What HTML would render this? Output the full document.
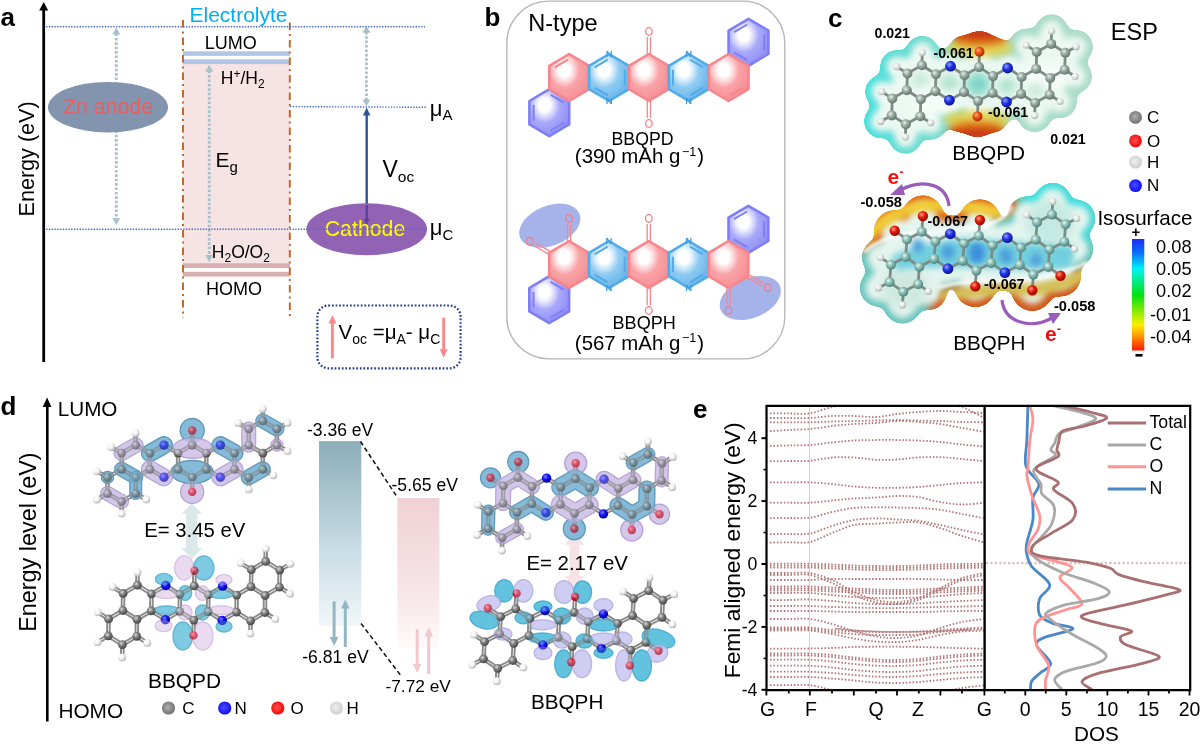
<!DOCTYPE html>
<html><head><meta charset="utf-8"><style>
html,body{margin:0;padding:0;background:#fff;overflow:hidden}
svg{display:block;will-change:transform}
text{font-family:"Liberation Sans",sans-serif}
</style></head><body>
<svg width="1200" height="752" viewBox="0 0 1200 752">
<rect width="1200" height="752" fill="#fff"/>
<text x="0.5" y="26.0" font-size="26" fill="#000" text-anchor="start" font-weight="bold" >a</text>
<rect x="183" y="63.5" width="107" height="200" fill="#f6e3e3"/>
<rect x="183" y="51.3" width="107" height="4.6" fill="#b3c5e6"/>
<rect x="183" y="59.3" width="107" height="4.8" fill="#b3c5e6"/>
<rect x="183" y="263.2" width="107" height="4.8" fill="#d8b0b2"/>
<rect x="183" y="271.8" width="107" height="4.8" fill="#d8b0b2"/>
<line x1="183" y1="20" x2="183" y2="318" stroke="#cc6018" stroke-width="1.9" stroke-dasharray="7.5 4 2 4"/>
<line x1="289.8" y1="22.5" x2="289.8" y2="318.5" stroke="#cc6018" stroke-width="1.9" stroke-dasharray="7.5 4 2 4"/>
<line x1="43.7" y1="9" x2="43.7" y2="362" stroke="#000" stroke-width="2.8"/>
<polygon points="43.7,2 39.2,10.5 48.2,10.5" fill="#000"/>
<line x1="116.3" y1="33.5" x2="116.3" y2="219" stroke="#a7c1c8" stroke-width="2.8" stroke-dasharray="2.6 1.8"/>
<polygon points="116.3,27.5 112.4,34.5 120.2,34.5" fill="#a7c1c8"/>
<polygon points="116.3,225.0 112.4,218.0 120.2,218.0" fill="#a7c1c8"/>
<ellipse cx="108" cy="107.2" rx="60" ry="25.3" fill="#8294ae"/>
<text x="108.0" y="114.0" font-size="21.3" fill="#f25b5b" text-anchor="middle" >Zn anode</text>
<line x1="209.2" y1="70.7" x2="209.2" y2="256" stroke="#a7c1c8" stroke-width="2.8" stroke-dasharray="2.6 1.8"/>
<polygon points="209.2,64.7 205.3,71.7 213.1,71.7" fill="#a7c1c8"/>
<polygon points="209.2,262.0 205.3,255.0 213.1,255.0" fill="#a7c1c8"/>
<line x1="366.4" y1="31.8" x2="366.4" y2="100.5" stroke="#a7c1c8" stroke-width="2.8" stroke-dasharray="2.6 1.8"/>
<polygon points="366.4,25.8 362.5,32.8 370.3,32.8" fill="#a7c1c8"/>
<polygon points="366.4,106.5 362.5,99.5 370.3,99.5" fill="#a7c1c8"/>
<line x1="366.7" y1="114" x2="366.7" y2="220" stroke="#2d54a0" stroke-width="2.4"/>
<polygon points="366.7,107.5 362.9,115.5 370.4,115.5" fill="#2d54a0"/>
<ellipse cx="366.7" cy="229.3" rx="60.3" ry="26" fill="#9263b5"/>
<polygon points="366.7,226.0 363.4,219.0 369.9,219.0" fill="#6a3fa4"/>
<line x1="366.7" y1="205" x2="366.7" y2="220" stroke="#5a3ca8" stroke-width="2.4"/>
<text x="365.0" y="235.8" font-size="21.3" fill="#ffff00" text-anchor="middle" >Cathode</text>
<line x1="46" y1="26.7" x2="425" y2="26.7" stroke="#4a70c8" stroke-width="1.4" stroke-dasharray="1.4 1.4"/>
<line x1="46" y1="229.2" x2="425" y2="229.2" stroke="#4a70c8" stroke-width="1.4" stroke-dasharray="1.4 1.4"/>
<line x1="290" y1="106.6" x2="425.8" y2="107.3" stroke="#4a70c8" stroke-width="1.4" stroke-dasharray="1.4 1.4"/>
<text x="189.5" y="22.0" font-size="21" fill="#00aeef" text-anchor="start" >Electrolyte</text>
<text x="204.8" y="48.8" font-size="18" fill="#000" text-anchor="start" >LUMO</text>
<text x="220.8" y="84" font-size="17.5">H<tspan font-size="12" dy="-6">+</tspan><tspan dy="6">/H</tspan><tspan font-size="12" dy="4">2</tspan></text>
<text x="215.5" y="166.7" font-size="21">E<tspan font-size="15" dy="5">g</tspan></text>
<text x="211.8" y="257.5" font-size="17.5">H<tspan font-size="12" dy="4">2</tspan><tspan dy="-4">O/O</tspan><tspan font-size="12" dy="4">2</tspan></text>
<text x="205.9" y="295.0" font-size="18" fill="#000" text-anchor="start" >HOMO</text>
<text x="429.8" y="115.5" font-size="22">μ<tspan font-size="15" dy="4.5">A</tspan></text>
<text x="429.8" y="235" font-size="22">μ<tspan font-size="15" dy="4.5">C</tspan></text>
<text x="382.5" y="176.7" font-size="23">V<tspan font-size="15.5" dy="5.5">oc</tspan></text>
<text transform="translate(34.2,216.5) rotate(-90)" font-size="21.6">Energy (eV)</text>
<rect x="317.4" y="305.5" width="143.2" height="62.8" rx="11" fill="none" stroke="#1d3d8c" stroke-width="2.2" stroke-dasharray="1.7 1.9"/>
<line x1="332.4" y1="358.3" x2="332.4" y2="322" stroke="#f78a8c" stroke-width="3"/>
<polygon points="332.4,315.0 328.4,323.5 336.4,323.5" fill="#f78a8c"/>
<line x1="443.7" y1="317.7" x2="443.7" y2="351" stroke="#f78a8c" stroke-width="3"/>
<polygon points="443.7,357.7 439.7,349.2 447.7,349.2" fill="#f78a8c"/>
<text x="338.5" y="339" font-size="20.5">V<tspan font-size="14" dy="4.5">oc</tspan><tspan dy="-4.5"> =μ</tspan><tspan font-size="14" dy="4.5">A</tspan><tspan dy="-4.5">- μ</tspan><tspan font-size="14" dy="4.5">C</tspan></text>
<defs>
<radialGradient id="g_pink" cx="0.38" cy="0.34" r="0.75"><stop offset="0" stop-color="#fff"/><stop offset="0.18" stop-color="#fff" stop-opacity="0.9"/><stop offset="0.5" stop-color="#f9a3a7"/><stop offset="1" stop-color="#f58a90"/></radialGradient>
<radialGradient id="g_blue" cx="0.38" cy="0.34" r="0.75"><stop offset="0" stop-color="#fff"/><stop offset="0.18" stop-color="#fff" stop-opacity="0.9"/><stop offset="0.5" stop-color="#8fcbf2"/><stop offset="1" stop-color="#5cb1ea"/></radialGradient>
<radialGradient id="g_purp" cx="0.38" cy="0.34" r="0.75"><stop offset="0" stop-color="#fff"/><stop offset="0.18" stop-color="#fff" stop-opacity="0.9"/><stop offset="0.5" stop-color="#a9a9fa"/><stop offset="1" stop-color="#8a8af4"/></radialGradient>
</defs>
<text x="484.5" y="26.0" font-size="26" fill="#000" text-anchor="start" font-weight="bold" >b</text>
<rect x="506.8" y="1.2" width="278" height="357.6" rx="42" fill="none" stroke="#b4b4b4" stroke-width="1.3"/>
<text x="528.2" y="31.3" font-size="23.6" fill="#000" text-anchor="start" >N-type</text>
<polygon points="549.3,89.2 569.2,101.0 569.2,124.4 549.3,136.2 529.4,124.4 529.4,101.0" fill="url(#g_purp)" stroke="#7f7ff4" stroke-width="2.6" stroke-linejoin="round"/>
<line x1="550.6" y1="94.9" x2="563.8" y2="102.6" stroke="#7f7ff4" stroke-width="2"/>
<line x1="533.6" y1="104.9" x2="533.6" y2="120.4" stroke="#7f7ff4" stroke-width="2"/>
<line x1="550.6" y1="130.5" x2="563.8" y2="122.8" stroke="#7f7ff4" stroke-width="2"/>
<polygon points="748.5,18.9 768.4,30.6 768.4,54.0 748.5,65.8 728.6,54.0 728.6,30.6" fill="url(#g_purp)" stroke="#7f7ff4" stroke-width="2.6" stroke-linejoin="round"/>
<line x1="734.0" y1="32.2" x2="747.2" y2="24.5" stroke="#7f7ff4" stroke-width="2"/>
<line x1="764.2" y1="34.6" x2="764.2" y2="50.1" stroke="#7f7ff4" stroke-width="2"/>
<line x1="747.2" y1="60.1" x2="734.0" y2="52.4" stroke="#7f7ff4" stroke-width="2"/>
<polygon points="569.2,54.0 589.1,65.8 589.1,89.2 569.2,101.0 549.3,89.2 549.3,65.8" fill="url(#g_pink)" stroke="#f7868c" stroke-width="2.6" stroke-linejoin="round"/>
<line x1="554.8" y1="67.4" x2="567.9" y2="59.7" stroke="#f7868c" stroke-width="2"/>
<polygon points="609.1,54.0 629.0,65.8 629.0,89.2 609.1,101.0 589.1,89.2 589.1,65.8" fill="url(#g_blue)" stroke="#52abe8" stroke-width="2.6" stroke-linejoin="round"/>
<line x1="594.6" y1="67.4" x2="607.7" y2="59.7" stroke="#52abe8" stroke-width="2"/>
<line x1="594.6" y1="87.6" x2="607.7" y2="95.3" stroke="#52abe8" stroke-width="2"/>
<line x1="624.8" y1="69.8" x2="624.8" y2="85.2" stroke="#52abe8" stroke-width="2"/>
<polygon points="648.9,54.0 668.8,65.8 668.8,89.2 648.9,101.0 629.0,89.2 629.0,65.8" fill="url(#g_pink)" stroke="#f7868c" stroke-width="2.6" stroke-linejoin="round"/>
<polygon points="688.7,54.0 708.7,65.8 708.7,89.2 688.7,101.0 668.8,89.2 668.8,65.8" fill="url(#g_blue)" stroke="#52abe8" stroke-width="2.6" stroke-linejoin="round"/>
<line x1="673.0" y1="69.8" x2="673.0" y2="85.2" stroke="#52abe8" stroke-width="2"/>
<line x1="690.1" y1="59.7" x2="703.2" y2="67.4" stroke="#52abe8" stroke-width="2"/>
<line x1="690.1" y1="95.3" x2="703.2" y2="87.6" stroke="#52abe8" stroke-width="2"/>
<polygon points="728.6,54.0 748.5,65.8 748.5,89.2 728.6,101.0 708.7,89.2 708.7,65.8" fill="url(#g_pink)" stroke="#f7868c" stroke-width="2.6" stroke-linejoin="round"/>
<line x1="743.0" y1="87.6" x2="729.9" y2="95.3" stroke="#f7868c" stroke-width="2"/>
<line x1="647.3" y1="54.0" x2="647.3" y2="37.0" stroke="#f7868c" stroke-width="1.3"/>
<line x1="650.5" y1="54.0" x2="650.5" y2="37.0" stroke="#f7868c" stroke-width="1.3"/>
<ellipse cx="648.9" cy="31.5" rx="3.3" ry="3.8" fill="none" stroke="#f47c82" stroke-width="1.3"/>
<line x1="650.5" y1="101.0" x2="650.5" y2="118.0" stroke="#f7868c" stroke-width="1.3"/>
<line x1="647.3" y1="101.0" x2="647.3" y2="118.0" stroke="#f7868c" stroke-width="1.3"/>
<ellipse cx="648.9" cy="123.5" rx="3.3" ry="3.8" fill="none" stroke="#f47c82" stroke-width="1.3"/>
<text x="609.1" y="57.4" font-size="9.5" fill="#3d9be0" text-anchor="middle" font-weight="bold">N</text>
<text x="609.1" y="104.4" font-size="9.5" fill="#3d9be0" text-anchor="middle" font-weight="bold">N</text>
<text x="688.7" y="57.4" font-size="9.5" fill="#3d9be0" text-anchor="middle" font-weight="bold">N</text>
<text x="688.7" y="104.4" font-size="9.5" fill="#3d9be0" text-anchor="middle" font-weight="bold">N</text>
<ellipse cx="549.8" cy="225.7" rx="32" ry="20" transform="rotate(-22 549.8 225.7)" fill="#97a4e6" fill-opacity="0.85"/>
<ellipse cx="750.3" cy="298.0" rx="32" ry="20" transform="rotate(-22 750.3 298.0)" fill="#97a4e6" fill-opacity="0.85"/>
<polygon points="549.2,276.2 569.1,288.0 569.1,311.4 549.2,323.1 529.3,311.4 529.3,288.0" fill="url(#g_purp)" stroke="#7f7ff4" stroke-width="2.6" stroke-linejoin="round"/>
<line x1="550.5" y1="281.9" x2="563.7" y2="289.6" stroke="#7f7ff4" stroke-width="2"/>
<line x1="533.5" y1="291.9" x2="533.5" y2="307.4" stroke="#7f7ff4" stroke-width="2"/>
<line x1="550.5" y1="317.5" x2="563.7" y2="309.8" stroke="#7f7ff4" stroke-width="2"/>
<polygon points="748.4,205.8 768.3,217.6 768.3,241.0 748.4,252.8 728.5,241.0 728.5,217.6" fill="url(#g_purp)" stroke="#7f7ff4" stroke-width="2.6" stroke-linejoin="round"/>
<line x1="733.9" y1="219.2" x2="747.1" y2="211.5" stroke="#7f7ff4" stroke-width="2"/>
<line x1="764.1" y1="221.6" x2="764.1" y2="237.1" stroke="#7f7ff4" stroke-width="2"/>
<line x1="747.1" y1="247.1" x2="733.9" y2="239.4" stroke="#7f7ff4" stroke-width="2"/>
<polygon points="569.1,241.0 589.0,252.8 589.0,276.2 569.1,288.0 549.2,276.2 549.2,252.8" fill="url(#g_pink)" stroke="#f7868c" stroke-width="2.6" stroke-linejoin="round"/>
<polygon points="609.0,241.0 628.9,252.8 628.9,276.2 609.0,288.0 589.0,276.2 589.0,252.8" fill="url(#g_blue)" stroke="#52abe8" stroke-width="2.6" stroke-linejoin="round"/>
<line x1="594.5" y1="254.4" x2="607.6" y2="246.7" stroke="#52abe8" stroke-width="2"/>
<line x1="594.5" y1="274.6" x2="607.6" y2="282.3" stroke="#52abe8" stroke-width="2"/>
<line x1="624.7" y1="256.8" x2="624.7" y2="272.2" stroke="#52abe8" stroke-width="2"/>
<polygon points="648.8,241.0 668.7,252.8 668.7,276.2 648.8,288.0 628.9,276.2 628.9,252.8" fill="url(#g_pink)" stroke="#f7868c" stroke-width="2.6" stroke-linejoin="round"/>
<polygon points="688.6,241.0 708.6,252.8 708.6,276.2 688.6,288.0 668.7,276.2 668.7,252.8" fill="url(#g_blue)" stroke="#52abe8" stroke-width="2.6" stroke-linejoin="round"/>
<line x1="672.9" y1="256.8" x2="672.9" y2="272.2" stroke="#52abe8" stroke-width="2"/>
<line x1="690.0" y1="246.7" x2="703.1" y2="254.4" stroke="#52abe8" stroke-width="2"/>
<line x1="690.0" y1="282.3" x2="703.1" y2="274.6" stroke="#52abe8" stroke-width="2"/>
<polygon points="728.5,241.0 748.4,252.8 748.4,276.2 728.5,288.0 708.6,276.2 708.6,252.8" fill="url(#g_pink)" stroke="#f7868c" stroke-width="2.6" stroke-linejoin="round"/>
<line x1="647.2" y1="241.0" x2="647.2" y2="224.0" stroke="#f7868c" stroke-width="1.3"/>
<line x1="650.4" y1="241.0" x2="650.4" y2="224.0" stroke="#f7868c" stroke-width="1.3"/>
<ellipse cx="648.8" cy="218.5" rx="3.3" ry="3.8" fill="none" stroke="#f47c82" stroke-width="1.3"/>
<line x1="650.4" y1="288.0" x2="650.4" y2="305.0" stroke="#f7868c" stroke-width="1.3"/>
<line x1="647.2" y1="288.0" x2="647.2" y2="305.0" stroke="#f7868c" stroke-width="1.3"/>
<ellipse cx="648.8" cy="310.5" rx="3.3" ry="3.8" fill="none" stroke="#f47c82" stroke-width="1.3"/>
<line x1="567.5" y1="241.0" x2="567.5" y2="224.0" stroke="#f7868c" stroke-width="1.3"/>
<line x1="570.7" y1="241.0" x2="570.7" y2="224.0" stroke="#f7868c" stroke-width="1.3"/>
<ellipse cx="569.1" cy="218.5" rx="3.3" ry="3.8" fill="none" stroke="#f47c82" stroke-width="1.3"/>
<line x1="548.4" y1="254.1" x2="533.7" y2="245.5" stroke="#f7868c" stroke-width="1.3"/>
<line x1="550.0" y1="251.4" x2="535.3" y2="242.7" stroke="#f7868c" stroke-width="1.3"/>
<ellipse cx="529.8" cy="241.3" rx="3.3" ry="3.8" fill="none" stroke="#f47c82" stroke-width="1.3"/>
<line x1="730.1" y1="288.0" x2="730.1" y2="305.0" stroke="#f7868c" stroke-width="1.3"/>
<line x1="726.9" y1="288.0" x2="726.9" y2="305.0" stroke="#f7868c" stroke-width="1.3"/>
<ellipse cx="728.5" cy="310.5" rx="3.3" ry="3.8" fill="none" stroke="#f47c82" stroke-width="1.3"/>
<line x1="749.2" y1="274.9" x2="763.9" y2="283.5" stroke="#f7868c" stroke-width="1.3"/>
<line x1="747.6" y1="277.6" x2="762.3" y2="286.3" stroke="#f7868c" stroke-width="1.3"/>
<ellipse cx="767.8" cy="287.7" rx="3.3" ry="3.8" fill="none" stroke="#f47c82" stroke-width="1.3"/>
<text x="609.0" y="244.4" font-size="9.5" fill="#3d9be0" text-anchor="middle" font-weight="bold">N</text>
<text x="609.0" y="291.4" font-size="9.5" fill="#3d9be0" text-anchor="middle" font-weight="bold">N</text>
<text x="688.6" y="244.4" font-size="9.5" fill="#3d9be0" text-anchor="middle" font-weight="bold">N</text>
<text x="688.6" y="291.4" font-size="9.5" fill="#3d9be0" text-anchor="middle" font-weight="bold">N</text>
<text x="642.5" y="144.7" font-size="17.7" fill="#000" text-anchor="middle" >BBQPD</text>
<text x="639.4" y="163.3" font-size="20.4" text-anchor="middle">(390 mAh g<tspan font-size="12.5" dy="-7.5" dx="1.6">−1</tspan><tspan dy="7.5" dx="1">)</tspan></text>
<text x="644.2" y="329.2" font-size="18.1" fill="#000" text-anchor="middle" >BBQPH</text>
<text x="639.4" y="349.5" font-size="20.4" text-anchor="middle">(567 mAh g<tspan font-size="12.5" dy="-7.5" dx="1.6">−1</tspan><tspan dy="7.5" dx="1">)</tspan></text>
<defs>
<radialGradient id="bC" cx="0.38" cy="0.35" r="0.7"><stop offset="0" stop-color="#e8efec"/><stop offset="0.45" stop-color="#94a89e"/><stop offset="1" stop-color="#5e6e66"/></radialGradient>
<radialGradient id="bN" cx="0.38" cy="0.35" r="0.7"><stop offset="0" stop-color="#8fa0ff"/><stop offset="0.45" stop-color="#1f34e0"/><stop offset="1" stop-color="#0a0f8a"/></radialGradient>
<radialGradient id="bO" cx="0.38" cy="0.35" r="0.7"><stop offset="0" stop-color="#ffb070"/><stop offset="0.45" stop-color="#e85010"/><stop offset="1" stop-color="#9a2a00"/></radialGradient>
<radialGradient id="bH" cx="0.38" cy="0.35" r="0.7"><stop offset="0" stop-color="#ffffff"/><stop offset="0.45" stop-color="#e4e8e6"/><stop offset="1" stop-color="#a8b0ac"/></radialGradient>
<radialGradient id="bO2" cx="0.38" cy="0.35" r="0.7"><stop offset="0" stop-color="#ff9a80"/><stop offset="0.45" stop-color="#e01a0a"/><stop offset="1" stop-color="#8a0800"/></radialGradient>
<radialGradient id="bCc" cx="0.38" cy="0.35" r="0.7"><stop offset="0" stop-color="#e4f6f2"/><stop offset="0.45" stop-color="#86bab2"/><stop offset="1" stop-color="#4a7c76"/></radialGradient>
<radialGradient id="dC" cx="0.38" cy="0.35" r="0.7"><stop offset="0" stop-color="#d8d8d8"/><stop offset="0.45" stop-color="#7a7a7a"/><stop offset="1" stop-color="#3e3e3e"/></radialGradient>
<radialGradient id="dN" cx="0.38" cy="0.35" r="0.7"><stop offset="0" stop-color="#8080ff"/><stop offset="0.45" stop-color="#1010f0"/><stop offset="1" stop-color="#00008a"/></radialGradient>
<radialGradient id="dO" cx="0.38" cy="0.35" r="0.7"><stop offset="0" stop-color="#ff9090"/><stop offset="0.45" stop-color="#e8102a"/><stop offset="1" stop-color="#8a0010"/></radialGradient>
<radialGradient id="dH" cx="0.38" cy="0.35" r="0.7"><stop offset="0" stop-color="#ffffff"/><stop offset="0.45" stop-color="#f4f4f4"/><stop offset="1" stop-color="#b0b0b0"/></radialGradient>
<radialGradient id="dCb" cx="0.38" cy="0.35" r="0.7"><stop offset="0" stop-color="#bfe0ee"/><stop offset="0.45" stop-color="#3f8fae"/><stop offset="1" stop-color="#1d5a74"/></radialGradient>
<radialGradient id="dCp" cx="0.38" cy="0.35" r="0.7"><stop offset="0" stop-color="#efe0f4"/><stop offset="0.45" stop-color="#b89cc8"/><stop offset="1" stop-color="#7d5e92"/></radialGradient>
<filter id="goo" x="-20%" y="-20%" width="140%" height="140%"><feGaussianBlur stdDeviation="4.5"/><feComponentTransfer><feFuncA type="linear" slope="24" intercept="-10"/></feComponentTransfer></filter>
<filter id="bl3" x="-50%" y="-50%" width="200%" height="200%"><feGaussianBlur stdDeviation="3"/></filter>
<filter id="bl5" x="-50%" y="-50%" width="200%" height="200%"><feGaussianBlur stdDeviation="5"/></filter>
<filter id="bl8" x="-50%" y="-50%" width="200%" height="200%"><feGaussianBlur stdDeviation="8"/></filter>
<filter id="bl2" x="-50%" y="-50%" width="200%" height="200%"><feGaussianBlur stdDeviation="1.6"/></filter>
</defs>
<text x="828.0" y="27.3" font-size="26" fill="#000" text-anchor="start" font-weight="bold" >c</text>
<mask id="mpd" maskUnits="userSpaceOnUse" x="0" y="0" width="1200" height="752"><g filter="url(#goo)">
<circle cx="921.9" cy="65.3" r="17.5" fill="#fff"/>
<circle cx="935.9" cy="74.3" r="17.5" fill="#fff"/>
<circle cx="935.4" cy="91.2" r="17.5" fill="#fff"/>
<circle cx="920.8" cy="99.3" r="17.5" fill="#fff"/>
<circle cx="906.8" cy="90.3" r="17.5" fill="#fff"/>
<circle cx="907.4" cy="73.4" r="17.5" fill="#fff"/>
<circle cx="950.5" cy="66.2" r="17.5" fill="#fff"/>
<circle cx="964.5" cy="75.2" r="17.5" fill="#fff"/>
<circle cx="964.0" cy="92.1" r="17.5" fill="#fff"/>
<circle cx="949.4" cy="100.2" r="17.5" fill="#fff"/>
<circle cx="979.0" cy="67.1" r="17.5" fill="#fff"/>
<circle cx="993.0" cy="76.1" r="17.5" fill="#fff"/>
<circle cx="992.5" cy="93.0" r="17.5" fill="#fff"/>
<circle cx="978.0" cy="101.1" r="17.5" fill="#fff"/>
<circle cx="1007.6" cy="68.0" r="17.5" fill="#fff"/>
<circle cx="1021.6" cy="77.0" r="17.5" fill="#fff"/>
<circle cx="1021.1" cy="93.9" r="17.5" fill="#fff"/>
<circle cx="1006.5" cy="102.0" r="17.5" fill="#fff"/>
<circle cx="1036.2" cy="68.9" r="17.5" fill="#fff"/>
<circle cx="1050.2" cy="77.9" r="17.5" fill="#fff"/>
<circle cx="1049.6" cy="94.8" r="17.5" fill="#fff"/>
<circle cx="1035.1" cy="102.9" r="17.5" fill="#fff"/>
<circle cx="920.3" cy="116.3" r="17.5" fill="#fff"/>
<circle cx="905.8" cy="124.3" r="17.5" fill="#fff"/>
<circle cx="891.7" cy="115.4" r="17.5" fill="#fff"/>
<circle cx="892.3" cy="98.4" r="17.5" fill="#fff"/>
<circle cx="1051.2" cy="43.9" r="17.5" fill="#fff"/>
<circle cx="1065.3" cy="52.8" r="17.5" fill="#fff"/>
<circle cx="1064.7" cy="69.8" r="17.5" fill="#fff"/>
<circle cx="1036.7" cy="51.9" r="17.5" fill="#fff"/>
<circle cx="979.5" cy="51.8" r="20.5" fill="#fff"/>
<circle cx="977.5" cy="116.4" r="20.5" fill="#fff"/>
<circle cx="881.8" cy="91.7" r="16.5" fill="#fff"/>
<circle cx="880.8" cy="121.4" r="16.5" fill="#fff"/>
<circle cx="905.4" cy="137.1" r="16.5" fill="#fff"/>
<circle cx="930.8" cy="123.0" r="16.5" fill="#fff"/>
<circle cx="1051.6" cy="31.1" r="16.5" fill="#fff"/>
<circle cx="1076.2" cy="46.8" r="16.5" fill="#fff"/>
<circle cx="1075.2" cy="76.5" r="16.5" fill="#fff"/>
<circle cx="1026.2" cy="45.2" r="16.5" fill="#fff"/>
<circle cx="922.3" cy="52.6" r="16.5" fill="#fff"/>
<circle cx="896.8" cy="66.7" r="16.5" fill="#fff"/>
<circle cx="1034.7" cy="115.6" r="16.5" fill="#fff"/>
<circle cx="1060.2" cy="101.5" r="16.5" fill="#fff"/>
<circle cx="963.0" cy="50.0" r="14" fill="#fff"/>
<circle cx="996.0" cy="52.0" r="14" fill="#fff"/>
<circle cx="960.0" cy="118.0" r="14" fill="#fff"/>
<circle cx="994.0" cy="118.0" r="14" fill="#fff"/>
</g></mask>
<g mask="url(#mpd)">
<defs><linearGradient id="rimPD" x1="850" y1="0" x2="1100" y2="0" gradientUnits="userSpaceOnUse"><stop offset="0" stop-color="#3ee0e0"/><stop offset="0.25" stop-color="#6adcd2"/><stop offset="0.55" stop-color="#a6dcc8"/><stop offset="1" stop-color="#acdcc8"/></linearGradient></defs>
<rect x="850" y="0" width="260" height="170" fill="url(#rimPD)"/>
<g filter="url(#bl3)"><g filter="url(#goo)"><circle cx="921.9" cy="65.3" r="12.5" fill="#ecf8f2"/><circle cx="935.9" cy="74.3" r="12.5" fill="#ecf8f2"/><circle cx="935.4" cy="91.2" r="12.5" fill="#ecf8f2"/><circle cx="920.8" cy="99.3" r="12.5" fill="#ecf8f2"/><circle cx="906.8" cy="90.3" r="12.5" fill="#ecf8f2"/><circle cx="907.4" cy="73.4" r="12.5" fill="#ecf8f2"/><circle cx="950.5" cy="66.2" r="12.5" fill="#ecf8f2"/><circle cx="964.5" cy="75.2" r="12.5" fill="#ecf8f2"/><circle cx="964.0" cy="92.1" r="12.5" fill="#ecf8f2"/><circle cx="949.4" cy="100.2" r="12.5" fill="#ecf8f2"/><circle cx="979.0" cy="67.1" r="12.5" fill="#ecf8f2"/><circle cx="993.0" cy="76.1" r="12.5" fill="#ecf8f2"/><circle cx="992.5" cy="93.0" r="12.5" fill="#ecf8f2"/><circle cx="978.0" cy="101.1" r="12.5" fill="#ecf8f2"/><circle cx="1007.6" cy="68.0" r="12.5" fill="#ecf8f2"/><circle cx="1021.6" cy="77.0" r="12.5" fill="#ecf8f2"/><circle cx="1021.1" cy="93.9" r="12.5" fill="#ecf8f2"/><circle cx="1006.5" cy="102.0" r="12.5" fill="#ecf8f2"/><circle cx="1036.2" cy="68.9" r="12.5" fill="#ecf8f2"/><circle cx="1050.2" cy="77.9" r="12.5" fill="#ecf8f2"/><circle cx="1049.6" cy="94.8" r="12.5" fill="#ecf8f2"/><circle cx="1035.1" cy="102.9" r="12.5" fill="#ecf8f2"/><circle cx="920.3" cy="116.3" r="12.5" fill="#ecf8f2"/><circle cx="905.8" cy="124.3" r="12.5" fill="#ecf8f2"/><circle cx="891.7" cy="115.4" r="12.5" fill="#ecf8f2"/><circle cx="892.3" cy="98.4" r="12.5" fill="#ecf8f2"/><circle cx="1051.2" cy="43.9" r="12.5" fill="#ecf8f2"/><circle cx="1065.3" cy="52.8" r="12.5" fill="#ecf8f2"/><circle cx="1064.7" cy="69.8" r="12.5" fill="#ecf8f2"/><circle cx="1036.7" cy="51.9" r="12.5" fill="#ecf8f2"/><circle cx="979.5" cy="51.8" r="11" fill="#ecf8f2"/><circle cx="977.5" cy="116.4" r="11" fill="#ecf8f2"/><circle cx="881.8" cy="91.7" r="10.5" fill="#ecf8f2"/><circle cx="880.8" cy="121.4" r="10.5" fill="#ecf8f2"/><circle cx="905.4" cy="137.1" r="10.5" fill="#ecf8f2"/><circle cx="930.8" cy="123.0" r="10.5" fill="#ecf8f2"/><circle cx="1051.6" cy="31.1" r="10.5" fill="#ecf8f2"/><circle cx="1076.2" cy="46.8" r="10.5" fill="#ecf8f2"/><circle cx="1075.2" cy="76.5" r="10.5" fill="#ecf8f2"/><circle cx="1026.2" cy="45.2" r="10.5" fill="#ecf8f2"/><circle cx="922.3" cy="52.6" r="10.5" fill="#ecf8f2"/><circle cx="896.8" cy="66.7" r="10.5" fill="#ecf8f2"/><circle cx="1034.7" cy="115.6" r="10.5" fill="#ecf8f2"/><circle cx="1060.2" cy="101.5" r="10.5" fill="#ecf8f2"/></g></g>
<g filter="url(#bl5)"><ellipse cx="935" cy="102" rx="24" ry="14" fill="#f4fcf8"/><ellipse cx="1045" cy="76" rx="24" ry="14" fill="#f6fcf9"/><ellipse cx="978" cy="84" rx="12" ry="12" fill="#7fd6c6"/><ellipse cx="949" cy="83" rx="9" ry="8" fill="#a8e0cc"/><ellipse cx="1007" cy="86" rx="9" ry="8" fill="#a8e0cc"/><ellipse cx="920" cy="80" rx="9" ry="7" fill="#c4e8d6"/><ellipse cx="1036" cy="90" rx="9" ry="7" fill="#c4e8d6"/></g>
<g filter="url(#bl3)"><ellipse cx="979.8" cy="48.0" rx="33" ry="9" fill="#e4d24a" fill-opacity="0.9"/><ellipse cx="979.8" cy="39.0" rx="28" ry="8" fill="#e07a18"/><ellipse cx="979.8" cy="33.0" rx="30" ry="7" fill="#c83a12"/></g>
<g filter="url(#bl3)"><ellipse cx="976.8" cy="119.4" rx="33" ry="9" fill="#e4d24a" fill-opacity="0.9"/><ellipse cx="976.8" cy="128.4" rx="28" ry="8" fill="#e07a18"/><ellipse cx="976.8" cy="134.4" rx="30" ry="7" fill="#c83a12"/></g>
</g>
<line x1="921.9" y1="65.3" x2="935.9" y2="74.3" stroke="#7d8c86" stroke-width="2.8"/>
<line x1="921.9" y1="65.3" x2="907.4" y2="73.4" stroke="#7d8c86" stroke-width="2.8"/>
<line x1="921.9" y1="65.3" x2="922.3" y2="52.6" stroke="#7d8c86" stroke-width="2.8"/>
<line x1="935.9" y1="74.3" x2="935.4" y2="91.2" stroke="#7d8c86" stroke-width="2.8"/>
<line x1="935.9" y1="74.3" x2="950.5" y2="66.2" stroke="#7d8c86" stroke-width="2.8"/>
<line x1="935.4" y1="91.2" x2="920.8" y2="99.3" stroke="#7d8c86" stroke-width="2.8"/>
<line x1="935.4" y1="91.2" x2="949.4" y2="100.2" stroke="#7d8c86" stroke-width="2.8"/>
<line x1="920.8" y1="99.3" x2="906.8" y2="90.3" stroke="#7d8c86" stroke-width="2.8"/>
<line x1="920.8" y1="99.3" x2="920.3" y2="116.3" stroke="#7d8c86" stroke-width="2.8"/>
<line x1="906.8" y1="90.3" x2="907.4" y2="73.4" stroke="#7d8c86" stroke-width="2.8"/>
<line x1="906.8" y1="90.3" x2="892.3" y2="98.4" stroke="#7d8c86" stroke-width="2.8"/>
<line x1="907.4" y1="73.4" x2="896.8" y2="66.7" stroke="#7d8c86" stroke-width="2.8"/>
<line x1="950.5" y1="66.2" x2="964.5" y2="75.2" stroke="#7d8c86" stroke-width="2.8"/>
<line x1="964.5" y1="75.2" x2="964.0" y2="92.1" stroke="#7d8c86" stroke-width="2.8"/>
<line x1="964.5" y1="75.2" x2="979.0" y2="67.1" stroke="#7d8c86" stroke-width="2.8"/>
<line x1="964.0" y1="92.1" x2="949.4" y2="100.2" stroke="#7d8c86" stroke-width="2.8"/>
<line x1="964.0" y1="92.1" x2="978.0" y2="101.1" stroke="#7d8c86" stroke-width="2.8"/>
<line x1="979.0" y1="67.1" x2="993.0" y2="76.1" stroke="#7d8c86" stroke-width="2.8"/>
<line x1="979.0" y1="67.1" x2="979.5" y2="51.8" stroke="#7d8c86" stroke-width="2.8"/>
<line x1="993.0" y1="76.1" x2="992.5" y2="93.0" stroke="#7d8c86" stroke-width="2.8"/>
<line x1="993.0" y1="76.1" x2="1007.6" y2="68.0" stroke="#7d8c86" stroke-width="2.8"/>
<line x1="992.5" y1="93.0" x2="978.0" y2="101.1" stroke="#7d8c86" stroke-width="2.8"/>
<line x1="992.5" y1="93.0" x2="1006.5" y2="102.0" stroke="#7d8c86" stroke-width="2.8"/>
<line x1="978.0" y1="101.1" x2="977.5" y2="116.4" stroke="#7d8c86" stroke-width="2.8"/>
<line x1="1007.6" y1="68.0" x2="1021.6" y2="77.0" stroke="#7d8c86" stroke-width="2.8"/>
<line x1="1021.6" y1="77.0" x2="1021.1" y2="93.9" stroke="#7d8c86" stroke-width="2.8"/>
<line x1="1021.6" y1="77.0" x2="1036.2" y2="68.9" stroke="#7d8c86" stroke-width="2.8"/>
<line x1="1021.1" y1="93.9" x2="1006.5" y2="102.0" stroke="#7d8c86" stroke-width="2.8"/>
<line x1="1021.1" y1="93.9" x2="1035.1" y2="102.9" stroke="#7d8c86" stroke-width="2.8"/>
<line x1="1036.2" y1="68.9" x2="1050.2" y2="77.9" stroke="#7d8c86" stroke-width="2.8"/>
<line x1="1036.2" y1="68.9" x2="1036.7" y2="51.9" stroke="#7d8c86" stroke-width="2.8"/>
<line x1="1050.2" y1="77.9" x2="1049.6" y2="94.8" stroke="#7d8c86" stroke-width="2.8"/>
<line x1="1050.2" y1="77.9" x2="1064.7" y2="69.8" stroke="#7d8c86" stroke-width="2.8"/>
<line x1="1049.6" y1="94.8" x2="1035.1" y2="102.9" stroke="#7d8c86" stroke-width="2.8"/>
<line x1="1049.6" y1="94.8" x2="1060.2" y2="101.5" stroke="#7d8c86" stroke-width="2.8"/>
<line x1="1035.1" y1="102.9" x2="1034.7" y2="115.6" stroke="#7d8c86" stroke-width="2.8"/>
<line x1="920.3" y1="116.3" x2="905.8" y2="124.3" stroke="#7d8c86" stroke-width="2.8"/>
<line x1="920.3" y1="116.3" x2="930.8" y2="123.0" stroke="#7d8c86" stroke-width="2.8"/>
<line x1="905.8" y1="124.3" x2="891.7" y2="115.4" stroke="#7d8c86" stroke-width="2.8"/>
<line x1="905.8" y1="124.3" x2="905.4" y2="137.1" stroke="#7d8c86" stroke-width="2.8"/>
<line x1="891.7" y1="115.4" x2="892.3" y2="98.4" stroke="#7d8c86" stroke-width="2.8"/>
<line x1="891.7" y1="115.4" x2="880.8" y2="121.4" stroke="#7d8c86" stroke-width="2.8"/>
<line x1="892.3" y1="98.4" x2="881.8" y2="91.7" stroke="#7d8c86" stroke-width="2.8"/>
<line x1="1051.2" y1="43.9" x2="1065.3" y2="52.8" stroke="#7d8c86" stroke-width="2.8"/>
<line x1="1051.2" y1="43.9" x2="1036.7" y2="51.9" stroke="#7d8c86" stroke-width="2.8"/>
<line x1="1051.2" y1="43.9" x2="1051.6" y2="31.1" stroke="#7d8c86" stroke-width="2.8"/>
<line x1="1065.3" y1="52.8" x2="1064.7" y2="69.8" stroke="#7d8c86" stroke-width="2.8"/>
<line x1="1065.3" y1="52.8" x2="1076.2" y2="46.8" stroke="#7d8c86" stroke-width="2.8"/>
<line x1="1064.7" y1="69.8" x2="1075.2" y2="76.5" stroke="#7d8c86" stroke-width="2.8"/>
<line x1="1036.7" y1="51.9" x2="1026.2" y2="45.2" stroke="#7d8c86" stroke-width="2.8"/>
<circle cx="921.9" cy="65.3" r="5" fill="url(#bC)"/>
<circle cx="935.9" cy="74.3" r="5" fill="url(#bC)"/>
<circle cx="935.4" cy="91.2" r="5" fill="url(#bC)"/>
<circle cx="920.8" cy="99.3" r="5" fill="url(#bC)"/>
<circle cx="906.8" cy="90.3" r="5" fill="url(#bC)"/>
<circle cx="907.4" cy="73.4" r="5" fill="url(#bC)"/>
<circle cx="950.5" cy="66.2" r="5.4" fill="url(#bN)"/>
<circle cx="964.5" cy="75.2" r="5" fill="url(#bC)"/>
<circle cx="964.0" cy="92.1" r="5" fill="url(#bC)"/>
<circle cx="949.4" cy="100.2" r="5.4" fill="url(#bN)"/>
<circle cx="979.0" cy="67.1" r="5" fill="url(#bC)"/>
<circle cx="993.0" cy="76.1" r="5" fill="url(#bC)"/>
<circle cx="992.5" cy="93.0" r="5" fill="url(#bC)"/>
<circle cx="978.0" cy="101.1" r="5" fill="url(#bC)"/>
<circle cx="1007.6" cy="68.0" r="5.4" fill="url(#bN)"/>
<circle cx="1021.6" cy="77.0" r="5" fill="url(#bC)"/>
<circle cx="1021.1" cy="93.9" r="5" fill="url(#bC)"/>
<circle cx="1006.5" cy="102.0" r="5.4" fill="url(#bN)"/>
<circle cx="1036.2" cy="68.9" r="5" fill="url(#bC)"/>
<circle cx="1050.2" cy="77.9" r="5" fill="url(#bC)"/>
<circle cx="1049.6" cy="94.8" r="5" fill="url(#bC)"/>
<circle cx="1035.1" cy="102.9" r="5" fill="url(#bC)"/>
<circle cx="920.3" cy="116.3" r="5" fill="url(#bC)"/>
<circle cx="905.8" cy="124.3" r="5" fill="url(#bC)"/>
<circle cx="891.7" cy="115.4" r="5" fill="url(#bC)"/>
<circle cx="892.3" cy="98.4" r="5" fill="url(#bC)"/>
<circle cx="1051.2" cy="43.9" r="5" fill="url(#bC)"/>
<circle cx="1065.3" cy="52.8" r="5" fill="url(#bC)"/>
<circle cx="1064.7" cy="69.8" r="5" fill="url(#bC)"/>
<circle cx="1036.7" cy="51.9" r="5" fill="url(#bC)"/>
<circle cx="979.5" cy="51.8" r="5" fill="url(#bO)"/>
<circle cx="977.5" cy="116.4" r="5" fill="url(#bO)"/>
<circle cx="881.8" cy="91.7" r="3.6" fill="url(#bH)"/>
<circle cx="880.8" cy="121.4" r="3.6" fill="url(#bH)"/>
<circle cx="905.4" cy="137.1" r="3.6" fill="url(#bH)"/>
<circle cx="930.8" cy="123.0" r="3.6" fill="url(#bH)"/>
<circle cx="1051.6" cy="31.1" r="3.6" fill="url(#bH)"/>
<circle cx="1076.2" cy="46.8" r="3.6" fill="url(#bH)"/>
<circle cx="1075.2" cy="76.5" r="3.6" fill="url(#bH)"/>
<circle cx="1026.2" cy="45.2" r="3.6" fill="url(#bH)"/>
<circle cx="922.3" cy="52.6" r="3.6" fill="url(#bH)"/>
<circle cx="896.8" cy="66.7" r="3.6" fill="url(#bH)"/>
<circle cx="1034.7" cy="115.6" r="3.6" fill="url(#bH)"/>
<circle cx="1060.2" cy="101.5" r="3.6" fill="url(#bH)"/>
<mask id="mph" maskUnits="userSpaceOnUse" x="0" y="0" width="1200" height="752"><g filter="url(#goo)">
<circle cx="921.8" cy="231.8" r="18.5" fill="#fff"/>
<circle cx="935.4" cy="241.5" r="18.5" fill="#fff"/>
<circle cx="934.2" cy="258.9" r="18.5" fill="#fff"/>
<circle cx="919.4" cy="266.7" r="18.5" fill="#fff"/>
<circle cx="905.7" cy="256.9" r="18.5" fill="#fff"/>
<circle cx="906.9" cy="239.5" r="18.5" fill="#fff"/>
<circle cx="950.3" cy="233.8" r="18" fill="#fff"/>
<circle cx="964.0" cy="243.5" r="18.5" fill="#fff"/>
<circle cx="962.7" cy="260.9" r="18.5" fill="#fff"/>
<circle cx="947.9" cy="268.7" r="18" fill="#fff"/>
<circle cx="978.8" cy="235.8" r="18.5" fill="#fff"/>
<circle cx="992.5" cy="245.5" r="18.5" fill="#fff"/>
<circle cx="991.2" cy="262.9" r="18.5" fill="#fff"/>
<circle cx="976.4" cy="270.6" r="18.5" fill="#fff"/>
<circle cx="1007.3" cy="237.7" r="18" fill="#fff"/>
<circle cx="1021.0" cy="247.5" r="18.5" fill="#fff"/>
<circle cx="1019.8" cy="264.9" r="18.5" fill="#fff"/>
<circle cx="1004.9" cy="272.6" r="18" fill="#fff"/>
<circle cx="1035.8" cy="239.7" r="18.5" fill="#fff"/>
<circle cx="1049.5" cy="249.5" r="18.5" fill="#fff"/>
<circle cx="1048.3" cy="266.9" r="18.5" fill="#fff"/>
<circle cx="1033.4" cy="274.6" r="18.5" fill="#fff"/>
<circle cx="918.1" cy="284.1" r="18.5" fill="#fff"/>
<circle cx="903.3" cy="291.8" r="18.5" fill="#fff"/>
<circle cx="889.6" cy="282.1" r="18.5" fill="#fff"/>
<circle cx="890.9" cy="264.7" r="18.5" fill="#fff"/>
<circle cx="1051.9" cy="214.6" r="18.5" fill="#fff"/>
<circle cx="1065.6" cy="224.3" r="18.5" fill="#fff"/>
<circle cx="1064.3" cy="241.7" r="18.5" fill="#fff"/>
<circle cx="1037.1" cy="222.3" r="18.5" fill="#fff"/>
<circle cx="979.9" cy="220.0" r="20.5" fill="#fff"/>
<circle cx="975.3" cy="286.4" r="20.5" fill="#fff"/>
<circle cx="922.9" cy="216.1" r="20.5" fill="#fff"/>
<circle cx="894.7" cy="230.7" r="20.5" fill="#fff"/>
<circle cx="1032.3" cy="290.3" r="20.5" fill="#fff"/>
<circle cx="1060.5" cy="275.7" r="20.5" fill="#fff"/>
<circle cx="880.6" cy="257.4" r="18.5" fill="#fff"/>
<circle cx="878.5" cy="287.9" r="18.5" fill="#fff"/>
<circle cx="902.4" cy="304.9" r="18.5" fill="#fff"/>
<circle cx="928.4" cy="291.4" r="18.5" fill="#fff"/>
<circle cx="1052.8" cy="201.5" r="18.5" fill="#fff"/>
<circle cx="1076.7" cy="218.5" r="18.5" fill="#fff"/>
<circle cx="1074.6" cy="249.0" r="18.5" fill="#fff"/>
<circle cx="1026.8" cy="215.0" r="18.5" fill="#fff"/>
</g></mask>
<g mask="url(#mph)">
<rect x="850" y="170" width="260" height="170" fill="#6cc6be"/>
<g filter="url(#bl8)"><ellipse cx="1055" cy="215" rx="42" ry="40" fill="#3cdede"/></g>
<g filter="url(#bl5)"><path d="M850,240 Q858,190 900,180 Q960,182 1012,196 L1022,210 Q990,222 950,224 Q900,230 862,252 Z" fill="#e06418"/><path d="M930,292 Q980,280 1030,282 Q1070,276 1100,262 L1105,325 L930,325 Z" fill="#d25a1e"/></g>
<g filter="url(#bl3)"><g filter="url(#goo)"><circle cx="921.8" cy="231.8" r="14" fill="#e4f4ee"/><circle cx="935.4" cy="241.5" r="14" fill="#e4f4ee"/><circle cx="934.2" cy="258.9" r="14" fill="#e4f4ee"/><circle cx="919.4" cy="266.7" r="14" fill="#e4f4ee"/><circle cx="905.7" cy="256.9" r="14" fill="#e4f4ee"/><circle cx="906.9" cy="239.5" r="14" fill="#e4f4ee"/><circle cx="950.3" cy="233.8" r="13.5" fill="#e4f4ee"/><circle cx="964.0" cy="243.5" r="14" fill="#e4f4ee"/><circle cx="962.7" cy="260.9" r="14" fill="#e4f4ee"/><circle cx="947.9" cy="268.7" r="13.5" fill="#e4f4ee"/><circle cx="978.8" cy="235.8" r="14" fill="#e4f4ee"/><circle cx="992.5" cy="245.5" r="14" fill="#e4f4ee"/><circle cx="991.2" cy="262.9" r="14" fill="#e4f4ee"/><circle cx="976.4" cy="270.6" r="14" fill="#e4f4ee"/><circle cx="1007.3" cy="237.7" r="13.5" fill="#e4f4ee"/><circle cx="1021.0" cy="247.5" r="14" fill="#e4f4ee"/><circle cx="1019.8" cy="264.9" r="14" fill="#e4f4ee"/><circle cx="1004.9" cy="272.6" r="13.5" fill="#e4f4ee"/><circle cx="1035.8" cy="239.7" r="14" fill="#e4f4ee"/><circle cx="1049.5" cy="249.5" r="14" fill="#e4f4ee"/><circle cx="1048.3" cy="266.9" r="14" fill="#e4f4ee"/><circle cx="1033.4" cy="274.6" r="14" fill="#e4f4ee"/><circle cx="918.1" cy="284.1" r="14" fill="#e4f4ee"/><circle cx="903.3" cy="291.8" r="14" fill="#e4f4ee"/><circle cx="889.6" cy="282.1" r="14" fill="#e4f4ee"/><circle cx="890.9" cy="264.7" r="14" fill="#e4f4ee"/><circle cx="1051.9" cy="214.6" r="14" fill="#e4f4ee"/><circle cx="1065.6" cy="224.3" r="14" fill="#e4f4ee"/><circle cx="1064.3" cy="241.7" r="14" fill="#e4f4ee"/><circle cx="1037.1" cy="222.3" r="14" fill="#e4f4ee"/><circle cx="979.9" cy="220.0" r="13.5" fill="#e4f4ee"/><circle cx="975.3" cy="286.4" r="13.5" fill="#e4f4ee"/><circle cx="922.9" cy="216.1" r="13.5" fill="#e4f4ee"/><circle cx="894.7" cy="230.7" r="13.5" fill="#e4f4ee"/><circle cx="1032.3" cy="290.3" r="13.5" fill="#e4f4ee"/><circle cx="1060.5" cy="275.7" r="13.5" fill="#e4f4ee"/><circle cx="880.6" cy="257.4" r="13" fill="#e4f4ee"/><circle cx="878.5" cy="287.9" r="13" fill="#e4f4ee"/><circle cx="902.4" cy="304.9" r="13" fill="#e4f4ee"/><circle cx="928.4" cy="291.4" r="13" fill="#e4f4ee"/><circle cx="1052.8" cy="201.5" r="13" fill="#e4f4ee"/><circle cx="1076.7" cy="218.5" r="13" fill="#e4f4ee"/><circle cx="1074.6" cy="249.0" r="13" fill="#e4f4ee"/><circle cx="1026.8" cy="215.0" r="13" fill="#e4f4ee"/></g></g>
<g filter="url(#bl5)"><ellipse cx="1050" cy="222" rx="24" ry="22" fill="#c4eae2"/><ellipse cx="905" cy="288" rx="24" ry="20" fill="#cfe9e0"/></g>
<g filter="url(#bl3)" fill="none" stroke-linecap="round"><path d="M866,238 Q885,214 920,206 Q960,204 1000,212" stroke="#f0cc36" stroke-width="12"/><path d="M946,296 Q990,288 1030,290 Q1065,286 1088,272" stroke="#d4be52" stroke-width="12"/></g>
<g filter="url(#bl3)"><path d="M892,256 Q940,236 980,239 Q1030,243 1075,246 L1072,268 Q1030,272 980,268 Q930,266 895,270Z" fill="#72d0de"/><ellipse cx="977" cy="253" rx="9" ry="11" fill="#3a90dc"/><ellipse cx="948" cy="252" rx="7" ry="8" fill="#4a9cdc"/><ellipse cx="1006" cy="256" rx="7" ry="8" fill="#4a9cdc"/><ellipse cx="918" cy="246" rx="6" ry="7" fill="#4e9edc"/><ellipse cx="1036" cy="260" rx="6" ry="7" fill="#4e9edc"/></g>
<g filter="url(#bl2)" fill="none" stroke="#ffffff" stroke-width="3" stroke-opacity="0.95"><path d="M864,252 Q888,232 930,232 Q960,230 985,226 Q1005,220 1012,206"/><path d="M938,288 Q960,280 1000,281 Q1050,281 1088,262"/></g>
</g>
<line x1="921.8" y1="231.8" x2="935.4" y2="241.5" stroke="#7d8c86" stroke-width="2.8"/>
<line x1="921.8" y1="231.8" x2="906.9" y2="239.5" stroke="#7d8c86" stroke-width="2.8"/>
<line x1="921.8" y1="231.8" x2="922.9" y2="216.1" stroke="#7d8c86" stroke-width="2.8"/>
<line x1="935.4" y1="241.5" x2="934.2" y2="258.9" stroke="#7d8c86" stroke-width="2.8"/>
<line x1="935.4" y1="241.5" x2="950.3" y2="233.8" stroke="#7d8c86" stroke-width="2.8"/>
<line x1="934.2" y1="258.9" x2="919.4" y2="266.7" stroke="#7d8c86" stroke-width="2.8"/>
<line x1="934.2" y1="258.9" x2="947.9" y2="268.7" stroke="#7d8c86" stroke-width="2.8"/>
<line x1="919.4" y1="266.7" x2="905.7" y2="256.9" stroke="#7d8c86" stroke-width="2.8"/>
<line x1="919.4" y1="266.7" x2="918.1" y2="284.1" stroke="#7d8c86" stroke-width="2.8"/>
<line x1="905.7" y1="256.9" x2="906.9" y2="239.5" stroke="#7d8c86" stroke-width="2.8"/>
<line x1="905.7" y1="256.9" x2="890.9" y2="264.7" stroke="#7d8c86" stroke-width="2.8"/>
<line x1="906.9" y1="239.5" x2="894.7" y2="230.7" stroke="#7d8c86" stroke-width="2.8"/>
<line x1="950.3" y1="233.8" x2="964.0" y2="243.5" stroke="#7d8c86" stroke-width="2.8"/>
<line x1="964.0" y1="243.5" x2="962.7" y2="260.9" stroke="#7d8c86" stroke-width="2.8"/>
<line x1="964.0" y1="243.5" x2="978.8" y2="235.8" stroke="#7d8c86" stroke-width="2.8"/>
<line x1="962.7" y1="260.9" x2="947.9" y2="268.7" stroke="#7d8c86" stroke-width="2.8"/>
<line x1="962.7" y1="260.9" x2="976.4" y2="270.6" stroke="#7d8c86" stroke-width="2.8"/>
<line x1="978.8" y1="235.8" x2="992.5" y2="245.5" stroke="#7d8c86" stroke-width="2.8"/>
<line x1="978.8" y1="235.8" x2="979.9" y2="220.0" stroke="#7d8c86" stroke-width="2.8"/>
<line x1="992.5" y1="245.5" x2="991.2" y2="262.9" stroke="#7d8c86" stroke-width="2.8"/>
<line x1="992.5" y1="245.5" x2="1007.3" y2="237.7" stroke="#7d8c86" stroke-width="2.8"/>
<line x1="991.2" y1="262.9" x2="976.4" y2="270.6" stroke="#7d8c86" stroke-width="2.8"/>
<line x1="991.2" y1="262.9" x2="1004.9" y2="272.6" stroke="#7d8c86" stroke-width="2.8"/>
<line x1="976.4" y1="270.6" x2="975.3" y2="286.4" stroke="#7d8c86" stroke-width="2.8"/>
<line x1="1007.3" y1="237.7" x2="1021.0" y2="247.5" stroke="#7d8c86" stroke-width="2.8"/>
<line x1="1021.0" y1="247.5" x2="1019.8" y2="264.9" stroke="#7d8c86" stroke-width="2.8"/>
<line x1="1021.0" y1="247.5" x2="1035.8" y2="239.7" stroke="#7d8c86" stroke-width="2.8"/>
<line x1="1019.8" y1="264.9" x2="1004.9" y2="272.6" stroke="#7d8c86" stroke-width="2.8"/>
<line x1="1019.8" y1="264.9" x2="1033.4" y2="274.6" stroke="#7d8c86" stroke-width="2.8"/>
<line x1="1035.8" y1="239.7" x2="1049.5" y2="249.5" stroke="#7d8c86" stroke-width="2.8"/>
<line x1="1035.8" y1="239.7" x2="1037.1" y2="222.3" stroke="#7d8c86" stroke-width="2.8"/>
<line x1="1049.5" y1="249.5" x2="1048.3" y2="266.9" stroke="#7d8c86" stroke-width="2.8"/>
<line x1="1049.5" y1="249.5" x2="1064.3" y2="241.7" stroke="#7d8c86" stroke-width="2.8"/>
<line x1="1048.3" y1="266.9" x2="1033.4" y2="274.6" stroke="#7d8c86" stroke-width="2.8"/>
<line x1="1048.3" y1="266.9" x2="1060.5" y2="275.7" stroke="#7d8c86" stroke-width="2.8"/>
<line x1="1033.4" y1="274.6" x2="1032.3" y2="290.3" stroke="#7d8c86" stroke-width="2.8"/>
<line x1="918.1" y1="284.1" x2="903.3" y2="291.8" stroke="#7d8c86" stroke-width="2.8"/>
<line x1="918.1" y1="284.1" x2="928.4" y2="291.4" stroke="#7d8c86" stroke-width="2.8"/>
<line x1="903.3" y1="291.8" x2="889.6" y2="282.1" stroke="#7d8c86" stroke-width="2.8"/>
<line x1="903.3" y1="291.8" x2="902.4" y2="304.9" stroke="#7d8c86" stroke-width="2.8"/>
<line x1="889.6" y1="282.1" x2="890.9" y2="264.7" stroke="#7d8c86" stroke-width="2.8"/>
<line x1="889.6" y1="282.1" x2="878.5" y2="287.9" stroke="#7d8c86" stroke-width="2.8"/>
<line x1="890.9" y1="264.7" x2="880.6" y2="257.4" stroke="#7d8c86" stroke-width="2.8"/>
<line x1="1051.9" y1="214.6" x2="1065.6" y2="224.3" stroke="#7d8c86" stroke-width="2.8"/>
<line x1="1051.9" y1="214.6" x2="1037.1" y2="222.3" stroke="#7d8c86" stroke-width="2.8"/>
<line x1="1051.9" y1="214.6" x2="1052.8" y2="201.5" stroke="#7d8c86" stroke-width="2.8"/>
<line x1="1065.6" y1="224.3" x2="1064.3" y2="241.7" stroke="#7d8c86" stroke-width="2.8"/>
<line x1="1065.6" y1="224.3" x2="1076.7" y2="218.5" stroke="#7d8c86" stroke-width="2.8"/>
<line x1="1064.3" y1="241.7" x2="1074.6" y2="249.0" stroke="#7d8c86" stroke-width="2.8"/>
<line x1="1037.1" y1="222.3" x2="1026.8" y2="215.0" stroke="#7d8c86" stroke-width="2.8"/>
<circle cx="921.8" cy="231.8" r="5" fill="url(#bCc)"/>
<circle cx="935.4" cy="241.5" r="5" fill="url(#bCc)"/>
<circle cx="934.2" cy="258.9" r="5" fill="url(#bCc)"/>
<circle cx="919.4" cy="266.7" r="5" fill="url(#bCc)"/>
<circle cx="905.7" cy="256.9" r="5" fill="url(#bCc)"/>
<circle cx="906.9" cy="239.5" r="5" fill="url(#bCc)"/>
<circle cx="950.3" cy="233.8" r="5.4" fill="url(#bN)"/>
<circle cx="964.0" cy="243.5" r="5" fill="url(#bCc)"/>
<circle cx="962.7" cy="260.9" r="5" fill="url(#bCc)"/>
<circle cx="947.9" cy="268.7" r="5.4" fill="url(#bN)"/>
<circle cx="978.8" cy="235.8" r="5" fill="url(#bCc)"/>
<circle cx="992.5" cy="245.5" r="5" fill="url(#bCc)"/>
<circle cx="991.2" cy="262.9" r="5" fill="url(#bCc)"/>
<circle cx="976.4" cy="270.6" r="5" fill="url(#bCc)"/>
<circle cx="1007.3" cy="237.7" r="5.4" fill="url(#bN)"/>
<circle cx="1021.0" cy="247.5" r="5" fill="url(#bCc)"/>
<circle cx="1019.8" cy="264.9" r="5" fill="url(#bCc)"/>
<circle cx="1004.9" cy="272.6" r="5.4" fill="url(#bN)"/>
<circle cx="1035.8" cy="239.7" r="5" fill="url(#bCc)"/>
<circle cx="1049.5" cy="249.5" r="5" fill="url(#bCc)"/>
<circle cx="1048.3" cy="266.9" r="5" fill="url(#bCc)"/>
<circle cx="1033.4" cy="274.6" r="5" fill="url(#bCc)"/>
<circle cx="918.1" cy="284.1" r="5" fill="url(#bCc)"/>
<circle cx="903.3" cy="291.8" r="5" fill="url(#bCc)"/>
<circle cx="889.6" cy="282.1" r="5" fill="url(#bCc)"/>
<circle cx="890.9" cy="264.7" r="5" fill="url(#bCc)"/>
<circle cx="1051.9" cy="214.6" r="5" fill="url(#bCc)"/>
<circle cx="1065.6" cy="224.3" r="5" fill="url(#bCc)"/>
<circle cx="1064.3" cy="241.7" r="5" fill="url(#bCc)"/>
<circle cx="1037.1" cy="222.3" r="5" fill="url(#bCc)"/>
<circle cx="979.9" cy="220.0" r="5.2" fill="url(#bO2)"/>
<circle cx="975.3" cy="286.4" r="5.2" fill="url(#bO2)"/>
<circle cx="922.9" cy="216.1" r="5.2" fill="url(#bO2)"/>
<circle cx="894.7" cy="230.7" r="5.2" fill="url(#bO2)"/>
<circle cx="1032.3" cy="290.3" r="5.2" fill="url(#bO2)"/>
<circle cx="1060.5" cy="275.7" r="5.2" fill="url(#bO2)"/>
<circle cx="880.6" cy="257.4" r="3.6" fill="url(#bH)"/>
<circle cx="878.5" cy="287.9" r="3.6" fill="url(#bH)"/>
<circle cx="902.4" cy="304.9" r="3.6" fill="url(#bH)"/>
<circle cx="928.4" cy="291.4" r="3.6" fill="url(#bH)"/>
<circle cx="1052.8" cy="201.5" r="3.6" fill="url(#bH)"/>
<circle cx="1076.7" cy="218.5" r="3.6" fill="url(#bH)"/>
<circle cx="1074.6" cy="249.0" r="3.6" fill="url(#bH)"/>
<circle cx="1026.8" cy="215.0" r="3.6" fill="url(#bH)"/>
<text x="874.5" y="38.0" font-size="14.2" fill="#000" text-anchor="start" font-weight="bold" >0.021</text>
<text x="1050.2" y="143.5" font-size="14.2" fill="#000" text-anchor="start" font-weight="bold" >0.021</text>
<text x="933.5" y="57.6" font-size="14.2" fill="#000" text-anchor="start" font-weight="bold" >-0.061</text>
<text x="988.0" y="117.4" font-size="14.2" fill="#000" text-anchor="start" font-weight="bold" >-0.061</text>
<text x="988.7" y="160.0" font-size="20.8" fill="#000" text-anchor="middle" >BBQPD</text>
<text x="1110.8" y="40.3" font-size="23.5" fill="#000" text-anchor="start" >ESP</text>
<defs><radialGradient id="lgC" cx="0.45" cy="0.45" r="0.6"><stop offset="0" stop-color="#b0b0b0"/><stop offset="1" stop-color="#6a6a6a"/></radialGradient><radialGradient id="lgO" cx="0.45" cy="0.45" r="0.6"><stop offset="0" stop-color="#ff5050"/><stop offset="1" stop-color="#ee0000"/></radialGradient><radialGradient id="lgH" cx="0.45" cy="0.45" r="0.6"><stop offset="0" stop-color="#f0f0f0"/><stop offset="1" stop-color="#cacaca"/></radialGradient><radialGradient id="lgN" cx="0.45" cy="0.45" r="0.6"><stop offset="0" stop-color="#4a4aff"/><stop offset="1" stop-color="#0a0af0"/></radialGradient><linearGradient id="cbar" x1="0" y1="0" x2="0" y2="1"><stop offset="0" stop-color="#1a2cff"/><stop offset="0.12" stop-color="#0a6cff"/><stop offset="0.27" stop-color="#00f4f4"/><stop offset="0.5" stop-color="#00e010"/><stop offset="0.7" stop-color="#b8f000"/><stop offset="0.77" stop-color="#ffee00"/><stop offset="0.86" stop-color="#ffa000"/><stop offset="1" stop-color="#ff1800"/></linearGradient></defs>
<circle cx="1135.5" cy="117.4" r="6.4" fill="url(#lgC)"/>
<text x="1147.0" y="123.1" font-size="17" fill="#000" text-anchor="start" >C</text>
<circle cx="1135.5" cy="140.9" r="6.4" fill="url(#lgO)"/>
<text x="1147.0" y="146.6" font-size="17" fill="#000" text-anchor="start" >O</text>
<circle cx="1135.5" cy="162.1" r="6.4" fill="url(#lgH)"/>
<text x="1147.0" y="167.8" font-size="17" fill="#000" text-anchor="start" >H</text>
<circle cx="1135.5" cy="185.6" r="6.4" fill="url(#lgN)"/>
<text x="1147.0" y="191.3" font-size="17" fill="#000" text-anchor="start" >N</text>
<text x="1097.4" y="224.8" font-size="20.6" fill="#000" text-anchor="start" >Isosurface</text>
<text x="1136.0" y="237.0" font-size="15" fill="#000" text-anchor="middle" font-weight="bold" >+</text>
<rect x="1132" y="239" width="12.3" height="111.5" fill="url(#cbar)"/>
<rect x="1135.5" y="354" width="7" height="2.6" fill="#000"/>
<text x="1191.5" y="253.1" font-size="18.2" fill="#000" text-anchor="end" >0.08</text>
<text x="1191.5" y="275.2" font-size="18.2" fill="#000" text-anchor="end" >0.05</text>
<text x="1191.5" y="297.3" font-size="18.2" fill="#000" text-anchor="end" >0.02</text>
<text x="1191.5" y="320.6" font-size="18.2" fill="#000" text-anchor="end" >-0.01</text>
<text x="1191.5" y="342.7" font-size="18.2" fill="#000" text-anchor="end" >-0.04</text>
<text x="860.5" y="207.2" font-size="14.6" fill="#000" text-anchor="start" font-weight="bold" >-0.058</text>
<text x="927.5" y="226.4" font-size="14.3" fill="#000" text-anchor="start" font-weight="bold" >-0.067</text>
<text x="984.0" y="289.1" font-size="14.3" fill="#000" text-anchor="start" font-weight="bold" >-0.067</text>
<text x="1054.0" y="310.9" font-size="14.6" fill="#000" text-anchor="start" font-weight="bold" >-0.058</text>
<text x="989.3" y="350.0" font-size="20.6" fill="#000" text-anchor="middle" >BBQPH</text>
<path d="M949,206 C947,186 926,177 900,190" fill="none" stroke="#9a5bbb" stroke-width="3.2"/>
<polygon points="890,195 902,184 905,195" fill="#9a5bbb"/>
<path d="M1002,300 C1004,322 1030,330 1052,318" fill="none" stroke="#9a5bbb" stroke-width="3.2"/>
<polygon points="1061,313 1048,313 1053,324" fill="#9a5bbb"/>
<text x="887.5" y="183.5" font-size="21" fill="#ee1111" font-weight="bold">e<tspan font-size="13" dy="-8">-</tspan></text>
<text x="1045" y="341" font-size="21" fill="#ee1111" font-weight="bold">e<tspan font-size="13" dy="-8">-</tspan></text>
<text x="0.5" y="414.7" font-size="26" fill="#000" text-anchor="start" font-weight="bold" >d</text>
<line x1="47.3" y1="405" x2="47.3" y2="721.5" stroke="#000" stroke-width="2.6"/>
<polygon points="47.1,397.4 42.7,407 51.5,407" fill="#000"/>
<text x="57.7" y="416.0" font-size="20.7" fill="#000" text-anchor="start" >LUMO</text>
<text x="58.4" y="718.0" font-size="20.8" fill="#000" text-anchor="start" >HOMO</text>
<text transform="translate(35.8,631.8) rotate(-90)" font-size="23.4">Energy level (eV)</text>
<defs><linearGradient id="barB" x1="0" y1="0" x2="0" y2="1"><stop offset="0" stop-color="#8cadba"/><stop offset="0.55" stop-color="#c4dae2"/><stop offset="1" stop-color="#f2f7f9"/></linearGradient><linearGradient id="barP" x1="0" y1="0" x2="0" y2="1"><stop offset="0" stop-color="#efd1d5"/><stop offset="0.6" stop-color="#f7e4e6"/><stop offset="1" stop-color="#fefafa"/></linearGradient></defs>
<polygon points="191.8,503 202,514 197.5,514 197.5,548 202,548 191.8,559 181.5,548 186,548 186,514 181.5,514" fill="#dbe8ea"/>
<polygon points="574.5,531 584,545 579.5,545 579.5,576 584,576 574.5,590 565,576 569.5,576 569.5,545 565,545" fill="#f6e3e5"/>
<circle cx="192.2" cy="430.5" r="12" fill="#7ab5d5" fill-opacity="0.88" stroke="#3d80a8" stroke-width="1.3" stroke-opacity="0.8"/>
<circle cx="192.2" cy="491.9" r="11.5" fill="#d0c2e8" fill-opacity="0.88" stroke="#a08cc6" stroke-width="1.3" stroke-opacity="0.8"/>
<ellipse cx="192.8" cy="448.2" rx="19.8" ry="10.2" fill="#d0c2e8" fill-opacity="0.88" stroke="#a08cc6" stroke-width="1.3" stroke-opacity="0.8"/>
<ellipse cx="192.1" cy="472.0" rx="21.2" ry="11.5" fill="#7ab5d5" fill-opacity="0.88" stroke="#3d80a8" stroke-width="1.3" stroke-opacity="0.8"/>
<g opacity="0.88"><path d="M164.0,445.1 L149.9,453.1" fill="none" stroke="#3d80a8" stroke-width="18" stroke-linecap="round" stroke-linejoin="round"/><path d="M164.0,445.1 L149.9,453.1" fill="none" stroke="#7ab5d5" stroke-width="15.4" stroke-linecap="round" stroke-linejoin="round"/></g>
<g opacity="0.88"><path d="M164.0,477.3 L149.9,469.3" fill="none" stroke="#a08cc6" stroke-width="18" stroke-linecap="round" stroke-linejoin="round"/><path d="M164.0,477.3 L149.9,469.3" fill="none" stroke="#d0c2e8" stroke-width="15.4" stroke-linecap="round" stroke-linejoin="round"/></g>
<g opacity="0.88"><path d="M220.4,445.1 L234.5,453.1" fill="none" stroke="#3d80a8" stroke-width="18" stroke-linecap="round" stroke-linejoin="round"/><path d="M220.4,445.1 L234.5,453.1" fill="none" stroke="#7ab5d5" stroke-width="15.4" stroke-linecap="round" stroke-linejoin="round"/></g>
<g opacity="0.88"><path d="M220.4,477.3 L234.5,469.3" fill="none" stroke="#a08cc6" stroke-width="18" stroke-linecap="round" stroke-linejoin="round"/><path d="M220.4,477.3 L234.5,469.3" fill="none" stroke="#d0c2e8" stroke-width="15.4" stroke-linecap="round" stroke-linejoin="round"/></g>
<g opacity="0.88"><path d="M135.7,445.1 L121.6,453.1" fill="none" stroke="#a08cc6" stroke-width="16" stroke-linecap="round" stroke-linejoin="round"/><path d="M135.7,445.1 L121.6,453.1" fill="none" stroke="#d0c2e8" stroke-width="13.4" stroke-linecap="round" stroke-linejoin="round"/></g>
<g opacity="0.88"><path d="M121.6,469.3 L135.7,477.3" fill="none" stroke="#3d80a8" stroke-width="15.0" stroke-linecap="round" stroke-linejoin="round"/><path d="M121.6,469.3 L135.7,477.3" fill="none" stroke="#7ab5d5" stroke-width="12.4" stroke-linecap="round" stroke-linejoin="round"/></g>
<g opacity="0.88"><path d="M135.7,477.3 L135.7,493.5" fill="none" stroke="#3d80a8" stroke-width="13.0" stroke-linecap="round" stroke-linejoin="round"/><path d="M135.7,477.3 L135.7,493.5" fill="none" stroke="#7ab5d5" stroke-width="10.4" stroke-linecap="round" stroke-linejoin="round"/></g>
<circle cx="107.5" cy="477.3" r="6" fill="#7ab5d5" fill-opacity="0.88" stroke="#3d80a8" stroke-width="1.3" stroke-opacity="0.8"/>
<g opacity="0.88"><path d="M107.5,493.5 L121.6,501.5" fill="none" stroke="#a08cc6" stroke-width="15.0" stroke-linecap="round" stroke-linejoin="round"/><path d="M107.5,493.5 L121.6,501.5" fill="none" stroke="#d0c2e8" stroke-width="12.4" stroke-linecap="round" stroke-linejoin="round"/></g>
<g opacity="0.88"><path d="M262.8,420.9 L276.9,428.9" fill="none" stroke="#3d80a8" stroke-width="15.0" stroke-linecap="round" stroke-linejoin="round"/><path d="M262.8,420.9 L276.9,428.9" fill="none" stroke="#7ab5d5" stroke-width="12.4" stroke-linecap="round" stroke-linejoin="round"/></g>
<g opacity="0.88"><path d="M248.7,428.9 L248.7,445.1" fill="none" stroke="#a08cc6" stroke-width="15.0" stroke-linecap="round" stroke-linejoin="round"/><path d="M248.7,428.9 L248.7,445.1" fill="none" stroke="#d0c2e8" stroke-width="12.4" stroke-linecap="round" stroke-linejoin="round"/></g>
<circle cx="276.9" cy="445.1" r="6" fill="#d0c2e8" fill-opacity="0.88" stroke="#a08cc6" stroke-width="1.3" stroke-opacity="0.8"/>
<g opacity="0.88"><path d="M262.8,469.3 L248.7,477.3" fill="none" stroke="#3d80a8" stroke-width="16" stroke-linecap="round" stroke-linejoin="round"/><path d="M262.8,469.3 L248.7,477.3" fill="none" stroke="#7ab5d5" stroke-width="13.4" stroke-linecap="round" stroke-linejoin="round"/></g>
<line x1="136.4" y1="443.9" x2="150.5" y2="452.0" stroke="#8a8a8a" stroke-width="1.9"/>
<line x1="135.1" y1="446.2" x2="149.2" y2="454.3" stroke="#8a8a8a" stroke-width="1.9"/>
<line x1="136.4" y1="446.2" x2="122.3" y2="454.3" stroke="#8a8a8a" stroke-width="1.9"/>
<line x1="135.1" y1="443.9" x2="121.0" y2="452.0" stroke="#8a8a8a" stroke-width="1.9"/>
<line x1="134.4" y1="445.1" x2="134.4" y2="433.0" stroke="#8a8a8a" stroke-width="1.9"/>
<line x1="137.0" y1="445.1" x2="137.0" y2="433.0" stroke="#8a8a8a" stroke-width="1.9"/>
<line x1="151.2" y1="453.1" x2="151.2" y2="469.3" stroke="#8a8a8a" stroke-width="1.9"/>
<line x1="148.6" y1="453.1" x2="148.6" y2="469.3" stroke="#8a8a8a" stroke-width="1.9"/>
<line x1="149.2" y1="452.0" x2="163.3" y2="443.9" stroke="#8a8a8a" stroke-width="1.9"/>
<line x1="150.5" y1="454.3" x2="164.6" y2="446.2" stroke="#8a8a8a" stroke-width="1.9"/>
<line x1="150.5" y1="470.4" x2="136.4" y2="478.5" stroke="#8a8a8a" stroke-width="1.9"/>
<line x1="149.2" y1="468.1" x2="135.1" y2="476.2" stroke="#8a8a8a" stroke-width="1.9"/>
<line x1="150.5" y1="468.1" x2="164.6" y2="476.2" stroke="#8a8a8a" stroke-width="1.9"/>
<line x1="149.2" y1="470.4" x2="163.3" y2="478.5" stroke="#8a8a8a" stroke-width="1.9"/>
<line x1="135.1" y1="478.5" x2="121.0" y2="470.4" stroke="#8a8a8a" stroke-width="1.9"/>
<line x1="136.4" y1="476.2" x2="122.3" y2="468.1" stroke="#8a8a8a" stroke-width="1.9"/>
<line x1="137.0" y1="477.3" x2="137.0" y2="493.5" stroke="#8a8a8a" stroke-width="1.9"/>
<line x1="134.4" y1="477.3" x2="134.4" y2="493.5" stroke="#8a8a8a" stroke-width="1.9"/>
<line x1="120.3" y1="469.3" x2="120.3" y2="453.1" stroke="#8a8a8a" stroke-width="1.9"/>
<line x1="122.9" y1="469.3" x2="122.9" y2="453.1" stroke="#8a8a8a" stroke-width="1.9"/>
<line x1="122.3" y1="470.4" x2="108.1" y2="478.5" stroke="#8a8a8a" stroke-width="1.9"/>
<line x1="121.0" y1="468.1" x2="106.9" y2="476.2" stroke="#8a8a8a" stroke-width="1.9"/>
<line x1="121.0" y1="454.3" x2="110.4" y2="448.2" stroke="#8a8a8a" stroke-width="1.9"/>
<line x1="122.3" y1="452.0" x2="111.7" y2="446.0" stroke="#8a8a8a" stroke-width="1.9"/>
<line x1="164.6" y1="443.9" x2="178.7" y2="452.0" stroke="#8a8a8a" stroke-width="1.9"/>
<line x1="163.3" y1="446.2" x2="177.4" y2="454.3" stroke="#8a8a8a" stroke-width="1.9"/>
<line x1="179.4" y1="453.1" x2="179.4" y2="469.3" stroke="#8a8a8a" stroke-width="1.9"/>
<line x1="176.8" y1="453.1" x2="176.8" y2="469.3" stroke="#8a8a8a" stroke-width="1.9"/>
<line x1="177.4" y1="452.0" x2="191.6" y2="443.9" stroke="#8a8a8a" stroke-width="1.9"/>
<line x1="178.7" y1="454.3" x2="192.8" y2="446.2" stroke="#8a8a8a" stroke-width="1.9"/>
<line x1="178.7" y1="470.4" x2="164.6" y2="478.5" stroke="#8a8a8a" stroke-width="1.9"/>
<line x1="177.4" y1="468.1" x2="163.3" y2="476.2" stroke="#8a8a8a" stroke-width="1.9"/>
<line x1="178.7" y1="468.1" x2="192.8" y2="476.2" stroke="#8a8a8a" stroke-width="1.9"/>
<line x1="177.4" y1="470.4" x2="191.6" y2="478.5" stroke="#8a8a8a" stroke-width="1.9"/>
<line x1="192.8" y1="443.9" x2="207.0" y2="452.0" stroke="#8a8a8a" stroke-width="1.9"/>
<line x1="191.6" y1="446.2" x2="205.7" y2="454.3" stroke="#8a8a8a" stroke-width="1.9"/>
<line x1="190.9" y1="445.1" x2="190.9" y2="430.5" stroke="#8a8a8a" stroke-width="1.9"/>
<line x1="193.5" y1="445.1" x2="193.5" y2="430.5" stroke="#8a8a8a" stroke-width="1.9"/>
<line x1="207.6" y1="453.1" x2="207.6" y2="469.3" stroke="#8a8a8a" stroke-width="1.9"/>
<line x1="205.0" y1="453.1" x2="205.0" y2="469.3" stroke="#8a8a8a" stroke-width="1.9"/>
<line x1="205.7" y1="452.0" x2="219.8" y2="443.9" stroke="#8a8a8a" stroke-width="1.9"/>
<line x1="207.0" y1="454.3" x2="221.1" y2="446.2" stroke="#8a8a8a" stroke-width="1.9"/>
<line x1="207.0" y1="470.4" x2="192.8" y2="478.5" stroke="#8a8a8a" stroke-width="1.9"/>
<line x1="205.7" y1="468.1" x2="191.6" y2="476.2" stroke="#8a8a8a" stroke-width="1.9"/>
<line x1="207.0" y1="468.1" x2="221.1" y2="476.2" stroke="#8a8a8a" stroke-width="1.9"/>
<line x1="205.7" y1="470.4" x2="219.8" y2="478.5" stroke="#8a8a8a" stroke-width="1.9"/>
<line x1="193.5" y1="477.3" x2="193.5" y2="491.9" stroke="#8a8a8a" stroke-width="1.9"/>
<line x1="190.9" y1="477.3" x2="190.9" y2="491.9" stroke="#8a8a8a" stroke-width="1.9"/>
<line x1="221.1" y1="443.9" x2="235.2" y2="452.0" stroke="#8a8a8a" stroke-width="1.9"/>
<line x1="219.8" y1="446.2" x2="233.9" y2="454.3" stroke="#8a8a8a" stroke-width="1.9"/>
<line x1="235.8" y1="453.1" x2="235.8" y2="469.3" stroke="#8a8a8a" stroke-width="1.9"/>
<line x1="233.2" y1="453.1" x2="233.2" y2="469.3" stroke="#8a8a8a" stroke-width="1.9"/>
<line x1="233.9" y1="452.0" x2="248.0" y2="443.9" stroke="#8a8a8a" stroke-width="1.9"/>
<line x1="235.2" y1="454.3" x2="249.3" y2="446.2" stroke="#8a8a8a" stroke-width="1.9"/>
<line x1="235.2" y1="470.4" x2="221.1" y2="478.5" stroke="#8a8a8a" stroke-width="1.9"/>
<line x1="233.9" y1="468.1" x2="219.8" y2="476.2" stroke="#8a8a8a" stroke-width="1.9"/>
<line x1="235.2" y1="468.1" x2="249.3" y2="476.2" stroke="#8a8a8a" stroke-width="1.9"/>
<line x1="233.9" y1="470.4" x2="248.0" y2="478.5" stroke="#8a8a8a" stroke-width="1.9"/>
<line x1="249.3" y1="443.9" x2="263.4" y2="452.0" stroke="#8a8a8a" stroke-width="1.9"/>
<line x1="248.0" y1="446.2" x2="262.1" y2="454.3" stroke="#8a8a8a" stroke-width="1.9"/>
<line x1="247.4" y1="445.1" x2="247.4" y2="428.9" stroke="#8a8a8a" stroke-width="1.9"/>
<line x1="250.0" y1="445.1" x2="250.0" y2="428.9" stroke="#8a8a8a" stroke-width="1.9"/>
<line x1="264.1" y1="453.1" x2="264.1" y2="469.3" stroke="#8a8a8a" stroke-width="1.9"/>
<line x1="261.5" y1="453.1" x2="261.5" y2="469.3" stroke="#8a8a8a" stroke-width="1.9"/>
<line x1="262.1" y1="452.0" x2="276.3" y2="443.9" stroke="#8a8a8a" stroke-width="1.9"/>
<line x1="263.4" y1="454.3" x2="277.5" y2="446.2" stroke="#8a8a8a" stroke-width="1.9"/>
<line x1="263.4" y1="470.4" x2="249.3" y2="478.5" stroke="#8a8a8a" stroke-width="1.9"/>
<line x1="262.1" y1="468.1" x2="248.0" y2="476.2" stroke="#8a8a8a" stroke-width="1.9"/>
<line x1="263.4" y1="468.1" x2="274.0" y2="474.2" stroke="#8a8a8a" stroke-width="1.9"/>
<line x1="262.1" y1="470.4" x2="272.7" y2="476.4" stroke="#8a8a8a" stroke-width="1.9"/>
<line x1="250.0" y1="477.3" x2="250.0" y2="489.4" stroke="#8a8a8a" stroke-width="1.9"/>
<line x1="247.4" y1="477.3" x2="247.4" y2="489.4" stroke="#8a8a8a" stroke-width="1.9"/>
<line x1="136.4" y1="494.6" x2="122.3" y2="502.7" stroke="#8a8a8a" stroke-width="1.9"/>
<line x1="135.1" y1="492.3" x2="121.0" y2="500.4" stroke="#8a8a8a" stroke-width="1.9"/>
<line x1="136.4" y1="492.3" x2="147.0" y2="498.4" stroke="#8a8a8a" stroke-width="1.9"/>
<line x1="135.1" y1="494.6" x2="145.7" y2="500.7" stroke="#8a8a8a" stroke-width="1.9"/>
<line x1="121.0" y1="502.7" x2="106.9" y2="494.6" stroke="#8a8a8a" stroke-width="1.9"/>
<line x1="122.3" y1="500.4" x2="108.1" y2="492.3" stroke="#8a8a8a" stroke-width="1.9"/>
<line x1="122.9" y1="501.5" x2="122.9" y2="513.6" stroke="#8a8a8a" stroke-width="1.9"/>
<line x1="120.3" y1="501.5" x2="120.3" y2="513.6" stroke="#8a8a8a" stroke-width="1.9"/>
<line x1="106.2" y1="493.5" x2="106.2" y2="477.3" stroke="#8a8a8a" stroke-width="1.9"/>
<line x1="108.8" y1="493.5" x2="108.8" y2="477.3" stroke="#8a8a8a" stroke-width="1.9"/>
<line x1="108.1" y1="494.6" x2="97.6" y2="500.7" stroke="#8a8a8a" stroke-width="1.9"/>
<line x1="106.9" y1="492.3" x2="96.3" y2="498.4" stroke="#8a8a8a" stroke-width="1.9"/>
<line x1="106.9" y1="478.5" x2="96.3" y2="472.4" stroke="#8a8a8a" stroke-width="1.9"/>
<line x1="108.1" y1="476.2" x2="97.6" y2="470.2" stroke="#8a8a8a" stroke-width="1.9"/>
<line x1="263.4" y1="419.7" x2="277.5" y2="427.8" stroke="#8a8a8a" stroke-width="1.9"/>
<line x1="262.1" y1="422.0" x2="276.3" y2="430.1" stroke="#8a8a8a" stroke-width="1.9"/>
<line x1="263.4" y1="422.0" x2="249.3" y2="430.1" stroke="#8a8a8a" stroke-width="1.9"/>
<line x1="262.1" y1="419.7" x2="248.0" y2="427.8" stroke="#8a8a8a" stroke-width="1.9"/>
<line x1="261.5" y1="420.9" x2="261.5" y2="408.8" stroke="#8a8a8a" stroke-width="1.9"/>
<line x1="264.1" y1="420.9" x2="264.1" y2="408.8" stroke="#8a8a8a" stroke-width="1.9"/>
<line x1="278.2" y1="428.9" x2="278.2" y2="445.1" stroke="#8a8a8a" stroke-width="1.9"/>
<line x1="275.6" y1="428.9" x2="275.6" y2="445.1" stroke="#8a8a8a" stroke-width="1.9"/>
<line x1="276.3" y1="427.8" x2="286.8" y2="421.7" stroke="#8a8a8a" stroke-width="1.9"/>
<line x1="277.5" y1="430.1" x2="288.1" y2="424.0" stroke="#8a8a8a" stroke-width="1.9"/>
<line x1="277.5" y1="443.9" x2="288.1" y2="450.0" stroke="#8a8a8a" stroke-width="1.9"/>
<line x1="276.3" y1="446.2" x2="286.8" y2="452.2" stroke="#8a8a8a" stroke-width="1.9"/>
<line x1="248.0" y1="430.1" x2="237.4" y2="424.0" stroke="#8a8a8a" stroke-width="1.9"/>
<line x1="249.3" y1="427.8" x2="238.7" y2="421.7" stroke="#8a8a8a" stroke-width="1.9"/>
<circle cx="135.7" cy="445.1" r="4.4" fill="url(#dC)"/>
<circle cx="149.9" cy="453.1" r="4.4" fill="url(#dC)"/>
<circle cx="149.9" cy="469.3" r="4.4" fill="url(#dC)"/>
<circle cx="135.7" cy="477.3" r="4.4" fill="url(#dC)"/>
<circle cx="121.6" cy="469.3" r="4.4" fill="url(#dC)"/>
<circle cx="121.6" cy="453.1" r="4.4" fill="url(#dC)"/>
<circle cx="164.0" cy="445.1" r="4.7" fill="url(#dN)"/>
<circle cx="178.1" cy="453.1" r="4.4" fill="url(#dC)"/>
<circle cx="178.1" cy="469.3" r="4.4" fill="url(#dC)"/>
<circle cx="164.0" cy="477.3" r="4.7" fill="url(#dN)"/>
<circle cx="192.2" cy="445.1" r="4.4" fill="url(#dC)"/>
<circle cx="206.3" cy="453.1" r="4.4" fill="url(#dC)"/>
<circle cx="206.3" cy="469.3" r="4.4" fill="url(#dC)"/>
<circle cx="192.2" cy="477.3" r="4.4" fill="url(#dC)"/>
<circle cx="220.4" cy="445.1" r="4.7" fill="url(#dN)"/>
<circle cx="234.5" cy="453.1" r="4.4" fill="url(#dC)"/>
<circle cx="234.5" cy="469.3" r="4.4" fill="url(#dC)"/>
<circle cx="220.4" cy="477.3" r="4.7" fill="url(#dN)"/>
<circle cx="248.7" cy="445.1" r="4.4" fill="url(#dC)"/>
<circle cx="262.8" cy="453.1" r="4.4" fill="url(#dC)"/>
<circle cx="262.8" cy="469.3" r="4.4" fill="url(#dC)"/>
<circle cx="248.7" cy="477.3" r="4.4" fill="url(#dC)"/>
<circle cx="135.7" cy="493.5" r="4.4" fill="url(#dC)"/>
<circle cx="121.6" cy="501.5" r="4.4" fill="url(#dC)"/>
<circle cx="107.5" cy="493.5" r="4.4" fill="url(#dC)"/>
<circle cx="107.5" cy="477.3" r="4.4" fill="url(#dC)"/>
<circle cx="262.8" cy="420.9" r="4.4" fill="url(#dC)"/>
<circle cx="276.9" cy="428.9" r="4.4" fill="url(#dC)"/>
<circle cx="276.9" cy="445.1" r="4.4" fill="url(#dC)"/>
<circle cx="248.7" cy="428.9" r="4.4" fill="url(#dC)"/>
<circle cx="192.2" cy="430.5" r="4.2" fill="url(#dO)"/>
<circle cx="192.2" cy="491.9" r="4.2" fill="url(#dO)"/>
<circle cx="96.9" cy="471.3" r="3.9" fill="url(#dH)"/>
<circle cx="96.9" cy="499.5" r="3.9" fill="url(#dH)"/>
<circle cx="121.6" cy="513.6" r="3.9" fill="url(#dH)"/>
<circle cx="146.3" cy="499.5" r="3.9" fill="url(#dH)"/>
<circle cx="262.8" cy="408.8" r="3.9" fill="url(#dH)"/>
<circle cx="287.5" cy="422.9" r="3.9" fill="url(#dH)"/>
<circle cx="287.5" cy="451.1" r="3.9" fill="url(#dH)"/>
<circle cx="238.1" cy="422.9" r="3.9" fill="url(#dH)"/>
<circle cx="135.7" cy="433.0" r="3.9" fill="url(#dH)"/>
<circle cx="111.0" cy="447.1" r="3.9" fill="url(#dH)"/>
<circle cx="248.7" cy="489.4" r="3.9" fill="url(#dH)"/>
<circle cx="273.4" cy="475.3" r="3.9" fill="url(#dH)"/>
<circle cx="192.2" cy="430.5" r="12" fill="#7ab5d5" fill-opacity="0.35"/>
<circle cx="192.2" cy="491.9" r="11.5" fill="#d0c2e8" fill-opacity="0.35"/>
<ellipse cx="192.8" cy="448.2" rx="19.8" ry="10.2" fill="#d0c2e8" fill-opacity="0.35"/>
<ellipse cx="192.1" cy="472.0" rx="21.2" ry="11.5" fill="#7ab5d5" fill-opacity="0.35"/>
<path d="M164.0,445.1 L149.9,453.1" fill="none" stroke="#7ab5d5" stroke-opacity="0.35" stroke-width="18" stroke-linecap="round" stroke-linejoin="round"/>
<path d="M164.0,477.3 L149.9,469.3" fill="none" stroke="#d0c2e8" stroke-opacity="0.35" stroke-width="18" stroke-linecap="round" stroke-linejoin="round"/>
<path d="M220.4,445.1 L234.5,453.1" fill="none" stroke="#7ab5d5" stroke-opacity="0.35" stroke-width="18" stroke-linecap="round" stroke-linejoin="round"/>
<path d="M220.4,477.3 L234.5,469.3" fill="none" stroke="#d0c2e8" stroke-opacity="0.35" stroke-width="18" stroke-linecap="round" stroke-linejoin="round"/>
<path d="M135.7,445.1 L121.6,453.1" fill="none" stroke="#d0c2e8" stroke-opacity="0.35" stroke-width="16" stroke-linecap="round" stroke-linejoin="round"/>
<path d="M121.6,469.3 L135.7,477.3" fill="none" stroke="#7ab5d5" stroke-opacity="0.35" stroke-width="15.0" stroke-linecap="round" stroke-linejoin="round"/>
<path d="M135.7,477.3 L135.7,493.5" fill="none" stroke="#7ab5d5" stroke-opacity="0.35" stroke-width="13.0" stroke-linecap="round" stroke-linejoin="round"/>
<circle cx="107.5" cy="477.3" r="6" fill="#7ab5d5" fill-opacity="0.35"/>
<path d="M107.5,493.5 L121.6,501.5" fill="none" stroke="#d0c2e8" stroke-opacity="0.35" stroke-width="15.0" stroke-linecap="round" stroke-linejoin="round"/>
<path d="M262.8,420.9 L276.9,428.9" fill="none" stroke="#7ab5d5" stroke-opacity="0.35" stroke-width="15.0" stroke-linecap="round" stroke-linejoin="round"/>
<path d="M248.7,428.9 L248.7,445.1" fill="none" stroke="#d0c2e8" stroke-opacity="0.35" stroke-width="15.0" stroke-linecap="round" stroke-linejoin="round"/>
<circle cx="276.9" cy="445.1" r="6" fill="#d0c2e8" fill-opacity="0.35"/>
<path d="M262.8,469.3 L248.7,477.3" fill="none" stroke="#7ab5d5" stroke-opacity="0.35" stroke-width="16" stroke-linecap="round" stroke-linejoin="round"/>
<ellipse cx="184.1" cy="567.9" rx="9.5" ry="12.1" fill="#e8d8f0" fill-opacity="0.88" stroke="#c6b0da" stroke-width="1.3" stroke-opacity="0.8"/>
<ellipse cx="203.8" cy="567.9" rx="10.2" ry="12.1" fill="#72c6e0" fill-opacity="0.88" stroke="#44a6c8" stroke-width="1.3" stroke-opacity="0.8"/>
<ellipse cx="182.8" cy="636.0" rx="9.8" ry="14.0" fill="#72c6e0" fill-opacity="0.88" stroke="#44a6c8" stroke-width="1.3" stroke-opacity="0.8"/>
<ellipse cx="202.8" cy="636.0" rx="10.2" ry="14.0" fill="#e8d8f0" fill-opacity="0.88" stroke="#c6b0da" stroke-width="1.3" stroke-opacity="0.8"/>
<ellipse cx="163.8" cy="579.2" rx="8.4" ry="5.8" fill="#72c6e0" fill-opacity="0.88" stroke="#44a6c8" stroke-width="1.3" stroke-opacity="0.8"/>
<ellipse cx="163.5" cy="625.8" rx="8.5" ry="5.8" fill="#e8d8f0" fill-opacity="0.88" stroke="#c6b0da" stroke-width="1.3" stroke-opacity="0.8"/>
<ellipse cx="224.0" cy="579.8" rx="8.0" ry="5.2" fill="#e8d8f0" fill-opacity="0.88" stroke="#c6b0da" stroke-width="1.3" stroke-opacity="0.8"/>
<ellipse cx="224.0" cy="626.5" rx="8.0" ry="5.5" fill="#72c6e0" fill-opacity="0.88" stroke="#44a6c8" stroke-width="1.3" stroke-opacity="0.8"/>
<ellipse cx="166.6" cy="594.2" rx="12.1" ry="4.2" fill="#e8d8f0" fill-opacity="0.88" stroke="#c6b0da" stroke-width="1.3" stroke-opacity="0.8"/>
<ellipse cx="166.5" cy="610.2" rx="12.5" ry="4.2" fill="#72c6e0" fill-opacity="0.88" stroke="#44a6c8" stroke-width="1.3" stroke-opacity="0.8"/>
<ellipse cx="221.1" cy="594.2" rx="12.5" ry="4.2" fill="#72c6e0" fill-opacity="0.88" stroke="#44a6c8" stroke-width="1.3" stroke-opacity="0.8"/>
<ellipse cx="221.0" cy="610.2" rx="13.0" ry="4.2" fill="#e8d8f0" fill-opacity="0.88" stroke="#c6b0da" stroke-width="1.3" stroke-opacity="0.8"/>
<ellipse cx="185.2" cy="593.0" rx="6.5" ry="7.4" fill="#72c6e0" fill-opacity="0.88" stroke="#44a6c8" stroke-width="1.3" stroke-opacity="0.8"/>
<ellipse cx="202.4" cy="593.2" rx="7.0" ry="7.2" fill="#e8d8f0" fill-opacity="0.88" stroke="#c6b0da" stroke-width="1.3" stroke-opacity="0.8"/>
<ellipse cx="185.0" cy="612.5" rx="7.0" ry="7.5" fill="#e8d8f0" fill-opacity="0.88" stroke="#c6b0da" stroke-width="1.3" stroke-opacity="0.8"/>
<ellipse cx="202.4" cy="612.5" rx="7.0" ry="7.5" fill="#72c6e0" fill-opacity="0.88" stroke="#44a6c8" stroke-width="1.3" stroke-opacity="0.8"/>
<line x1="138.1" y1="584.0" x2="152.2" y2="592.8" stroke="#8a8a8a" stroke-width="1.9"/>
<line x1="136.7" y1="586.3" x2="150.8" y2="595.0" stroke="#8a8a8a" stroke-width="1.9"/>
<line x1="138.1" y1="586.3" x2="123.8" y2="594.6" stroke="#8a8a8a" stroke-width="1.9"/>
<line x1="136.8" y1="584.0" x2="122.5" y2="592.4" stroke="#8a8a8a" stroke-width="1.9"/>
<line x1="136.1" y1="585.1" x2="136.3" y2="572.3" stroke="#8a8a8a" stroke-width="1.9"/>
<line x1="138.7" y1="585.2" x2="138.9" y2="572.4" stroke="#8a8a8a" stroke-width="1.9"/>
<line x1="152.8" y1="593.9" x2="152.6" y2="611.0" stroke="#8a8a8a" stroke-width="1.9"/>
<line x1="150.2" y1="593.9" x2="150.0" y2="610.9" stroke="#8a8a8a" stroke-width="1.9"/>
<line x1="150.9" y1="592.8" x2="165.2" y2="584.4" stroke="#8a8a8a" stroke-width="1.9"/>
<line x1="152.2" y1="595.0" x2="166.5" y2="586.7" stroke="#8a8a8a" stroke-width="1.9"/>
<line x1="151.9" y1="612.1" x2="137.6" y2="620.4" stroke="#8a8a8a" stroke-width="1.9"/>
<line x1="150.6" y1="609.8" x2="136.3" y2="618.1" stroke="#8a8a8a" stroke-width="1.9"/>
<line x1="152.0" y1="609.8" x2="166.0" y2="618.6" stroke="#8a8a8a" stroke-width="1.9"/>
<line x1="150.6" y1="612.0" x2="164.7" y2="620.8" stroke="#8a8a8a" stroke-width="1.9"/>
<line x1="136.3" y1="620.4" x2="122.2" y2="611.6" stroke="#8a8a8a" stroke-width="1.9"/>
<line x1="137.6" y1="618.2" x2="123.6" y2="609.4" stroke="#8a8a8a" stroke-width="1.9"/>
<line x1="138.3" y1="619.3" x2="138.0" y2="636.3" stroke="#8a8a8a" stroke-width="1.9"/>
<line x1="135.7" y1="619.2" x2="135.4" y2="636.3" stroke="#8a8a8a" stroke-width="1.9"/>
<line x1="121.6" y1="610.5" x2="121.8" y2="593.5" stroke="#8a8a8a" stroke-width="1.9"/>
<line x1="124.2" y1="610.6" x2="124.4" y2="593.5" stroke="#8a8a8a" stroke-width="1.9"/>
<line x1="123.5" y1="611.7" x2="109.2" y2="620.0" stroke="#8a8a8a" stroke-width="1.9"/>
<line x1="122.2" y1="609.4" x2="107.9" y2="617.7" stroke="#8a8a8a" stroke-width="1.9"/>
<line x1="122.4" y1="594.6" x2="111.9" y2="588.0" stroke="#8a8a8a" stroke-width="1.9"/>
<line x1="123.8" y1="592.4" x2="113.2" y2="585.8" stroke="#8a8a8a" stroke-width="1.9"/>
<line x1="166.5" y1="584.4" x2="180.6" y2="593.2" stroke="#8a8a8a" stroke-width="1.9"/>
<line x1="165.2" y1="586.7" x2="179.2" y2="595.4" stroke="#8a8a8a" stroke-width="1.9"/>
<line x1="181.2" y1="594.3" x2="181.0" y2="611.3" stroke="#8a8a8a" stroke-width="1.9"/>
<line x1="178.6" y1="594.3" x2="178.4" y2="611.3" stroke="#8a8a8a" stroke-width="1.9"/>
<line x1="179.3" y1="593.2" x2="193.6" y2="584.8" stroke="#8a8a8a" stroke-width="1.9"/>
<line x1="180.6" y1="595.4" x2="194.9" y2="587.1" stroke="#8a8a8a" stroke-width="1.9"/>
<line x1="180.3" y1="612.5" x2="166.0" y2="620.8" stroke="#8a8a8a" stroke-width="1.9"/>
<line x1="179.0" y1="610.2" x2="164.7" y2="618.5" stroke="#8a8a8a" stroke-width="1.9"/>
<line x1="180.4" y1="610.2" x2="194.4" y2="618.9" stroke="#8a8a8a" stroke-width="1.9"/>
<line x1="179.0" y1="612.4" x2="193.1" y2="621.2" stroke="#8a8a8a" stroke-width="1.9"/>
<line x1="194.9" y1="584.8" x2="209.0" y2="593.6" stroke="#8a8a8a" stroke-width="1.9"/>
<line x1="193.6" y1="587.1" x2="207.6" y2="595.8" stroke="#8a8a8a" stroke-width="1.9"/>
<line x1="192.9" y1="585.9" x2="193.2" y2="570.6" stroke="#8a8a8a" stroke-width="1.9"/>
<line x1="195.5" y1="586.0" x2="195.8" y2="570.6" stroke="#8a8a8a" stroke-width="1.9"/>
<line x1="209.6" y1="594.7" x2="209.4" y2="611.7" stroke="#8a8a8a" stroke-width="1.9"/>
<line x1="207.0" y1="594.7" x2="206.8" y2="611.7" stroke="#8a8a8a" stroke-width="1.9"/>
<line x1="207.7" y1="593.5" x2="222.0" y2="585.2" stroke="#8a8a8a" stroke-width="1.9"/>
<line x1="209.0" y1="595.8" x2="223.3" y2="587.5" stroke="#8a8a8a" stroke-width="1.9"/>
<line x1="208.7" y1="612.8" x2="194.4" y2="621.2" stroke="#8a8a8a" stroke-width="1.9"/>
<line x1="207.4" y1="610.6" x2="193.1" y2="618.9" stroke="#8a8a8a" stroke-width="1.9"/>
<line x1="208.8" y1="610.6" x2="222.8" y2="619.3" stroke="#8a8a8a" stroke-width="1.9"/>
<line x1="207.4" y1="612.8" x2="221.5" y2="621.6" stroke="#8a8a8a" stroke-width="1.9"/>
<line x1="195.1" y1="620.1" x2="194.8" y2="635.4" stroke="#8a8a8a" stroke-width="1.9"/>
<line x1="192.5" y1="620.0" x2="192.2" y2="635.4" stroke="#8a8a8a" stroke-width="1.9"/>
<line x1="223.3" y1="585.2" x2="237.4" y2="594.0" stroke="#8a8a8a" stroke-width="1.9"/>
<line x1="222.0" y1="587.4" x2="236.0" y2="596.2" stroke="#8a8a8a" stroke-width="1.9"/>
<line x1="238.0" y1="595.1" x2="237.8" y2="612.1" stroke="#8a8a8a" stroke-width="1.9"/>
<line x1="235.4" y1="595.0" x2="235.2" y2="612.1" stroke="#8a8a8a" stroke-width="1.9"/>
<line x1="236.1" y1="593.9" x2="250.4" y2="585.6" stroke="#8a8a8a" stroke-width="1.9"/>
<line x1="237.4" y1="596.2" x2="251.7" y2="587.9" stroke="#8a8a8a" stroke-width="1.9"/>
<line x1="237.1" y1="613.2" x2="222.8" y2="621.6" stroke="#8a8a8a" stroke-width="1.9"/>
<line x1="235.8" y1="611.0" x2="221.5" y2="619.3" stroke="#8a8a8a" stroke-width="1.9"/>
<line x1="237.2" y1="611.0" x2="251.3" y2="619.7" stroke="#8a8a8a" stroke-width="1.9"/>
<line x1="235.8" y1="613.2" x2="249.9" y2="622.0" stroke="#8a8a8a" stroke-width="1.9"/>
<line x1="251.7" y1="585.6" x2="265.8" y2="594.4" stroke="#8a8a8a" stroke-width="1.9"/>
<line x1="250.4" y1="587.8" x2="264.4" y2="596.6" stroke="#8a8a8a" stroke-width="1.9"/>
<line x1="249.7" y1="586.7" x2="250.0" y2="569.7" stroke="#8a8a8a" stroke-width="1.9"/>
<line x1="252.3" y1="586.8" x2="252.6" y2="569.7" stroke="#8a8a8a" stroke-width="1.9"/>
<line x1="266.4" y1="595.5" x2="266.2" y2="612.5" stroke="#8a8a8a" stroke-width="1.9"/>
<line x1="263.8" y1="595.4" x2="263.6" y2="612.5" stroke="#8a8a8a" stroke-width="1.9"/>
<line x1="264.5" y1="594.3" x2="278.8" y2="586.0" stroke="#8a8a8a" stroke-width="1.9"/>
<line x1="265.8" y1="596.6" x2="280.1" y2="588.3" stroke="#8a8a8a" stroke-width="1.9"/>
<line x1="265.5" y1="613.6" x2="251.2" y2="622.0" stroke="#8a8a8a" stroke-width="1.9"/>
<line x1="264.2" y1="611.4" x2="249.9" y2="619.7" stroke="#8a8a8a" stroke-width="1.9"/>
<line x1="265.6" y1="611.4" x2="276.1" y2="618.0" stroke="#8a8a8a" stroke-width="1.9"/>
<line x1="264.2" y1="613.6" x2="274.8" y2="620.2" stroke="#8a8a8a" stroke-width="1.9"/>
<line x1="251.9" y1="620.9" x2="251.7" y2="633.7" stroke="#8a8a8a" stroke-width="1.9"/>
<line x1="249.3" y1="620.8" x2="249.1" y2="633.6" stroke="#8a8a8a" stroke-width="1.9"/>
<line x1="137.4" y1="637.4" x2="123.1" y2="645.8" stroke="#8a8a8a" stroke-width="1.9"/>
<line x1="136.1" y1="635.2" x2="121.7" y2="643.5" stroke="#8a8a8a" stroke-width="1.9"/>
<line x1="137.4" y1="635.2" x2="148.0" y2="641.8" stroke="#8a8a8a" stroke-width="1.9"/>
<line x1="136.0" y1="637.4" x2="146.6" y2="644.0" stroke="#8a8a8a" stroke-width="1.9"/>
<line x1="121.7" y1="645.7" x2="107.6" y2="637.0" stroke="#8a8a8a" stroke-width="1.9"/>
<line x1="123.1" y1="643.5" x2="109.0" y2="634.8" stroke="#8a8a8a" stroke-width="1.9"/>
<line x1="123.7" y1="644.7" x2="123.5" y2="657.5" stroke="#8a8a8a" stroke-width="1.9"/>
<line x1="121.1" y1="644.6" x2="120.9" y2="657.4" stroke="#8a8a8a" stroke-width="1.9"/>
<line x1="107.0" y1="635.9" x2="107.3" y2="618.8" stroke="#8a8a8a" stroke-width="1.9"/>
<line x1="109.6" y1="635.9" x2="109.9" y2="618.9" stroke="#8a8a8a" stroke-width="1.9"/>
<line x1="109.0" y1="637.0" x2="98.2" y2="643.3" stroke="#8a8a8a" stroke-width="1.9"/>
<line x1="107.7" y1="634.8" x2="96.9" y2="641.0" stroke="#8a8a8a" stroke-width="1.9"/>
<line x1="107.9" y1="620.0" x2="97.3" y2="613.4" stroke="#8a8a8a" stroke-width="1.9"/>
<line x1="109.2" y1="617.8" x2="98.7" y2="611.2" stroke="#8a8a8a" stroke-width="1.9"/>
<line x1="266.3" y1="560.3" x2="280.4" y2="569.0" stroke="#8a8a8a" stroke-width="1.9"/>
<line x1="264.9" y1="562.5" x2="279.0" y2="571.2" stroke="#8a8a8a" stroke-width="1.9"/>
<line x1="266.3" y1="562.5" x2="251.9" y2="570.8" stroke="#8a8a8a" stroke-width="1.9"/>
<line x1="264.9" y1="560.2" x2="250.6" y2="568.6" stroke="#8a8a8a" stroke-width="1.9"/>
<line x1="264.3" y1="561.3" x2="264.5" y2="548.5" stroke="#8a8a8a" stroke-width="1.9"/>
<line x1="266.9" y1="561.4" x2="267.1" y2="548.6" stroke="#8a8a8a" stroke-width="1.9"/>
<line x1="281.0" y1="570.1" x2="280.7" y2="587.2" stroke="#8a8a8a" stroke-width="1.9"/>
<line x1="278.4" y1="570.1" x2="278.1" y2="587.1" stroke="#8a8a8a" stroke-width="1.9"/>
<line x1="279.0" y1="569.0" x2="289.8" y2="562.7" stroke="#8a8a8a" stroke-width="1.9"/>
<line x1="280.3" y1="571.2" x2="291.1" y2="565.0" stroke="#8a8a8a" stroke-width="1.9"/>
<line x1="280.1" y1="586.0" x2="290.7" y2="592.6" stroke="#8a8a8a" stroke-width="1.9"/>
<line x1="278.8" y1="588.2" x2="289.3" y2="594.8" stroke="#8a8a8a" stroke-width="1.9"/>
<line x1="250.6" y1="570.8" x2="240.0" y2="564.2" stroke="#8a8a8a" stroke-width="1.9"/>
<line x1="252.0" y1="568.6" x2="241.4" y2="562.0" stroke="#8a8a8a" stroke-width="1.9"/>
<circle cx="137.4" cy="585.2" r="4.4" fill="url(#dC)"/>
<circle cx="151.5" cy="593.9" r="4.4" fill="url(#dC)"/>
<circle cx="151.3" cy="610.9" r="4.4" fill="url(#dC)"/>
<circle cx="137.0" cy="619.3" r="4.4" fill="url(#dC)"/>
<circle cx="122.9" cy="610.5" r="4.4" fill="url(#dC)"/>
<circle cx="123.1" cy="593.5" r="4.4" fill="url(#dC)"/>
<circle cx="165.8" cy="585.5" r="4.7" fill="url(#dN)"/>
<circle cx="179.9" cy="594.3" r="4.4" fill="url(#dC)"/>
<circle cx="179.7" cy="611.3" r="4.4" fill="url(#dC)"/>
<circle cx="165.4" cy="619.7" r="4.7" fill="url(#dN)"/>
<circle cx="194.2" cy="585.9" r="4.4" fill="url(#dC)"/>
<circle cx="208.3" cy="594.7" r="4.4" fill="url(#dC)"/>
<circle cx="208.1" cy="611.7" r="4.4" fill="url(#dC)"/>
<circle cx="193.8" cy="620.1" r="4.4" fill="url(#dC)"/>
<circle cx="222.6" cy="586.3" r="4.7" fill="url(#dN)"/>
<circle cx="236.7" cy="595.1" r="4.4" fill="url(#dC)"/>
<circle cx="236.5" cy="612.1" r="4.4" fill="url(#dC)"/>
<circle cx="222.2" cy="620.5" r="4.7" fill="url(#dN)"/>
<circle cx="251.0" cy="586.7" r="4.4" fill="url(#dC)"/>
<circle cx="265.1" cy="595.5" r="4.4" fill="url(#dC)"/>
<circle cx="264.9" cy="612.5" r="4.4" fill="url(#dC)"/>
<circle cx="250.6" cy="620.8" r="4.4" fill="url(#dC)"/>
<circle cx="136.7" cy="636.3" r="4.4" fill="url(#dC)"/>
<circle cx="122.4" cy="644.6" r="4.4" fill="url(#dC)"/>
<circle cx="108.3" cy="635.9" r="4.4" fill="url(#dC)"/>
<circle cx="108.6" cy="618.9" r="4.4" fill="url(#dC)"/>
<circle cx="265.6" cy="561.4" r="4.4" fill="url(#dC)"/>
<circle cx="279.7" cy="570.1" r="4.4" fill="url(#dC)"/>
<circle cx="279.4" cy="587.1" r="4.4" fill="url(#dC)"/>
<circle cx="251.3" cy="569.7" r="4.4" fill="url(#dC)"/>
<circle cx="194.5" cy="570.6" r="4.2" fill="url(#dO)"/>
<circle cx="193.5" cy="635.4" r="4.2" fill="url(#dO)"/>
<circle cx="98.0" cy="612.3" r="3.9" fill="url(#dH)"/>
<circle cx="97.6" cy="642.2" r="3.9" fill="url(#dH)"/>
<circle cx="122.2" cy="657.4" r="3.9" fill="url(#dH)"/>
<circle cx="147.3" cy="642.9" r="3.9" fill="url(#dH)"/>
<circle cx="265.8" cy="548.6" r="3.9" fill="url(#dH)"/>
<circle cx="290.4" cy="563.8" r="3.9" fill="url(#dH)"/>
<circle cx="290.0" cy="593.7" r="3.9" fill="url(#dH)"/>
<circle cx="240.7" cy="563.1" r="3.9" fill="url(#dH)"/>
<circle cx="137.6" cy="572.4" r="3.9" fill="url(#dH)"/>
<circle cx="112.6" cy="586.9" r="3.9" fill="url(#dH)"/>
<circle cx="250.4" cy="633.6" r="3.9" fill="url(#dH)"/>
<circle cx="275.4" cy="619.1" r="3.9" fill="url(#dH)"/>
<ellipse cx="184.1" cy="567.9" rx="9.5" ry="12.1" fill="#e8d8f0" fill-opacity="0.35"/>
<ellipse cx="203.8" cy="567.9" rx="10.2" ry="12.1" fill="#72c6e0" fill-opacity="0.35"/>
<ellipse cx="182.8" cy="636.0" rx="9.8" ry="14.0" fill="#72c6e0" fill-opacity="0.35"/>
<ellipse cx="202.8" cy="636.0" rx="10.2" ry="14.0" fill="#e8d8f0" fill-opacity="0.35"/>
<ellipse cx="163.8" cy="579.2" rx="8.4" ry="5.8" fill="#72c6e0" fill-opacity="0.35"/>
<ellipse cx="163.5" cy="625.8" rx="8.5" ry="5.8" fill="#e8d8f0" fill-opacity="0.35"/>
<ellipse cx="224.0" cy="579.8" rx="8.0" ry="5.2" fill="#e8d8f0" fill-opacity="0.35"/>
<ellipse cx="224.0" cy="626.5" rx="8.0" ry="5.5" fill="#72c6e0" fill-opacity="0.35"/>
<ellipse cx="166.6" cy="594.2" rx="12.1" ry="4.2" fill="#e8d8f0" fill-opacity="0.35"/>
<ellipse cx="166.5" cy="610.2" rx="12.5" ry="4.2" fill="#72c6e0" fill-opacity="0.35"/>
<ellipse cx="221.1" cy="594.2" rx="12.5" ry="4.2" fill="#72c6e0" fill-opacity="0.35"/>
<ellipse cx="221.0" cy="610.2" rx="13.0" ry="4.2" fill="#e8d8f0" fill-opacity="0.35"/>
<ellipse cx="185.2" cy="593.0" rx="6.5" ry="7.4" fill="#72c6e0" fill-opacity="0.35"/>
<ellipse cx="202.4" cy="593.2" rx="7.0" ry="7.2" fill="#e8d8f0" fill-opacity="0.35"/>
<ellipse cx="185.0" cy="612.5" rx="7.0" ry="7.5" fill="#e8d8f0" fill-opacity="0.35"/>
<ellipse cx="202.4" cy="612.5" rx="7.0" ry="7.5" fill="#72c6e0" fill-opacity="0.35"/>
<circle cx="518.2" cy="462.0" r="10.5" fill="#7ab5d5" fill-opacity="0.88" stroke="#3d80a8" stroke-width="1.3" stroke-opacity="0.8"/>
<circle cx="490.5" cy="477.8" r="10" fill="#7ab5d5" fill-opacity="0.88" stroke="#3d80a8" stroke-width="1.3" stroke-opacity="0.8"/>
<circle cx="575.7" cy="463.2" r="11" fill="#d0c2e8" fill-opacity="0.88" stroke="#a08cc6" stroke-width="1.3" stroke-opacity="0.8"/>
<circle cx="574.3" cy="528.8" r="11" fill="#7ab5d5" fill-opacity="0.88" stroke="#3d80a8" stroke-width="1.3" stroke-opacity="0.8"/>
<circle cx="631.8" cy="530.0" r="11" fill="#d0c2e8" fill-opacity="0.88" stroke="#a08cc6" stroke-width="1.3" stroke-opacity="0.8"/>
<circle cx="659.5" cy="514.2" r="10" fill="#d0c2e8" fill-opacity="0.88" stroke="#a08cc6" stroke-width="1.3" stroke-opacity="0.8"/>
<g opacity="0.88"><path d="M503.0,503.1 L503.3,485.9 L517.9,477.5 L532.1,486.5" fill="none" stroke="#a08cc6" stroke-width="16" stroke-linecap="round" stroke-linejoin="round"/><path d="M503.0,503.1 L503.3,485.9 L517.9,477.5 L532.1,486.5" fill="none" stroke="#d0c2e8" stroke-width="13.4" stroke-linecap="round" stroke-linejoin="round"/></g>
<g opacity="0.88"><path d="M517.1,512.1 L531.7,503.7 L545.9,512.7" fill="none" stroke="#3d80a8" stroke-width="16" stroke-linecap="round" stroke-linejoin="round"/><path d="M517.1,512.1 L531.7,503.7 L545.9,512.7" fill="none" stroke="#7ab5d5" stroke-width="13.4" stroke-linecap="round" stroke-linejoin="round"/></g>
<g opacity="0.88"><path d="M560.8,487.1 L575.4,478.7 L589.6,487.7" fill="none" stroke="#3d80a8" stroke-width="19.0" stroke-linecap="round" stroke-linejoin="round"/><path d="M560.8,487.1 L575.4,478.7 L589.6,487.7" fill="none" stroke="#7ab5d5" stroke-width="16.4" stroke-linecap="round" stroke-linejoin="round"/></g>
<g opacity="0.88"><path d="M560.4,504.3 L574.6,513.3 L589.2,504.9" fill="none" stroke="#a08cc6" stroke-width="19.0" stroke-linecap="round" stroke-linejoin="round"/><path d="M560.4,504.3 L574.6,513.3 L589.2,504.9" fill="none" stroke="#d0c2e8" stroke-width="16.4" stroke-linecap="round" stroke-linejoin="round"/></g>
<g opacity="0.88"><path d="M604.1,479.3 L618.3,488.3 L632.9,479.9" fill="none" stroke="#a08cc6" stroke-width="17.0" stroke-linecap="round" stroke-linejoin="round"/><path d="M604.1,479.3 L618.3,488.3 L632.9,479.9" fill="none" stroke="#d0c2e8" stroke-width="14.4" stroke-linecap="round" stroke-linejoin="round"/></g>
<g opacity="0.88"><path d="M617.9,505.5 L632.1,514.5 L646.7,506.1 L647.0,488.9" fill="none" stroke="#3d80a8" stroke-width="17.0" stroke-linecap="round" stroke-linejoin="round"/><path d="M617.9,505.5 L632.1,514.5 L646.7,506.1 L647.0,488.9" fill="none" stroke="#7ab5d5" stroke-width="14.4" stroke-linecap="round" stroke-linejoin="round"/></g>
<g opacity="0.88"><path d="M633.2,462.7 L647.8,454.4" fill="none" stroke="#3d80a8" stroke-width="15.0" stroke-linecap="round" stroke-linejoin="round"/><path d="M633.2,462.7 L647.8,454.4" fill="none" stroke="#7ab5d5" stroke-width="12.4" stroke-linecap="round" stroke-linejoin="round"/></g>
<g opacity="0.88"><path d="M662.0,463.3 L661.6,480.5" fill="none" stroke="#a08cc6" stroke-width="14" stroke-linecap="round" stroke-linejoin="round"/><path d="M662.0,463.3 L661.6,480.5" fill="none" stroke="#d0c2e8" stroke-width="11.4" stroke-linecap="round" stroke-linejoin="round"/></g>
<g opacity="0.88"><path d="M488.4,511.5 L488.0,528.7" fill="none" stroke="#3d80a8" stroke-width="14" stroke-linecap="round" stroke-linejoin="round"/><path d="M488.4,511.5 L488.0,528.7" fill="none" stroke="#7ab5d5" stroke-width="11.4" stroke-linecap="round" stroke-linejoin="round"/></g>
<g opacity="0.88"><path d="M502.2,537.6 L516.8,529.3" fill="none" stroke="#a08cc6" stroke-width="14" stroke-linecap="round" stroke-linejoin="round"/><path d="M502.2,537.6 L516.8,529.3" fill="none" stroke="#d0c2e8" stroke-width="11.4" stroke-linecap="round" stroke-linejoin="round"/></g>
<line x1="518.6" y1="476.4" x2="532.8" y2="485.4" stroke="#8a8a8a" stroke-width="1.9"/>
<line x1="517.2" y1="478.6" x2="531.4" y2="487.6" stroke="#8a8a8a" stroke-width="1.9"/>
<line x1="518.5" y1="478.7" x2="504.0" y2="487.0" stroke="#8a8a8a" stroke-width="1.9"/>
<line x1="517.2" y1="476.4" x2="502.7" y2="484.7" stroke="#8a8a8a" stroke-width="1.9"/>
<line x1="516.6" y1="477.5" x2="516.9" y2="462.0" stroke="#8a8a8a" stroke-width="1.9"/>
<line x1="519.2" y1="477.6" x2="519.5" y2="462.0" stroke="#8a8a8a" stroke-width="1.9"/>
<line x1="533.4" y1="486.5" x2="533.0" y2="503.8" stroke="#8a8a8a" stroke-width="1.9"/>
<line x1="530.8" y1="486.4" x2="530.4" y2="503.7" stroke="#8a8a8a" stroke-width="1.9"/>
<line x1="531.4" y1="485.3" x2="546.0" y2="477.0" stroke="#8a8a8a" stroke-width="1.9"/>
<line x1="532.7" y1="487.6" x2="547.3" y2="479.3" stroke="#8a8a8a" stroke-width="1.9"/>
<line x1="532.3" y1="504.9" x2="517.8" y2="513.2" stroke="#8a8a8a" stroke-width="1.9"/>
<line x1="531.1" y1="502.6" x2="516.5" y2="510.9" stroke="#8a8a8a" stroke-width="1.9"/>
<line x1="532.4" y1="502.6" x2="546.6" y2="511.6" stroke="#8a8a8a" stroke-width="1.9"/>
<line x1="531.0" y1="504.8" x2="545.2" y2="513.8" stroke="#8a8a8a" stroke-width="1.9"/>
<line x1="516.5" y1="513.2" x2="502.3" y2="504.2" stroke="#8a8a8a" stroke-width="1.9"/>
<line x1="517.8" y1="511.0" x2="503.6" y2="502.0" stroke="#8a8a8a" stroke-width="1.9"/>
<line x1="518.4" y1="512.1" x2="518.1" y2="529.3" stroke="#8a8a8a" stroke-width="1.9"/>
<line x1="515.8" y1="512.0" x2="515.5" y2="529.3" stroke="#8a8a8a" stroke-width="1.9"/>
<line x1="501.7" y1="503.1" x2="502.0" y2="485.8" stroke="#8a8a8a" stroke-width="1.9"/>
<line x1="504.3" y1="503.2" x2="504.6" y2="485.9" stroke="#8a8a8a" stroke-width="1.9"/>
<line x1="503.6" y1="504.3" x2="489.0" y2="512.6" stroke="#8a8a8a" stroke-width="1.9"/>
<line x1="502.3" y1="502.0" x2="487.8" y2="510.3" stroke="#8a8a8a" stroke-width="1.9"/>
<line x1="502.6" y1="487.0" x2="489.9" y2="478.9" stroke="#8a8a8a" stroke-width="1.9"/>
<line x1="504.0" y1="484.8" x2="491.2" y2="476.7" stroke="#8a8a8a" stroke-width="1.9"/>
<line x1="547.3" y1="477.0" x2="561.5" y2="486.0" stroke="#8a8a8a" stroke-width="1.9"/>
<line x1="545.9" y1="479.2" x2="560.1" y2="488.2" stroke="#8a8a8a" stroke-width="1.9"/>
<line x1="562.1" y1="487.1" x2="561.7" y2="504.4" stroke="#8a8a8a" stroke-width="1.9"/>
<line x1="559.5" y1="487.0" x2="559.1" y2="504.3" stroke="#8a8a8a" stroke-width="1.9"/>
<line x1="560.2" y1="485.9" x2="574.7" y2="477.6" stroke="#8a8a8a" stroke-width="1.9"/>
<line x1="561.5" y1="488.2" x2="576.0" y2="479.9" stroke="#8a8a8a" stroke-width="1.9"/>
<line x1="561.1" y1="505.5" x2="546.5" y2="513.8" stroke="#8a8a8a" stroke-width="1.9"/>
<line x1="559.8" y1="503.2" x2="545.2" y2="511.5" stroke="#8a8a8a" stroke-width="1.9"/>
<line x1="561.1" y1="503.2" x2="575.3" y2="512.2" stroke="#8a8a8a" stroke-width="1.9"/>
<line x1="559.8" y1="505.4" x2="573.9" y2="514.4" stroke="#8a8a8a" stroke-width="1.9"/>
<line x1="576.1" y1="477.6" x2="590.2" y2="486.6" stroke="#8a8a8a" stroke-width="1.9"/>
<line x1="574.7" y1="479.8" x2="588.9" y2="488.8" stroke="#8a8a8a" stroke-width="1.9"/>
<line x1="574.1" y1="478.7" x2="574.4" y2="463.2" stroke="#8a8a8a" stroke-width="1.9"/>
<line x1="576.7" y1="478.8" x2="577.0" y2="463.2" stroke="#8a8a8a" stroke-width="1.9"/>
<line x1="590.9" y1="487.7" x2="590.5" y2="505.0" stroke="#8a8a8a" stroke-width="1.9"/>
<line x1="588.3" y1="487.6" x2="587.9" y2="504.9" stroke="#8a8a8a" stroke-width="1.9"/>
<line x1="588.9" y1="486.5" x2="603.5" y2="478.2" stroke="#8a8a8a" stroke-width="1.9"/>
<line x1="590.2" y1="488.8" x2="604.8" y2="480.5" stroke="#8a8a8a" stroke-width="1.9"/>
<line x1="589.8" y1="506.1" x2="575.3" y2="514.4" stroke="#8a8a8a" stroke-width="1.9"/>
<line x1="588.5" y1="503.8" x2="574.0" y2="512.1" stroke="#8a8a8a" stroke-width="1.9"/>
<line x1="589.9" y1="503.8" x2="604.1" y2="512.8" stroke="#8a8a8a" stroke-width="1.9"/>
<line x1="588.5" y1="506.0" x2="602.7" y2="515.0" stroke="#8a8a8a" stroke-width="1.9"/>
<line x1="575.9" y1="513.3" x2="575.6" y2="528.8" stroke="#8a8a8a" stroke-width="1.9"/>
<line x1="573.3" y1="513.2" x2="573.0" y2="528.8" stroke="#8a8a8a" stroke-width="1.9"/>
<line x1="604.8" y1="478.2" x2="619.0" y2="487.2" stroke="#8a8a8a" stroke-width="1.9"/>
<line x1="603.4" y1="480.4" x2="617.6" y2="489.4" stroke="#8a8a8a" stroke-width="1.9"/>
<line x1="619.6" y1="488.3" x2="619.2" y2="505.6" stroke="#8a8a8a" stroke-width="1.9"/>
<line x1="617.0" y1="488.2" x2="616.6" y2="505.5" stroke="#8a8a8a" stroke-width="1.9"/>
<line x1="617.7" y1="487.1" x2="632.2" y2="478.8" stroke="#8a8a8a" stroke-width="1.9"/>
<line x1="618.9" y1="489.4" x2="633.5" y2="481.1" stroke="#8a8a8a" stroke-width="1.9"/>
<line x1="618.6" y1="506.7" x2="604.0" y2="515.0" stroke="#8a8a8a" stroke-width="1.9"/>
<line x1="617.3" y1="504.4" x2="602.7" y2="512.7" stroke="#8a8a8a" stroke-width="1.9"/>
<line x1="618.6" y1="504.4" x2="632.8" y2="513.4" stroke="#8a8a8a" stroke-width="1.9"/>
<line x1="617.2" y1="506.6" x2="631.4" y2="515.6" stroke="#8a8a8a" stroke-width="1.9"/>
<line x1="633.5" y1="478.8" x2="647.7" y2="487.8" stroke="#8a8a8a" stroke-width="1.9"/>
<line x1="632.2" y1="481.0" x2="646.4" y2="490.0" stroke="#8a8a8a" stroke-width="1.9"/>
<line x1="631.6" y1="479.9" x2="631.9" y2="462.7" stroke="#8a8a8a" stroke-width="1.9"/>
<line x1="634.2" y1="480.0" x2="634.5" y2="462.7" stroke="#8a8a8a" stroke-width="1.9"/>
<line x1="648.3" y1="488.9" x2="648.0" y2="506.2" stroke="#8a8a8a" stroke-width="1.9"/>
<line x1="645.7" y1="488.8" x2="645.4" y2="506.1" stroke="#8a8a8a" stroke-width="1.9"/>
<line x1="646.4" y1="487.7" x2="661.0" y2="479.4" stroke="#8a8a8a" stroke-width="1.9"/>
<line x1="647.7" y1="490.0" x2="662.2" y2="481.7" stroke="#8a8a8a" stroke-width="1.9"/>
<line x1="647.3" y1="507.3" x2="632.8" y2="515.6" stroke="#8a8a8a" stroke-width="1.9"/>
<line x1="646.0" y1="505.0" x2="631.5" y2="513.3" stroke="#8a8a8a" stroke-width="1.9"/>
<line x1="647.4" y1="505.0" x2="660.1" y2="513.1" stroke="#8a8a8a" stroke-width="1.9"/>
<line x1="646.0" y1="507.2" x2="658.8" y2="515.3" stroke="#8a8a8a" stroke-width="1.9"/>
<line x1="633.4" y1="514.5" x2="633.1" y2="530.0" stroke="#8a8a8a" stroke-width="1.9"/>
<line x1="630.8" y1="514.4" x2="630.5" y2="530.0" stroke="#8a8a8a" stroke-width="1.9"/>
<line x1="517.4" y1="530.4" x2="502.9" y2="538.8" stroke="#8a8a8a" stroke-width="1.9"/>
<line x1="516.1" y1="528.2" x2="501.6" y2="536.5" stroke="#8a8a8a" stroke-width="1.9"/>
<line x1="517.5" y1="528.2" x2="528.1" y2="534.9" stroke="#8a8a8a" stroke-width="1.9"/>
<line x1="516.1" y1="530.4" x2="526.7" y2="537.1" stroke="#8a8a8a" stroke-width="1.9"/>
<line x1="501.5" y1="538.7" x2="487.3" y2="529.8" stroke="#8a8a8a" stroke-width="1.9"/>
<line x1="502.9" y1="536.5" x2="488.7" y2="527.6" stroke="#8a8a8a" stroke-width="1.9"/>
<line x1="503.5" y1="537.7" x2="503.3" y2="550.6" stroke="#8a8a8a" stroke-width="1.9"/>
<line x1="500.9" y1="537.6" x2="500.7" y2="550.6" stroke="#8a8a8a" stroke-width="1.9"/>
<line x1="486.7" y1="528.7" x2="487.1" y2="511.4" stroke="#8a8a8a" stroke-width="1.9"/>
<line x1="489.3" y1="528.7" x2="489.7" y2="511.5" stroke="#8a8a8a" stroke-width="1.9"/>
<line x1="488.7" y1="529.8" x2="477.8" y2="536.1" stroke="#8a8a8a" stroke-width="1.9"/>
<line x1="487.4" y1="527.6" x2="476.5" y2="533.8" stroke="#8a8a8a" stroke-width="1.9"/>
<line x1="487.7" y1="512.6" x2="477.1" y2="505.9" stroke="#8a8a8a" stroke-width="1.9"/>
<line x1="489.1" y1="510.4" x2="478.4" y2="503.7" stroke="#8a8a8a" stroke-width="1.9"/>
<line x1="648.5" y1="453.3" x2="662.7" y2="462.2" stroke="#8a8a8a" stroke-width="1.9"/>
<line x1="647.1" y1="455.5" x2="661.3" y2="464.4" stroke="#8a8a8a" stroke-width="1.9"/>
<line x1="648.4" y1="455.5" x2="633.9" y2="463.8" stroke="#8a8a8a" stroke-width="1.9"/>
<line x1="647.1" y1="453.2" x2="632.6" y2="461.6" stroke="#8a8a8a" stroke-width="1.9"/>
<line x1="646.5" y1="454.3" x2="646.7" y2="441.4" stroke="#8a8a8a" stroke-width="1.9"/>
<line x1="649.1" y1="454.4" x2="649.3" y2="441.4" stroke="#8a8a8a" stroke-width="1.9"/>
<line x1="663.3" y1="463.3" x2="662.9" y2="480.6" stroke="#8a8a8a" stroke-width="1.9"/>
<line x1="660.7" y1="463.3" x2="660.3" y2="480.5" stroke="#8a8a8a" stroke-width="1.9"/>
<line x1="661.3" y1="462.2" x2="672.2" y2="455.9" stroke="#8a8a8a" stroke-width="1.9"/>
<line x1="662.6" y1="464.4" x2="673.5" y2="458.2" stroke="#8a8a8a" stroke-width="1.9"/>
<line x1="662.3" y1="479.4" x2="672.9" y2="486.1" stroke="#8a8a8a" stroke-width="1.9"/>
<line x1="660.9" y1="481.6" x2="671.6" y2="488.3" stroke="#8a8a8a" stroke-width="1.9"/>
<line x1="632.5" y1="463.8" x2="621.9" y2="457.1" stroke="#8a8a8a" stroke-width="1.9"/>
<line x1="633.9" y1="461.6" x2="623.3" y2="454.9" stroke="#8a8a8a" stroke-width="1.9"/>
<circle cx="517.9" cy="477.5" r="4.4" fill="url(#dC)"/>
<circle cx="532.1" cy="486.5" r="4.4" fill="url(#dC)"/>
<circle cx="531.7" cy="503.7" r="4.4" fill="url(#dC)"/>
<circle cx="517.1" cy="512.1" r="4.4" fill="url(#dC)"/>
<circle cx="503.0" cy="503.1" r="4.4" fill="url(#dC)"/>
<circle cx="503.3" cy="485.9" r="4.4" fill="url(#dC)"/>
<circle cx="546.6" cy="478.1" r="4.7" fill="url(#dN)"/>
<circle cx="560.8" cy="487.1" r="4.4" fill="url(#dC)"/>
<circle cx="560.4" cy="504.3" r="4.4" fill="url(#dC)"/>
<circle cx="545.9" cy="512.7" r="4.7" fill="url(#dN)"/>
<circle cx="575.4" cy="478.7" r="4.4" fill="url(#dC)"/>
<circle cx="589.6" cy="487.7" r="4.4" fill="url(#dC)"/>
<circle cx="589.2" cy="504.9" r="4.4" fill="url(#dC)"/>
<circle cx="574.6" cy="513.3" r="4.4" fill="url(#dC)"/>
<circle cx="604.1" cy="479.3" r="4.7" fill="url(#dN)"/>
<circle cx="618.3" cy="488.3" r="4.4" fill="url(#dC)"/>
<circle cx="617.9" cy="505.5" r="4.4" fill="url(#dC)"/>
<circle cx="603.4" cy="513.9" r="4.7" fill="url(#dN)"/>
<circle cx="632.9" cy="479.9" r="4.4" fill="url(#dC)"/>
<circle cx="647.0" cy="488.9" r="4.4" fill="url(#dC)"/>
<circle cx="646.7" cy="506.1" r="4.4" fill="url(#dC)"/>
<circle cx="632.1" cy="514.5" r="4.4" fill="url(#dC)"/>
<circle cx="516.8" cy="529.3" r="4.4" fill="url(#dC)"/>
<circle cx="502.2" cy="537.6" r="4.4" fill="url(#dC)"/>
<circle cx="488.0" cy="528.7" r="4.4" fill="url(#dC)"/>
<circle cx="488.4" cy="511.5" r="4.4" fill="url(#dC)"/>
<circle cx="647.8" cy="454.4" r="4.4" fill="url(#dC)"/>
<circle cx="662.0" cy="463.3" r="4.4" fill="url(#dC)"/>
<circle cx="661.6" cy="480.5" r="4.4" fill="url(#dC)"/>
<circle cx="633.2" cy="462.7" r="4.4" fill="url(#dC)"/>
<circle cx="575.7" cy="463.2" r="4.2" fill="url(#dO)"/>
<circle cx="574.3" cy="528.8" r="4.2" fill="url(#dO)"/>
<circle cx="518.2" cy="462.0" r="4.2" fill="url(#dO)"/>
<circle cx="490.5" cy="477.8" r="4.2" fill="url(#dO)"/>
<circle cx="631.8" cy="530.0" r="4.2" fill="url(#dO)"/>
<circle cx="659.5" cy="514.2" r="4.2" fill="url(#dO)"/>
<circle cx="477.8" cy="504.8" r="3.9" fill="url(#dH)"/>
<circle cx="477.1" cy="535.0" r="3.9" fill="url(#dH)"/>
<circle cx="502.0" cy="550.6" r="3.9" fill="url(#dH)"/>
<circle cx="527.4" cy="536.0" r="3.9" fill="url(#dH)"/>
<circle cx="648.0" cy="441.4" r="3.9" fill="url(#dH)"/>
<circle cx="672.9" cy="457.0" r="3.9" fill="url(#dH)"/>
<circle cx="672.2" cy="487.2" r="3.9" fill="url(#dH)"/>
<circle cx="622.6" cy="456.0" r="3.9" fill="url(#dH)"/>
<circle cx="518.2" cy="462.0" r="10.5" fill="#7ab5d5" fill-opacity="0.35"/>
<circle cx="490.5" cy="477.8" r="10" fill="#7ab5d5" fill-opacity="0.35"/>
<circle cx="575.7" cy="463.2" r="11" fill="#d0c2e8" fill-opacity="0.35"/>
<circle cx="574.3" cy="528.8" r="11" fill="#7ab5d5" fill-opacity="0.35"/>
<circle cx="631.8" cy="530.0" r="11" fill="#d0c2e8" fill-opacity="0.35"/>
<circle cx="659.5" cy="514.2" r="10" fill="#d0c2e8" fill-opacity="0.35"/>
<path d="M503.0,503.1 L503.3,485.9 L517.9,477.5 L532.1,486.5" fill="none" stroke="#d0c2e8" stroke-opacity="0.35" stroke-width="16" stroke-linecap="round" stroke-linejoin="round"/>
<path d="M517.1,512.1 L531.7,503.7 L545.9,512.7" fill="none" stroke="#7ab5d5" stroke-opacity="0.35" stroke-width="16" stroke-linecap="round" stroke-linejoin="round"/>
<path d="M560.8,487.1 L575.4,478.7 L589.6,487.7" fill="none" stroke="#7ab5d5" stroke-opacity="0.35" stroke-width="19.0" stroke-linecap="round" stroke-linejoin="round"/>
<path d="M560.4,504.3 L574.6,513.3 L589.2,504.9" fill="none" stroke="#d0c2e8" stroke-opacity="0.35" stroke-width="19.0" stroke-linecap="round" stroke-linejoin="round"/>
<path d="M604.1,479.3 L618.3,488.3 L632.9,479.9" fill="none" stroke="#d0c2e8" stroke-opacity="0.35" stroke-width="17.0" stroke-linecap="round" stroke-linejoin="round"/>
<path d="M617.9,505.5 L632.1,514.5 L646.7,506.1 L647.0,488.9" fill="none" stroke="#7ab5d5" stroke-opacity="0.35" stroke-width="17.0" stroke-linecap="round" stroke-linejoin="round"/>
<path d="M633.2,462.7 L647.8,454.4" fill="none" stroke="#7ab5d5" stroke-opacity="0.35" stroke-width="15.0" stroke-linecap="round" stroke-linejoin="round"/>
<path d="M662.0,463.3 L661.6,480.5" fill="none" stroke="#d0c2e8" stroke-opacity="0.35" stroke-width="14" stroke-linecap="round" stroke-linejoin="round"/>
<path d="M488.4,511.5 L488.0,528.7" fill="none" stroke="#7ab5d5" stroke-opacity="0.35" stroke-width="14" stroke-linecap="round" stroke-linejoin="round"/>
<path d="M502.2,537.6 L516.8,529.3" fill="none" stroke="#d0c2e8" stroke-opacity="0.35" stroke-width="14" stroke-linecap="round" stroke-linejoin="round"/>
<ellipse cx="564.0" cy="592.0" rx="9.6" ry="11.3" fill="#cbc8f1" fill-opacity="0.88" stroke="#a6a2dc" stroke-width="1.3" stroke-opacity="0.8"/>
<ellipse cx="582.6" cy="592.2" rx="9.0" ry="11.2" fill="#56bedd" fill-opacity="0.88" stroke="#309ec6" stroke-width="1.3" stroke-opacity="0.8"/>
<ellipse cx="563.5" cy="663.8" rx="8.9" ry="13.8" fill="#56bedd" fill-opacity="0.88" stroke="#309ec6" stroke-width="1.3" stroke-opacity="0.8"/>
<ellipse cx="582.0" cy="663.8" rx="9.6" ry="13.8" fill="#cbc8f1" fill-opacity="0.88" stroke="#a6a2dc" stroke-width="1.3" stroke-opacity="0.8"/>
<ellipse cx="504.2" cy="590.8" rx="9.5" ry="11.2" fill="#56bedd" fill-opacity="0.88" stroke="#309ec6" stroke-width="1.3" stroke-opacity="0.8"/>
<ellipse cx="523.4" cy="590.8" rx="9.6" ry="11.2" fill="#cbc8f1" fill-opacity="0.88" stroke="#a6a2dc" stroke-width="1.3" stroke-opacity="0.8"/>
<ellipse cx="488.7" cy="603.9" rx="12.0" ry="7.9" fill="#cbc8f1" fill-opacity="0.88" stroke="#a6a2dc" stroke-width="1.3" stroke-opacity="0.8" transform="rotate(-15 488.7 603.9)"/>
<ellipse cx="484.0" cy="620.1" rx="14.3" ry="8.4" fill="#56bedd" fill-opacity="0.88" stroke="#309ec6" stroke-width="1.3" stroke-opacity="0.8" transform="rotate(15 484.0 620.1)"/>
<ellipse cx="658.5" cy="638.7" rx="16.8" ry="9.0" fill="#56bedd" fill-opacity="0.88" stroke="#309ec6" stroke-width="1.3" stroke-opacity="0.8" transform="rotate(15 658.5 638.7)"/>
<ellipse cx="657.3" cy="653.5" rx="10.7" ry="8.5" fill="#cbc8f1" fill-opacity="0.88" stroke="#a6a2dc" stroke-width="1.3" stroke-opacity="0.8" transform="rotate(-15 657.3 653.5)"/>
<ellipse cx="623.9" cy="665.5" rx="8.4" ry="15.5" fill="#cbc8f1" fill-opacity="0.88" stroke="#a6a2dc" stroke-width="1.3" stroke-opacity="0.8"/>
<ellipse cx="641.8" cy="665.5" rx="9.6" ry="15.5" fill="#56bedd" fill-opacity="0.88" stroke="#309ec6" stroke-width="1.3" stroke-opacity="0.8"/>
<ellipse cx="543.0" cy="606.4" rx="9.0" ry="5.4" fill="#56bedd" fill-opacity="0.88" stroke="#309ec6" stroke-width="1.3" stroke-opacity="0.8"/>
<ellipse cx="543.0" cy="653.0" rx="9.0" ry="6.6" fill="#cbc8f1" fill-opacity="0.88" stroke="#a6a2dc" stroke-width="1.3" stroke-opacity="0.8"/>
<ellipse cx="603.5" cy="605.2" rx="9.5" ry="6.6" fill="#cbc8f1" fill-opacity="0.88" stroke="#a6a2dc" stroke-width="1.3" stroke-opacity="0.8"/>
<ellipse cx="603.5" cy="653.0" rx="9.5" ry="5.3" fill="#56bedd" fill-opacity="0.88" stroke="#309ec6" stroke-width="1.3" stroke-opacity="0.8"/>
<ellipse cx="541.9" cy="624.9" rx="13.9" ry="4.9" fill="#cbc8f1" fill-opacity="0.88" stroke="#a6a2dc" stroke-width="1.3" stroke-opacity="0.8"/>
<ellipse cx="542.0" cy="638.0" rx="14.0" ry="5.0" fill="#56bedd" fill-opacity="0.88" stroke="#309ec6" stroke-width="1.3" stroke-opacity="0.8"/>
<ellipse cx="603.5" cy="625.0" rx="14.5" ry="6.0" fill="#56bedd" fill-opacity="0.88" stroke="#309ec6" stroke-width="1.3" stroke-opacity="0.8"/>
<ellipse cx="603.5" cy="639.0" rx="14.5" ry="6.0" fill="#cbc8f1" fill-opacity="0.88" stroke="#a6a2dc" stroke-width="1.3" stroke-opacity="0.8"/>
<ellipse cx="523.4" cy="617.8" rx="8.4" ry="6.0" fill="#56bedd" fill-opacity="0.88" stroke="#309ec6" stroke-width="1.3" stroke-opacity="0.8"/>
<ellipse cx="562.0" cy="616.0" rx="9.0" ry="8.0" fill="#56bedd" fill-opacity="0.88" stroke="#309ec6" stroke-width="1.3" stroke-opacity="0.8"/>
<ellipse cx="584.5" cy="616.0" rx="8.5" ry="8.0" fill="#cbc8f1" fill-opacity="0.88" stroke="#a6a2dc" stroke-width="1.3" stroke-opacity="0.8"/>
<ellipse cx="562.0" cy="640.0" rx="9.0" ry="8.0" fill="#cbc8f1" fill-opacity="0.88" stroke="#a6a2dc" stroke-width="1.3" stroke-opacity="0.8"/>
<ellipse cx="584.5" cy="641.0" rx="8.5" ry="7.0" fill="#56bedd" fill-opacity="0.88" stroke="#309ec6" stroke-width="1.3" stroke-opacity="0.8"/>
<ellipse cx="622.0" cy="639.0" rx="10.0" ry="7.0" fill="#cbc8f1" fill-opacity="0.88" stroke="#a6a2dc" stroke-width="1.3" stroke-opacity="0.8"/>
<ellipse cx="503.0" cy="634.0" rx="9.0" ry="6.0" fill="#cbc8f1" fill-opacity="0.88" stroke="#a6a2dc" stroke-width="1.3" stroke-opacity="0.8"/>
<line x1="516.5" y1="607.8" x2="530.6" y2="617.3" stroke="#8a8a8a" stroke-width="1.9"/>
<line x1="515.0" y1="610.0" x2="529.1" y2="619.4" stroke="#8a8a8a" stroke-width="1.9"/>
<line x1="516.3" y1="610.1" x2="501.2" y2="617.8" stroke="#8a8a8a" stroke-width="1.9"/>
<line x1="515.2" y1="607.8" x2="500.0" y2="615.5" stroke="#8a8a8a" stroke-width="1.9"/>
<line x1="514.4" y1="608.8" x2="515.3" y2="593.4" stroke="#8a8a8a" stroke-width="1.9"/>
<line x1="517.0" y1="609.0" x2="517.9" y2="593.5" stroke="#8a8a8a" stroke-width="1.9"/>
<line x1="531.2" y1="618.4" x2="530.2" y2="635.7" stroke="#8a8a8a" stroke-width="1.9"/>
<line x1="528.6" y1="618.3" x2="527.6" y2="635.5" stroke="#8a8a8a" stroke-width="1.9"/>
<line x1="529.3" y1="617.2" x2="544.4" y2="609.4" stroke="#8a8a8a" stroke-width="1.9"/>
<line x1="530.5" y1="619.5" x2="545.6" y2="611.8" stroke="#8a8a8a" stroke-width="1.9"/>
<line x1="529.5" y1="636.7" x2="514.4" y2="644.5" stroke="#8a8a8a" stroke-width="1.9"/>
<line x1="528.3" y1="634.4" x2="513.2" y2="642.2" stroke="#8a8a8a" stroke-width="1.9"/>
<line x1="529.6" y1="634.5" x2="543.7" y2="643.9" stroke="#8a8a8a" stroke-width="1.9"/>
<line x1="528.1" y1="636.7" x2="542.3" y2="646.1" stroke="#8a8a8a" stroke-width="1.9"/>
<line x1="513.0" y1="644.4" x2="498.9" y2="635.0" stroke="#8a8a8a" stroke-width="1.9"/>
<line x1="514.5" y1="642.3" x2="500.4" y2="632.8" stroke="#8a8a8a" stroke-width="1.9"/>
<line x1="515.1" y1="643.4" x2="514.1" y2="660.6" stroke="#8a8a8a" stroke-width="1.9"/>
<line x1="512.5" y1="643.3" x2="511.5" y2="660.5" stroke="#8a8a8a" stroke-width="1.9"/>
<line x1="498.3" y1="633.8" x2="499.3" y2="616.6" stroke="#8a8a8a" stroke-width="1.9"/>
<line x1="500.9" y1="634.0" x2="501.9" y2="616.8" stroke="#8a8a8a" stroke-width="1.9"/>
<line x1="500.2" y1="635.0" x2="485.1" y2="642.8" stroke="#8a8a8a" stroke-width="1.9"/>
<line x1="499.1" y1="632.7" x2="483.9" y2="640.5" stroke="#8a8a8a" stroke-width="1.9"/>
<line x1="499.9" y1="617.8" x2="487.2" y2="609.3" stroke="#8a8a8a" stroke-width="1.9"/>
<line x1="501.4" y1="615.6" x2="488.7" y2="607.1" stroke="#8a8a8a" stroke-width="1.9"/>
<line x1="545.7" y1="609.5" x2="559.8" y2="619.0" stroke="#8a8a8a" stroke-width="1.9"/>
<line x1="544.2" y1="611.7" x2="558.4" y2="621.1" stroke="#8a8a8a" stroke-width="1.9"/>
<line x1="560.4" y1="620.1" x2="559.4" y2="637.3" stroke="#8a8a8a" stroke-width="1.9"/>
<line x1="557.8" y1="620.0" x2="556.8" y2="637.2" stroke="#8a8a8a" stroke-width="1.9"/>
<line x1="558.5" y1="618.9" x2="573.6" y2="611.1" stroke="#8a8a8a" stroke-width="1.9"/>
<line x1="559.7" y1="621.2" x2="574.8" y2="613.4" stroke="#8a8a8a" stroke-width="1.9"/>
<line x1="558.7" y1="638.4" x2="543.6" y2="646.2" stroke="#8a8a8a" stroke-width="1.9"/>
<line x1="557.5" y1="636.1" x2="542.4" y2="643.9" stroke="#8a8a8a" stroke-width="1.9"/>
<line x1="558.8" y1="636.2" x2="572.9" y2="645.6" stroke="#8a8a8a" stroke-width="1.9"/>
<line x1="557.4" y1="638.3" x2="571.5" y2="647.8" stroke="#8a8a8a" stroke-width="1.9"/>
<line x1="574.9" y1="611.2" x2="589.0" y2="620.7" stroke="#8a8a8a" stroke-width="1.9"/>
<line x1="573.5" y1="613.4" x2="587.6" y2="622.8" stroke="#8a8a8a" stroke-width="1.9"/>
<line x1="572.9" y1="612.2" x2="573.8" y2="596.7" stroke="#8a8a8a" stroke-width="1.9"/>
<line x1="575.5" y1="612.4" x2="576.4" y2="596.9" stroke="#8a8a8a" stroke-width="1.9"/>
<line x1="589.6" y1="621.8" x2="588.6" y2="639.0" stroke="#8a8a8a" stroke-width="1.9"/>
<line x1="587.0" y1="621.7" x2="586.0" y2="638.9" stroke="#8a8a8a" stroke-width="1.9"/>
<line x1="587.7" y1="620.6" x2="602.8" y2="612.8" stroke="#8a8a8a" stroke-width="1.9"/>
<line x1="588.9" y1="622.9" x2="604.0" y2="615.1" stroke="#8a8a8a" stroke-width="1.9"/>
<line x1="587.9" y1="640.1" x2="572.8" y2="647.9" stroke="#8a8a8a" stroke-width="1.9"/>
<line x1="586.7" y1="637.8" x2="571.6" y2="645.6" stroke="#8a8a8a" stroke-width="1.9"/>
<line x1="588.0" y1="637.9" x2="602.2" y2="647.3" stroke="#8a8a8a" stroke-width="1.9"/>
<line x1="586.6" y1="640.0" x2="600.7" y2="649.5" stroke="#8a8a8a" stroke-width="1.9"/>
<line x1="573.5" y1="646.8" x2="572.6" y2="662.3" stroke="#8a8a8a" stroke-width="1.9"/>
<line x1="570.9" y1="646.6" x2="570.0" y2="662.1" stroke="#8a8a8a" stroke-width="1.9"/>
<line x1="604.1" y1="612.9" x2="618.3" y2="622.3" stroke="#8a8a8a" stroke-width="1.9"/>
<line x1="602.7" y1="615.1" x2="616.8" y2="624.5" stroke="#8a8a8a" stroke-width="1.9"/>
<line x1="618.8" y1="623.5" x2="617.8" y2="640.7" stroke="#8a8a8a" stroke-width="1.9"/>
<line x1="616.2" y1="623.3" x2="615.2" y2="640.6" stroke="#8a8a8a" stroke-width="1.9"/>
<line x1="616.9" y1="622.3" x2="632.0" y2="614.5" stroke="#8a8a8a" stroke-width="1.9"/>
<line x1="618.1" y1="624.6" x2="633.2" y2="616.8" stroke="#8a8a8a" stroke-width="1.9"/>
<line x1="617.1" y1="641.8" x2="602.0" y2="649.6" stroke="#8a8a8a" stroke-width="1.9"/>
<line x1="615.9" y1="639.5" x2="600.8" y2="647.2" stroke="#8a8a8a" stroke-width="1.9"/>
<line x1="617.3" y1="639.6" x2="631.4" y2="649.0" stroke="#8a8a8a" stroke-width="1.9"/>
<line x1="615.8" y1="641.7" x2="629.9" y2="651.2" stroke="#8a8a8a" stroke-width="1.9"/>
<line x1="633.4" y1="614.6" x2="647.5" y2="624.0" stroke="#8a8a8a" stroke-width="1.9"/>
<line x1="631.9" y1="616.7" x2="646.0" y2="626.2" stroke="#8a8a8a" stroke-width="1.9"/>
<line x1="631.3" y1="615.6" x2="632.3" y2="598.4" stroke="#8a8a8a" stroke-width="1.9"/>
<line x1="633.9" y1="615.7" x2="634.9" y2="598.5" stroke="#8a8a8a" stroke-width="1.9"/>
<line x1="648.1" y1="625.2" x2="647.1" y2="642.4" stroke="#8a8a8a" stroke-width="1.9"/>
<line x1="645.5" y1="625.0" x2="644.5" y2="642.2" stroke="#8a8a8a" stroke-width="1.9"/>
<line x1="646.2" y1="624.0" x2="661.3" y2="616.2" stroke="#8a8a8a" stroke-width="1.9"/>
<line x1="647.3" y1="626.3" x2="662.5" y2="618.5" stroke="#8a8a8a" stroke-width="1.9"/>
<line x1="646.4" y1="643.5" x2="631.2" y2="651.2" stroke="#8a8a8a" stroke-width="1.9"/>
<line x1="645.2" y1="641.2" x2="630.1" y2="648.9" stroke="#8a8a8a" stroke-width="1.9"/>
<line x1="646.5" y1="641.2" x2="659.2" y2="649.7" stroke="#8a8a8a" stroke-width="1.9"/>
<line x1="645.0" y1="643.4" x2="657.7" y2="651.9" stroke="#8a8a8a" stroke-width="1.9"/>
<line x1="632.0" y1="650.2" x2="631.1" y2="665.6" stroke="#8a8a8a" stroke-width="1.9"/>
<line x1="629.4" y1="650.0" x2="628.5" y2="665.5" stroke="#8a8a8a" stroke-width="1.9"/>
<line x1="513.4" y1="661.7" x2="498.3" y2="669.5" stroke="#8a8a8a" stroke-width="1.9"/>
<line x1="512.2" y1="659.4" x2="497.1" y2="667.2" stroke="#8a8a8a" stroke-width="1.9"/>
<line x1="513.5" y1="659.5" x2="524.1" y2="666.6" stroke="#8a8a8a" stroke-width="1.9"/>
<line x1="512.0" y1="661.6" x2="522.6" y2="668.7" stroke="#8a8a8a" stroke-width="1.9"/>
<line x1="496.9" y1="669.4" x2="482.8" y2="659.9" stroke="#8a8a8a" stroke-width="1.9"/>
<line x1="498.4" y1="667.2" x2="484.3" y2="657.8" stroke="#8a8a8a" stroke-width="1.9"/>
<line x1="499.0" y1="668.4" x2="498.2" y2="681.3" stroke="#8a8a8a" stroke-width="1.9"/>
<line x1="496.4" y1="668.2" x2="495.6" y2="681.1" stroke="#8a8a8a" stroke-width="1.9"/>
<line x1="482.2" y1="658.8" x2="483.2" y2="641.6" stroke="#8a8a8a" stroke-width="1.9"/>
<line x1="484.8" y1="658.9" x2="485.8" y2="641.7" stroke="#8a8a8a" stroke-width="1.9"/>
<line x1="484.1" y1="660.0" x2="472.8" y2="665.8" stroke="#8a8a8a" stroke-width="1.9"/>
<line x1="483.0" y1="657.7" x2="471.6" y2="663.5" stroke="#8a8a8a" stroke-width="1.9"/>
<line x1="483.8" y1="642.7" x2="473.2" y2="635.6" stroke="#8a8a8a" stroke-width="1.9"/>
<line x1="485.3" y1="640.6" x2="474.7" y2="633.5" stroke="#8a8a8a" stroke-width="1.9"/>
<line x1="649.5" y1="589.6" x2="663.6" y2="599.1" stroke="#8a8a8a" stroke-width="1.9"/>
<line x1="648.0" y1="591.8" x2="662.1" y2="601.2" stroke="#8a8a8a" stroke-width="1.9"/>
<line x1="649.3" y1="591.8" x2="634.2" y2="599.6" stroke="#8a8a8a" stroke-width="1.9"/>
<line x1="648.1" y1="589.5" x2="633.0" y2="597.3" stroke="#8a8a8a" stroke-width="1.9"/>
<line x1="647.4" y1="590.6" x2="648.2" y2="577.7" stroke="#8a8a8a" stroke-width="1.9"/>
<line x1="650.0" y1="590.8" x2="650.8" y2="577.9" stroke="#8a8a8a" stroke-width="1.9"/>
<line x1="664.2" y1="600.2" x2="663.2" y2="617.4" stroke="#8a8a8a" stroke-width="1.9"/>
<line x1="661.6" y1="600.1" x2="660.6" y2="617.3" stroke="#8a8a8a" stroke-width="1.9"/>
<line x1="662.3" y1="599.0" x2="673.6" y2="593.2" stroke="#8a8a8a" stroke-width="1.9"/>
<line x1="663.4" y1="601.3" x2="674.8" y2="595.5" stroke="#8a8a8a" stroke-width="1.9"/>
<line x1="662.6" y1="616.3" x2="673.2" y2="623.4" stroke="#8a8a8a" stroke-width="1.9"/>
<line x1="661.1" y1="618.4" x2="671.7" y2="625.5" stroke="#8a8a8a" stroke-width="1.9"/>
<line x1="632.9" y1="599.5" x2="622.3" y2="592.4" stroke="#8a8a8a" stroke-width="1.9"/>
<line x1="634.4" y1="597.4" x2="623.8" y2="590.3" stroke="#8a8a8a" stroke-width="1.9"/>
<circle cx="515.7" cy="608.9" r="4.4" fill="url(#dC)"/>
<circle cx="529.9" cy="618.4" r="4.4" fill="url(#dC)"/>
<circle cx="528.9" cy="635.6" r="4.4" fill="url(#dC)"/>
<circle cx="513.8" cy="643.3" r="4.4" fill="url(#dC)"/>
<circle cx="499.6" cy="633.9" r="4.4" fill="url(#dC)"/>
<circle cx="500.6" cy="616.7" r="4.4" fill="url(#dC)"/>
<circle cx="545.0" cy="610.6" r="4.7" fill="url(#dN)"/>
<circle cx="559.1" cy="620.1" r="4.4" fill="url(#dC)"/>
<circle cx="558.1" cy="637.3" r="4.4" fill="url(#dC)"/>
<circle cx="543.0" cy="645.0" r="4.7" fill="url(#dN)"/>
<circle cx="574.2" cy="612.3" r="4.4" fill="url(#dC)"/>
<circle cx="588.3" cy="621.7" r="4.4" fill="url(#dC)"/>
<circle cx="587.3" cy="638.9" r="4.4" fill="url(#dC)"/>
<circle cx="572.2" cy="646.7" r="4.4" fill="url(#dC)"/>
<circle cx="603.4" cy="614.0" r="4.7" fill="url(#dN)"/>
<circle cx="617.5" cy="623.4" r="4.4" fill="url(#dC)"/>
<circle cx="616.5" cy="640.6" r="4.4" fill="url(#dC)"/>
<circle cx="601.4" cy="648.4" r="4.7" fill="url(#dN)"/>
<circle cx="632.6" cy="615.7" r="4.4" fill="url(#dC)"/>
<circle cx="646.8" cy="625.1" r="4.4" fill="url(#dC)"/>
<circle cx="645.8" cy="642.3" r="4.4" fill="url(#dC)"/>
<circle cx="630.7" cy="650.1" r="4.4" fill="url(#dC)"/>
<circle cx="512.8" cy="660.5" r="4.4" fill="url(#dC)"/>
<circle cx="497.7" cy="668.3" r="4.4" fill="url(#dC)"/>
<circle cx="483.5" cy="658.9" r="4.4" fill="url(#dC)"/>
<circle cx="484.5" cy="641.7" r="4.4" fill="url(#dC)"/>
<circle cx="648.7" cy="590.7" r="4.4" fill="url(#dC)"/>
<circle cx="662.9" cy="600.1" r="4.4" fill="url(#dC)"/>
<circle cx="661.9" cy="617.3" r="4.4" fill="url(#dC)"/>
<circle cx="633.6" cy="598.5" r="4.4" fill="url(#dC)"/>
<circle cx="575.1" cy="596.8" r="4.2" fill="url(#dO)"/>
<circle cx="571.3" cy="662.2" r="4.2" fill="url(#dO)"/>
<circle cx="516.6" cy="593.4" r="4.2" fill="url(#dO)"/>
<circle cx="487.9" cy="608.2" r="4.2" fill="url(#dO)"/>
<circle cx="629.8" cy="665.6" r="4.2" fill="url(#dO)"/>
<circle cx="658.5" cy="650.8" r="4.2" fill="url(#dO)"/>
<circle cx="474.0" cy="634.6" r="3.9" fill="url(#dH)"/>
<circle cx="472.2" cy="664.7" r="3.9" fill="url(#dH)"/>
<circle cx="496.9" cy="681.2" r="3.9" fill="url(#dH)"/>
<circle cx="523.4" cy="667.6" r="3.9" fill="url(#dH)"/>
<circle cx="649.5" cy="577.8" r="3.9" fill="url(#dH)"/>
<circle cx="674.2" cy="594.3" r="3.9" fill="url(#dH)"/>
<circle cx="672.4" cy="624.4" r="3.9" fill="url(#dH)"/>
<circle cx="623.0" cy="591.4" r="3.9" fill="url(#dH)"/>
<ellipse cx="564.0" cy="592.0" rx="9.6" ry="11.3" fill="#cbc8f1" fill-opacity="0.35"/>
<ellipse cx="582.6" cy="592.2" rx="9.0" ry="11.2" fill="#56bedd" fill-opacity="0.35"/>
<ellipse cx="563.5" cy="663.8" rx="8.9" ry="13.8" fill="#56bedd" fill-opacity="0.35"/>
<ellipse cx="582.0" cy="663.8" rx="9.6" ry="13.8" fill="#cbc8f1" fill-opacity="0.35"/>
<ellipse cx="504.2" cy="590.8" rx="9.5" ry="11.2" fill="#56bedd" fill-opacity="0.35"/>
<ellipse cx="523.4" cy="590.8" rx="9.6" ry="11.2" fill="#cbc8f1" fill-opacity="0.35"/>
<ellipse cx="488.7" cy="603.9" rx="12.0" ry="7.9" fill="#cbc8f1" fill-opacity="0.35" transform="rotate(-15 488.7 603.9)"/>
<ellipse cx="484.0" cy="620.1" rx="14.3" ry="8.4" fill="#56bedd" fill-opacity="0.35" transform="rotate(15 484.0 620.1)"/>
<ellipse cx="658.5" cy="638.7" rx="16.8" ry="9.0" fill="#56bedd" fill-opacity="0.35" transform="rotate(15 658.5 638.7)"/>
<ellipse cx="657.3" cy="653.5" rx="10.7" ry="8.5" fill="#cbc8f1" fill-opacity="0.35" transform="rotate(-15 657.3 653.5)"/>
<ellipse cx="623.9" cy="665.5" rx="8.4" ry="15.5" fill="#cbc8f1" fill-opacity="0.35"/>
<ellipse cx="641.8" cy="665.5" rx="9.6" ry="15.5" fill="#56bedd" fill-opacity="0.35"/>
<ellipse cx="543.0" cy="606.4" rx="9.0" ry="5.4" fill="#56bedd" fill-opacity="0.35"/>
<ellipse cx="543.0" cy="653.0" rx="9.0" ry="6.6" fill="#cbc8f1" fill-opacity="0.35"/>
<ellipse cx="603.5" cy="605.2" rx="9.5" ry="6.6" fill="#cbc8f1" fill-opacity="0.35"/>
<ellipse cx="603.5" cy="653.0" rx="9.5" ry="5.3" fill="#56bedd" fill-opacity="0.35"/>
<ellipse cx="541.9" cy="624.9" rx="13.9" ry="4.9" fill="#cbc8f1" fill-opacity="0.35"/>
<ellipse cx="542.0" cy="638.0" rx="14.0" ry="5.0" fill="#56bedd" fill-opacity="0.35"/>
<ellipse cx="603.5" cy="625.0" rx="14.5" ry="6.0" fill="#56bedd" fill-opacity="0.35"/>
<ellipse cx="603.5" cy="639.0" rx="14.5" ry="6.0" fill="#cbc8f1" fill-opacity="0.35"/>
<ellipse cx="523.4" cy="617.8" rx="8.4" ry="6.0" fill="#56bedd" fill-opacity="0.35"/>
<ellipse cx="562.0" cy="616.0" rx="9.0" ry="8.0" fill="#56bedd" fill-opacity="0.35"/>
<ellipse cx="584.5" cy="616.0" rx="8.5" ry="8.0" fill="#cbc8f1" fill-opacity="0.35"/>
<ellipse cx="562.0" cy="640.0" rx="9.0" ry="8.0" fill="#cbc8f1" fill-opacity="0.35"/>
<ellipse cx="584.5" cy="641.0" rx="8.5" ry="7.0" fill="#56bedd" fill-opacity="0.35"/>
<ellipse cx="622.0" cy="639.0" rx="10.0" ry="7.0" fill="#cbc8f1" fill-opacity="0.35"/>
<ellipse cx="503.0" cy="634.0" rx="9.0" ry="6.0" fill="#cbc8f1" fill-opacity="0.35"/>
<text x="144.3" y="536.9" font-size="20.3" fill="#000" text-anchor="start" >E= 3.45 eV</text>
<text x="526.4" y="569.9" font-size="20.4" fill="#000" text-anchor="start" >E= 2.17 eV</text>
<text x="148.0" y="687.6" font-size="20.9" fill="#000" text-anchor="start" >BBQPD</text>
<text x="530.9" y="708.7" font-size="20.7" fill="#000" text-anchor="start" >BBQPH</text>
<circle cx="168.5" cy="708" r="6.6" fill="url(#lgC)"/>
<text x="182.3" y="714.0" font-size="17" fill="#000" text-anchor="start" >C</text>
<circle cx="224.7" cy="708" r="6.6" fill="url(#lgN)"/>
<text x="234.4" y="714.0" font-size="17" fill="#000" text-anchor="start" >N</text>
<circle cx="277.8" cy="708" r="6.6" fill="url(#lgO)"/>
<text x="290.4" y="714.0" font-size="17" fill="#000" text-anchor="start" >O</text>
<circle cx="336.4" cy="708" r="6.6" fill="url(#lgH)"/>
<text x="346.6" y="714.0" font-size="17" fill="#000" text-anchor="start" >H</text>
<rect x="319" y="441.1" width="42.3" height="184.5" fill="url(#barB)"/>
<rect x="397.4" y="498" width="42" height="150" fill="url(#barP)"/>
<line x1="360.5" y1="441.5" x2="397.5" y2="497.5" stroke="#111" stroke-width="1.5" stroke-dasharray="4.5 3"/>
<line x1="361" y1="623.5" x2="402" y2="677" stroke="#111" stroke-width="1.5" stroke-dasharray="4.5 3"/>
<line x1="334.1" y1="601.4" x2="334.1" y2="638.1" stroke="#93b6c2" stroke-width="3"/>
<polygon points="334.1,646.1 329.8,637.1 338.40000000000003,637.1" fill="#93b6c2"/>
<line x1="417.2" y1="629.3" x2="417.2" y2="665.1" stroke="#f1c9cd" stroke-width="3"/>
<polygon points="417.2,673.1 412.9,664.1 421.5,664.1" fill="#f1c9cd"/>
<line x1="345.3" y1="647" x2="345.3" y2="607.6" stroke="#93b6c2" stroke-width="3"/>
<polygon points="345.3,599.6 341.0,608.6 349.6,608.6" fill="#93b6c2"/>
<line x1="428.7" y1="674" x2="428.7" y2="635.5" stroke="#f1c9cd" stroke-width="3"/>
<polygon points="428.7,627.5 424.4,636.5 433.0,636.5" fill="#f1c9cd"/>
<text x="307.0" y="436.4" font-size="17.5" fill="#000" text-anchor="start" >-3.36 eV</text>
<text x="391.5" y="491.2" font-size="17.6" fill="#000" text-anchor="start" >-5.65 eV</text>
<text x="302.2" y="663.2" font-size="17.6" fill="#000" text-anchor="start" >-6.81 eV</text>
<text x="385.5" y="691.7" font-size="17.3" fill="#000" text-anchor="start" >-7.72 eV</text>
<text x="693.0" y="418.3" font-size="26" fill="#000" text-anchor="start" font-weight="bold" >e</text>
<defs><clipPath id="bclip"><rect x="767.5" y="406.5" width="216.2" height="283"/></clipPath><clipPath id="dclip"><rect x="985.5" y="406.5" width="203.5" height="283"/></clipPath></defs>
<line x1="809.6" y1="406" x2="809.6" y2="690" stroke="#cfcfcf" stroke-width="1"/>
<g clip-path="url(#bclip)" fill="none" stroke="#b06c6c" stroke-width="1.8" stroke-dasharray="1.5 1.9" stroke-opacity="0.95">
<path d="M766.7,413.4 C770.2,413.4 780.9,413.4 788.0,413.4 C795.1,413.4 802.3,414.5 809.6,413.4 C816.9,412.3 824.6,408.7 832.0,407.0 C839.4,405.3 846.7,403.7 854.0,403.0 C861.3,402.3 868.8,403.0 876.0,403.0 C883.2,403.0 890.0,403.0 897.0,403.0 C904.0,403.0 910.8,403.0 918.0,403.0 C925.2,403.0 932.7,402.3 940.0,403.0 C947.3,403.7 954.6,404.5 962.0,407.0 C969.4,409.5 980.7,416.2 984.4,418.0"/>
<path d="M766.7,418.0 C770.2,418.0 780.9,418.0 788.0,418.0 C795.1,418.0 802.3,418.3 809.6,418.0 C816.9,417.7 824.6,416.3 832.0,416.0 C839.4,415.7 846.7,415.8 854.0,416.0 C861.3,416.2 868.8,417.3 876.0,417.0 C883.2,416.7 890.0,414.8 897.0,414.0 C904.0,413.2 910.8,412.5 918.0,412.0 C925.2,411.5 932.7,411.0 940.0,411.0 C947.3,411.0 954.6,411.7 962.0,412.0 C969.4,412.3 980.7,412.8 984.4,413.0"/>
<path d="M766.7,422.3 C770.2,422.3 780.9,422.3 788.0,422.3 C795.1,422.3 802.3,422.4 809.6,422.3 C816.9,422.2 824.6,421.7 832.0,421.5 C839.4,421.3 846.7,421.2 854.0,421.0 C861.3,420.8 868.8,420.7 876.0,420.5 C883.2,420.3 890.0,420.0 897.0,420.0 C904.0,420.0 910.8,420.3 918.0,420.5 C925.2,420.7 932.7,420.8 940.0,421.0 C947.3,421.2 954.6,421.8 962.0,422.0 C969.4,422.2 980.7,422.2 984.4,422.3"/>
<path d="M766.7,431.3 C770.2,431.1 780.9,430.4 788.0,430.0 C795.1,429.6 802.3,429.7 809.6,429.0 C816.9,428.3 824.6,426.8 832.0,426.0 C839.4,425.2 846.7,424.5 854.0,424.0 C861.3,423.5 868.8,423.5 876.0,423.0 C883.2,422.5 890.0,421.2 897.0,421.0 C904.0,420.8 910.8,421.5 918.0,422.0 C925.2,422.5 932.7,423.0 940.0,424.0 C947.3,425.0 954.6,426.7 962.0,428.0 C969.4,429.3 980.7,431.2 984.4,431.9"/>
<path d="M766.7,446.0 C770.2,445.9 780.9,445.7 788.0,445.5 C795.1,445.3 802.3,445.5 809.6,445.0 C816.9,444.5 824.6,443.2 832.0,442.5 C839.4,441.8 846.7,440.9 854.0,440.5 C861.3,440.1 868.8,440.1 876.0,440.0 C883.2,439.9 890.0,439.9 897.0,440.0 C904.0,440.1 910.8,440.2 918.0,440.5 C925.2,440.8 932.7,441.3 940.0,442.0 C947.3,442.7 954.6,443.8 962.0,444.5 C969.4,445.2 980.7,446.2 984.4,446.5"/>
<path d="M766.7,461.2 C770.2,461.2 780.9,461.1 788.0,461.0 C795.1,460.9 802.3,461.4 809.6,460.8 C816.9,460.2 824.6,458.1 832.0,457.5 C839.4,456.9 846.7,457.1 854.0,457.5 C861.3,457.9 868.8,459.5 876.0,459.8 C883.2,460.1 890.0,459.9 897.0,459.5 C904.0,459.1 910.8,457.9 918.0,457.5 C925.2,457.1 932.7,456.9 940.0,457.2 C947.3,457.4 954.6,458.3 962.0,459.0 C969.4,459.7 980.7,460.8 984.4,461.2"/>
<path d="M766.7,482.4 C770.2,482.4 780.9,482.4 788.0,482.4 C795.1,482.4 802.3,482.1 809.6,482.4 C816.9,482.7 824.6,483.3 832.0,484.0 C839.4,484.7 846.7,485.9 854.0,486.5 C861.3,487.1 868.8,487.6 876.0,487.8 C883.2,488.0 890.0,487.9 897.0,487.8 C904.0,487.7 910.8,487.5 918.0,487.0 C925.2,486.5 932.7,485.7 940.0,485.0 C947.3,484.3 954.6,483.4 962.0,483.0 C969.4,482.6 980.7,482.5 984.4,482.4"/>
<path d="M766.7,502.7 C770.2,502.7 780.9,502.7 788.0,502.7 C795.1,502.7 802.3,503.1 809.6,502.7 C816.9,502.3 824.6,501.2 832.0,500.5 C839.4,499.8 846.7,499.0 854.0,498.5 C861.3,498.0 868.8,497.9 876.0,497.5 C883.2,497.1 890.0,496.1 897.0,496.0 C904.0,495.9 910.8,496.0 918.0,497.0 C925.2,498.0 932.7,500.8 940.0,502.0 C947.3,503.2 954.6,504.4 962.0,504.5 C969.4,504.6 980.7,503.0 984.4,502.7"/>
<path d="M766.7,518.3 C770.2,518.2 780.9,518.1 788.0,518.0 C795.1,517.9 802.3,518.7 809.6,517.7 C816.9,516.7 824.6,513.6 832.0,512.0 C839.4,510.4 846.7,508.8 854.0,508.0 C861.3,507.2 868.8,507.4 876.0,507.3 C883.2,507.2 890.0,507.4 897.0,507.5 C904.0,507.6 910.8,507.6 918.0,508.0 C925.2,508.4 932.7,508.7 940.0,509.7 C947.3,510.7 954.6,512.6 962.0,514.0 C969.4,515.4 980.7,517.6 984.4,518.3"/>
<path d="M766.7,534.2 C770.2,534.2 780.9,534.1 788.0,534.0 C795.1,533.9 802.3,534.9 809.6,533.6 C816.9,532.3 824.6,528.3 832.0,526.0 C839.4,523.7 846.7,521.3 854.0,520.0 C861.3,518.7 868.8,518.4 876.0,518.3 C883.2,518.2 890.0,519.1 897.0,519.5 C904.0,519.9 910.8,519.8 918.0,520.7 C925.2,521.6 932.7,523.5 940.0,525.0 C947.3,526.5 954.6,528.4 962.0,530.0 C969.4,531.6 980.7,533.8 984.4,534.6"/>
<path d="M766.7,542.6 C770.2,542.5 780.9,542.4 788.0,542.3 C795.1,542.2 802.3,543.5 809.6,542.0 C816.9,540.5 824.6,535.8 832.0,533.0 C839.4,530.2 846.7,526.5 854.0,525.0 C861.3,523.5 868.8,524.1 876.0,523.7 C883.2,523.3 890.0,522.7 897.0,522.5 C904.0,522.3 910.8,521.4 918.0,522.3 C925.2,523.2 932.7,525.7 940.0,528.0 C947.3,530.3 954.6,533.6 962.0,536.0 C969.4,538.4 980.7,541.5 984.4,542.6"/>
<path d="M766.7,563.6 C770.2,563.6 780.9,563.6 788.0,563.6 C795.1,563.6 802.3,563.5 809.6,563.6 C816.9,563.8 824.6,564.2 832.0,564.5 C839.4,564.8 846.7,565.2 854.0,565.5 C861.3,565.8 868.8,565.9 876.0,566.0 C883.2,566.1 890.0,566.1 897.0,566.0 C904.0,565.9 910.8,565.8 918.0,565.5 C925.2,565.2 932.7,564.8 940.0,564.5 C947.3,564.2 954.6,564.1 962.0,564.0 C969.4,563.9 980.7,563.7 984.4,563.6"/>
<path d="M766.7,565.6 C770.2,565.6 780.9,565.6 788.0,565.6 C795.1,565.6 802.3,565.5 809.6,565.6 C816.9,565.8 824.6,566.2 832.0,566.5 C839.4,566.8 846.7,567.2 854.0,567.5 C861.3,567.8 868.8,567.9 876.0,568.0 C883.2,568.1 890.0,568.1 897.0,568.0 C904.0,567.9 910.8,567.8 918.0,567.5 C925.2,567.2 932.7,566.8 940.0,566.5 C947.3,566.2 954.6,566.1 962.0,566.0 C969.4,565.9 980.7,565.7 984.4,565.6"/>
<path d="M766.7,567.6 C770.2,567.6 780.9,567.6 788.0,567.6 C795.1,567.6 802.3,567.5 809.6,567.6 C816.9,567.8 824.6,568.2 832.0,568.5 C839.4,568.8 846.7,569.2 854.0,569.5 C861.3,569.8 868.8,569.9 876.0,570.0 C883.2,570.1 890.0,570.1 897.0,570.0 C904.0,569.9 910.8,569.8 918.0,569.5 C925.2,569.2 932.7,568.8 940.0,568.5 C947.3,568.2 954.6,568.1 962.0,568.0 C969.4,567.9 980.7,567.7 984.4,567.6"/>
<path d="M766.7,573.0 C770.2,573.0 780.9,573.0 788.0,573.0 C795.1,573.0 802.3,571.8 809.6,573.0 C816.9,574.2 824.6,576.8 832.0,580.0 C839.4,583.2 846.7,588.7 854.0,592.0 C861.3,595.3 868.8,598.3 876.0,600.0 C883.2,601.7 890.0,602.3 897.0,602.0 C904.0,601.7 910.8,600.3 918.0,598.0 C925.2,595.7 932.7,591.3 940.0,588.0 C947.3,584.7 954.6,580.5 962.0,578.0 C969.4,575.5 980.7,573.8 984.4,573.0"/>
<path d="M766.7,575.0 C770.2,575.0 780.9,575.0 788.0,575.0 C795.1,575.0 802.3,573.7 809.6,575.0 C816.9,576.3 824.6,579.7 832.0,583.0 C839.4,586.3 846.7,591.8 854.0,595.0 C861.3,598.2 868.8,601.0 876.0,602.5 C883.2,604.0 890.0,604.4 897.0,604.0 C904.0,603.6 910.8,602.3 918.0,600.0 C925.2,597.7 932.7,593.3 940.0,590.0 C947.3,586.7 954.6,582.5 962.0,580.0 C969.4,577.5 980.7,575.8 984.4,575.0"/>
<path d="M766.7,580.0 C770.2,580.0 780.9,580.0 788.0,580.0 C795.1,580.0 802.3,580.2 809.6,580.0 C816.9,579.8 824.6,579.2 832.0,579.0 C839.4,578.8 846.7,579.0 854.0,579.0 C861.3,579.0 868.8,579.0 876.0,579.0 C883.2,579.0 890.0,579.0 897.0,579.0 C904.0,579.0 910.8,578.9 918.0,579.0 C925.2,579.1 932.7,579.3 940.0,579.5 C947.3,579.7 954.6,579.9 962.0,580.0 C969.4,580.1 980.7,580.0 984.4,580.0"/>
<path d="M766.7,586.5 C770.2,586.5 780.9,586.5 788.0,586.5 C795.1,586.5 802.3,586.3 809.6,586.5 C816.9,586.7 824.6,587.2 832.0,587.5 C839.4,587.8 846.7,588.2 854.0,588.5 C861.3,588.8 868.8,589.2 876.0,589.5 C883.2,589.8 890.0,590.0 897.0,590.0 C904.0,590.0 910.8,589.8 918.0,589.5 C925.2,589.2 932.7,588.8 940.0,588.5 C947.3,588.2 954.6,587.8 962.0,587.5 C969.4,587.2 980.7,586.7 984.4,586.5"/>
<path d="M766.7,588.5 C770.2,588.5 780.9,588.5 788.0,588.5 C795.1,588.5 802.3,588.3 809.6,588.5 C816.9,588.7 824.6,589.2 832.0,589.5 C839.4,589.8 846.7,590.2 854.0,590.5 C861.3,590.8 868.8,591.2 876.0,591.5 C883.2,591.8 890.0,592.0 897.0,592.0 C904.0,592.0 910.8,591.8 918.0,591.5 C925.2,591.2 932.7,590.8 940.0,590.5 C947.3,590.2 954.6,589.8 962.0,589.5 C969.4,589.2 980.7,588.7 984.4,588.5"/>
<path d="M766.7,590.5 C770.2,590.5 780.9,590.5 788.0,590.5 C795.1,590.5 802.3,590.3 809.6,590.5 C816.9,590.7 824.6,591.2 832.0,591.5 C839.4,591.8 846.7,592.2 854.0,592.5 C861.3,592.8 868.8,593.2 876.0,593.5 C883.2,593.8 890.0,594.0 897.0,594.0 C904.0,594.0 910.8,593.8 918.0,593.5 C925.2,593.2 932.7,592.8 940.0,592.5 C947.3,592.2 954.6,591.8 962.0,591.5 C969.4,591.2 980.7,590.7 984.4,590.5"/>
<path d="M766.7,593.0 C770.2,593.0 780.9,593.0 788.0,593.0 C795.1,593.0 802.3,592.7 809.6,593.0 C816.9,593.3 824.6,594.3 832.0,595.0 C839.4,595.7 846.7,596.5 854.0,597.0 C861.3,597.5 868.8,597.8 876.0,598.0 C883.2,598.2 890.0,598.1 897.0,598.0 C904.0,597.9 910.8,597.8 918.0,597.5 C925.2,597.2 932.7,596.6 940.0,596.0 C947.3,595.4 954.6,594.5 962.0,594.0 C969.4,593.5 980.7,593.2 984.4,593.0"/>
<path d="M766.7,600.0 C770.2,600.0 780.9,600.1 788.0,600.0 C795.1,599.9 802.3,599.3 809.6,599.5 C816.9,599.7 824.6,600.4 832.0,601.0 C839.4,601.6 846.7,602.5 854.0,603.0 C861.3,603.5 868.8,603.8 876.0,604.0 C883.2,604.2 890.0,604.1 897.0,604.0 C904.0,603.9 910.8,603.8 918.0,603.5 C925.2,603.2 932.7,602.4 940.0,602.0 C947.3,601.6 954.6,601.3 962.0,601.0 C969.4,600.7 980.7,600.2 984.4,600.0"/>
<path d="M766.7,606.0 C770.2,606.0 780.9,606.0 788.0,606.0 C795.1,606.0 802.3,605.8 809.6,606.0 C816.9,606.2 824.6,606.8 832.0,607.0 C839.4,607.2 846.7,607.3 854.0,607.5 C861.3,607.7 868.8,607.9 876.0,608.0 C883.2,608.1 890.0,608.1 897.0,608.0 C904.0,607.9 910.8,607.7 918.0,607.5 C925.2,607.3 932.7,607.2 940.0,607.0 C947.3,606.8 954.6,606.7 962.0,606.5 C969.4,606.3 980.7,606.1 984.4,606.0"/>
<path d="M766.7,611.0 C770.2,611.0 780.9,611.0 788.0,611.0 C795.1,611.0 802.3,610.9 809.6,611.0 C816.9,611.1 824.6,611.3 832.0,611.5 C839.4,611.7 846.7,611.9 854.0,612.0 C861.3,612.1 868.8,612.0 876.0,612.0 C883.2,612.0 890.0,612.0 897.0,612.0 C904.0,612.0 910.8,612.1 918.0,612.0 C925.2,611.9 932.7,611.7 940.0,611.5 C947.3,611.3 954.6,611.1 962.0,611.0 C969.4,610.9 980.7,611.0 984.4,611.0"/>
<path d="M766.7,619.0 C770.2,619.0 780.9,619.0 788.0,619.0 C795.1,619.0 802.3,618.2 809.6,619.0 C816.9,619.8 824.6,622.0 832.0,624.0 C839.4,626.0 846.7,628.9 854.0,631.0 C861.3,633.1 868.8,635.3 876.0,636.5 C883.2,637.7 890.0,638.2 897.0,638.0 C904.0,637.8 910.8,637.2 918.0,635.5 C925.2,633.8 932.7,630.2 940.0,628.0 C947.3,625.8 954.6,623.5 962.0,622.0 C969.4,620.5 980.7,619.5 984.4,619.0"/>
<path d="M766.7,627.5 C770.2,627.5 780.9,627.5 788.0,627.5 C795.1,627.5 802.3,627.1 809.6,627.5 C816.9,627.9 824.6,629.3 832.0,630.0 C839.4,630.7 846.7,631.2 854.0,631.5 C861.3,631.8 868.8,631.9 876.0,632.0 C883.2,632.1 890.0,632.1 897.0,632.0 C904.0,631.9 910.8,631.8 918.0,631.5 C925.2,631.2 932.7,630.5 940.0,630.0 C947.3,629.5 954.6,628.9 962.0,628.5 C969.4,628.1 980.7,627.7 984.4,627.5"/>
<path d="M766.7,629.0 C770.2,629.0 780.9,629.0 788.0,629.0 C795.1,629.0 802.3,628.5 809.6,629.0 C816.9,629.5 824.6,631.2 832.0,632.0 C839.4,632.8 846.7,633.5 854.0,634.0 C861.3,634.5 868.8,634.8 876.0,635.0 C883.2,635.2 890.0,635.1 897.0,635.0 C904.0,634.9 910.8,635.0 918.0,634.5 C925.2,634.0 932.7,632.8 940.0,632.0 C947.3,631.2 954.6,630.5 962.0,630.0 C969.4,629.5 980.7,629.2 984.4,629.0"/>
<path d="M766.7,630.5 C770.2,630.5 780.9,630.5 788.0,630.5 C795.1,630.5 802.3,629.9 809.6,630.5 C816.9,631.1 824.6,632.7 832.0,634.0 C839.4,635.3 846.7,637.2 854.0,638.5 C861.3,639.8 868.8,640.9 876.0,641.5 C883.2,642.1 890.0,642.2 897.0,642.0 C904.0,641.8 910.8,641.2 918.0,640.0 C925.2,638.8 932.7,636.4 940.0,635.0 C947.3,633.6 954.6,632.2 962.0,631.5 C969.4,630.8 980.7,630.7 984.4,630.5"/>
<path d="M766.7,648.7 C770.2,648.7 780.9,648.7 788.0,648.7 C795.1,648.7 802.3,648.6 809.6,648.5 C816.9,648.4 824.6,648.2 832.0,648.0 C839.4,647.8 846.7,647.2 854.0,647.0 C861.3,646.8 868.8,646.8 876.0,646.7 C883.2,646.7 890.0,646.7 897.0,646.7 C904.0,646.8 910.8,646.9 918.0,647.0 C925.2,647.1 932.7,647.3 940.0,647.5 C947.3,647.7 954.6,648.0 962.0,648.2 C969.4,648.4 980.7,648.6 984.4,648.7"/>
<path d="M766.7,653.5 C770.2,653.5 780.9,653.5 788.0,653.5 C795.1,653.5 802.3,653.2 809.6,653.5 C816.9,653.8 824.6,654.3 832.0,655.0 C839.4,655.7 846.7,656.8 854.0,657.5 C861.3,658.2 868.8,659.1 876.0,659.5 C883.2,659.9 890.0,660.1 897.0,660.0 C904.0,659.9 910.8,659.6 918.0,659.0 C925.2,658.4 932.7,657.2 940.0,656.5 C947.3,655.8 954.6,655.0 962.0,654.5 C969.4,654.0 980.7,653.7 984.4,653.5"/>
<path d="M766.7,655.5 C770.2,655.5 780.9,655.5 788.0,655.5 C795.1,655.5 802.3,655.2 809.6,655.5 C816.9,655.8 824.6,656.3 832.0,657.0 C839.4,657.7 846.7,658.8 854.0,659.5 C861.3,660.2 868.8,661.1 876.0,661.5 C883.2,661.9 890.0,662.1 897.0,662.0 C904.0,661.9 910.8,661.6 918.0,661.0 C925.2,660.4 932.7,659.2 940.0,658.5 C947.3,657.8 954.6,657.0 962.0,656.5 C969.4,656.0 980.7,655.7 984.4,655.5"/>
<path d="M766.7,659.7 C770.2,659.7 780.9,659.7 788.0,659.7 C795.1,659.7 802.3,659.4 809.6,659.7 C816.9,660.0 824.6,660.8 832.0,661.5 C839.4,662.2 846.7,663.3 854.0,664.0 C861.3,664.7 868.8,665.4 876.0,665.7 C883.2,666.0 890.0,666.1 897.0,666.0 C904.0,665.9 910.8,665.6 918.0,665.0 C925.2,664.4 932.7,663.2 940.0,662.5 C947.3,661.8 954.6,661.0 962.0,660.5 C969.4,660.0 980.7,659.8 984.4,659.7"/>
<path d="M766.7,665.7 C770.2,665.7 780.9,665.7 788.0,665.7 C795.1,665.7 802.3,665.4 809.6,665.7 C816.9,666.0 824.6,666.8 832.0,667.5 C839.4,668.2 846.7,669.3 854.0,670.0 C861.3,670.7 868.8,671.4 876.0,671.7 C883.2,672.0 890.0,672.1 897.0,672.0 C904.0,671.9 910.8,671.6 918.0,671.0 C925.2,670.4 932.7,669.2 940.0,668.5 C947.3,667.8 954.6,667.0 962.0,666.5 C969.4,666.0 980.7,665.8 984.4,665.7"/>
<path d="M766.7,671.7 C770.2,671.7 780.9,671.7 788.0,671.7 C795.1,671.7 802.3,671.5 809.6,671.7 C816.9,671.9 824.6,672.5 832.0,673.0 C839.4,673.5 846.7,674.4 854.0,675.0 C861.3,675.6 868.8,676.3 876.0,676.6 C883.2,676.9 890.0,677.1 897.0,677.0 C904.0,676.9 910.8,676.5 918.0,676.0 C925.2,675.5 932.7,674.6 940.0,674.0 C947.3,673.4 954.6,672.9 962.0,672.5 C969.4,672.1 980.7,671.8 984.4,671.7"/>
<path d="M766.7,677.0 C770.2,677.0 780.9,677.0 788.0,677.0 C795.1,677.0 802.3,676.8 809.6,677.0 C816.9,677.2 824.6,677.9 832.0,678.5 C839.4,679.1 846.7,679.8 854.0,680.5 C861.3,681.2 868.8,682.2 876.0,682.6 C883.2,683.0 890.0,683.1 897.0,683.0 C904.0,682.9 910.8,682.5 918.0,682.0 C925.2,681.5 932.7,680.7 940.0,680.0 C947.3,679.3 954.6,678.5 962.0,678.0 C969.4,677.5 980.7,677.2 984.4,677.0"/>
<path d="M766.7,685.2 C770.2,685.2 780.9,685.2 788.0,685.2 C795.1,685.2 802.3,684.4 809.6,685.2 C816.9,686.0 824.6,688.4 832.0,690.0 C839.4,691.6 846.7,693.7 854.0,695.0 C861.3,696.3 868.8,697.5 876.0,698.0 C883.2,698.5 890.0,698.3 897.0,698.0 C904.0,697.7 910.8,697.0 918.0,696.0 C925.2,695.0 932.7,693.3 940.0,692.0 C947.3,690.7 954.6,689.1 962.0,688.0 C969.4,686.9 980.7,685.7 984.4,685.2"/>
</g>
<path d="M835,628.5 C860,631.5 880,632 900,632 C930,632 950,631 970,629.5" fill="none" stroke="#b47a7a" stroke-width="1.5" stroke-opacity="0.8"/>
<line x1="986" y1="563.2" x2="1189" y2="563.2" stroke="#d9bcbc" stroke-width="2.2" stroke-dasharray="2.2 2.2"/>
<g clip-path="url(#dclip)" fill="none" stroke-width="2.8" stroke-linejoin="round">
<path d="M1027.9,405.6 C1027.7,411.3 1027.2,429.9 1026.9,439.9 C1026.6,449.9 1023.9,458.5 1025.9,465.8 C1027.9,473.1 1037.6,478.5 1038.8,483.8 C1040.0,489.1 1033.9,491.7 1032.9,497.7 C1031.9,503.7 1033.9,512.3 1032.9,519.7 C1031.9,527.1 1028.1,536.6 1027.0,542.0 C1025.9,547.4 1025.7,548.1 1026.4,552.1 C1027.2,556.1 1027.6,560.9 1031.5,566.3 C1035.4,571.7 1048.4,579.1 1049.7,584.5 C1051.0,589.9 1041.3,593.6 1039.6,598.6 C1037.9,603.6 1037.6,610.8 1039.6,614.8 C1041.6,618.8 1046.2,620.5 1051.7,622.9 C1057.2,625.2 1073.9,626.5 1072.9,628.9 C1071.9,631.2 1051.7,634.3 1045.6,637.0 C1039.5,639.7 1035.7,640.7 1036.5,645.1 C1037.3,649.5 1050.2,658.6 1050.7,663.3 C1051.2,668.0 1042.8,670.4 1039.6,673.4 C1036.4,676.4 1033.0,678.8 1031.5,681.5 C1030.0,684.2 1030.7,688.2 1030.5,689.6" stroke="#4a88c8"/>
<path d="M1029.9,405.6 C1030.4,408.0 1032.9,414.2 1032.9,419.9 C1032.9,425.6 1030.7,431.9 1029.9,439.9 C1029.1,447.9 1028.4,461.8 1027.9,467.8 C1027.4,473.8 1026.2,471.2 1026.9,475.8 C1027.6,480.4 1029.8,489.0 1031.9,495.7 C1034.1,502.4 1038.8,510.1 1039.8,515.7 C1040.8,521.4 1039.7,524.9 1037.9,529.6 C1036.1,534.3 1030.2,539.9 1029.0,544.0 C1027.8,548.1 1026.7,551.4 1030.5,554.1 C1034.3,556.8 1044.8,558.0 1051.7,560.2 C1058.6,562.4 1070.6,564.4 1071.9,567.3 C1073.2,570.2 1060.1,573.9 1059.8,577.4 C1059.5,580.9 1066.2,584.1 1069.9,588.5 C1073.6,592.9 1082.7,600.2 1082.0,603.7 C1081.3,607.2 1071.9,607.5 1065.8,609.7 C1059.7,611.9 1050.6,614.3 1045.6,616.8 C1040.5,619.3 1037.0,620.2 1035.5,624.9 C1034.0,629.6 1034.3,638.4 1036.5,645.1 C1038.7,651.8 1047.2,659.6 1048.7,665.3 C1050.2,671.0 1046.1,675.5 1045.6,679.5 C1045.1,683.5 1045.6,687.9 1045.6,689.6" stroke="#ff9494"/>
<path d="M1052.8,405.6 C1057.3,406.7 1072.8,409.8 1080.0,412.0 C1087.2,414.2 1096.5,416.3 1095.7,419.0 C1094.9,421.7 1081.2,425.5 1075.0,428.0 C1068.8,430.5 1062.2,431.4 1058.8,433.9 C1055.4,436.4 1056.1,440.2 1054.8,442.9 C1053.5,445.6 1050.8,447.8 1050.8,449.9 C1050.8,452.0 1057.6,452.5 1054.8,455.8 C1052.0,459.1 1036.2,465.1 1033.9,469.8 C1031.6,474.5 1039.5,479.8 1040.8,483.8 C1042.1,487.8 1039.6,490.1 1041.8,493.7 C1044.0,497.3 1052.1,500.7 1053.8,505.7 C1055.5,510.7 1054.0,518.4 1051.8,523.7 C1049.6,529.0 1044.1,533.6 1040.8,537.6 C1037.5,541.6 1032.8,544.2 1031.9,547.6 C1031.0,551.0 1030.5,554.1 1035.5,558.2 C1040.5,562.3 1052.4,568.3 1061.8,572.3 C1071.2,576.3 1084.2,579.2 1092.1,582.4 C1100.0,585.6 1108.3,588.8 1109.3,591.5 C1110.3,594.2 1105.5,596.4 1098.2,598.6 C1091.0,600.8 1074.4,602.3 1065.8,604.7 C1057.2,607.1 1049.3,610.4 1046.6,612.8 C1043.9,615.1 1045.8,615.4 1049.7,618.8 C1053.6,622.2 1062.2,628.3 1069.9,633.0 C1077.7,637.7 1090.1,643.2 1096.2,647.1 C1102.3,651.0 1106.3,653.5 1106.3,656.2 C1106.3,658.9 1103.0,660.8 1096.2,663.3 C1089.5,665.8 1072.7,668.7 1065.8,671.4 C1058.9,674.1 1055.4,676.5 1054.7,679.5 C1054.0,682.5 1060.6,687.9 1061.8,689.6" stroke="#a9a9a9"/>
<path d="M1062.8,405.6 C1067.3,406.7 1082.7,409.9 1090.0,412.0 C1097.3,414.1 1107.5,415.7 1106.7,418.0 C1105.9,420.3 1092.3,423.8 1085.0,426.0 C1077.7,428.2 1067.2,428.4 1062.8,431.0 C1058.4,433.6 1059.8,438.8 1058.8,441.9 C1057.8,445.0 1057.0,447.4 1056.8,449.9 C1056.6,452.4 1061.3,453.6 1057.8,456.8 C1054.3,460.0 1035.9,464.6 1035.9,468.8 C1035.9,473.0 1054.8,478.3 1057.8,481.8 C1060.8,485.3 1051.3,486.1 1053.8,489.7 C1056.3,493.3 1069.6,498.7 1072.8,503.7 C1076.0,508.7 1076.5,514.7 1072.8,519.7 C1069.1,524.7 1057.4,529.3 1050.8,533.6 C1044.2,537.9 1035.2,542.0 1033.0,545.6 C1030.8,549.2 1028.7,552.4 1037.5,555.2 C1046.3,558.0 1073.9,560.0 1086.0,562.2 C1098.1,564.4 1104.9,566.3 1110.3,568.3 C1115.7,570.3 1113.0,572.2 1118.4,574.4 C1123.8,576.6 1132.5,578.9 1142.6,581.4 C1152.7,583.9 1175.0,587.3 1179.0,589.5 C1183.0,591.7 1175.7,592.1 1166.9,594.6 C1158.2,597.1 1140.0,601.5 1126.5,604.7 C1113.0,607.9 1093.1,611.4 1086.0,613.8 C1078.9,616.1 1080.6,616.9 1084.0,618.8 C1087.4,620.6 1098.4,622.9 1106.3,624.9 C1114.2,626.9 1129.2,629.0 1131.5,631.0 C1133.8,633.0 1121.2,634.6 1120.4,637.0 C1119.6,639.4 1120.1,641.9 1126.5,645.1 C1132.9,648.3 1156.1,653.2 1158.8,656.2 C1161.5,659.2 1152.7,660.4 1142.6,663.3 C1132.5,666.2 1108.3,670.4 1098.2,673.4 C1088.1,676.4 1083.0,678.8 1082.0,681.5 C1081.0,684.2 1090.4,688.2 1092.1,689.6" stroke="#a87070"/>
</g>
<line x1="1107.7" y1="423" x2="1146.1" y2="423" stroke="#a87070" stroke-width="3"/>
<text x="1149.5" y="428.3" font-size="17.7" fill="#000" text-anchor="start" >Total</text>
<line x1="1107.7" y1="444.9" x2="1146.1" y2="444.9" stroke="#a9a9a9" stroke-width="3"/>
<text x="1149.5" y="450.2" font-size="17.7" fill="#000" text-anchor="start" >C</text>
<line x1="1107.7" y1="466.8" x2="1146.1" y2="466.8" stroke="#ff9494" stroke-width="3"/>
<text x="1149.5" y="472.1" font-size="17.7" fill="#000" text-anchor="start" >O</text>
<line x1="1107.7" y1="489.1" x2="1146.1" y2="489.1" stroke="#4a88c8" stroke-width="3"/>
<text x="1149.5" y="494.4" font-size="17.7" fill="#000" text-anchor="start" >N</text>
<path d="M766.5,405.8 H1190.2 V690.2 H766.5 Z" fill="none" stroke="#000" stroke-width="2.2"/>
<line x1="984.6" y1="405.8" x2="984.6" y2="690.2" stroke="#000" stroke-width="2.4"/>
<line x1="761.5" y1="438.2" x2="766.5" y2="438.2" stroke="#000" stroke-width="2"/>
<text x="757.5" y="444.4" font-size="17.8" fill="#000" text-anchor="end" >4</text>
<line x1="761.5" y1="501.1" x2="766.5" y2="501.1" stroke="#000" stroke-width="2"/>
<text x="757.5" y="507.3" font-size="17.8" fill="#000" text-anchor="end" >2</text>
<line x1="761.5" y1="564.0" x2="766.5" y2="564.0" stroke="#000" stroke-width="2"/>
<text x="757.5" y="570.2" font-size="17.8" fill="#000" text-anchor="end" >0</text>
<line x1="761.5" y1="626.9" x2="766.5" y2="626.9" stroke="#000" stroke-width="2"/>
<text x="757.5" y="633.1" font-size="17.8" fill="#000" text-anchor="end" >-2</text>
<line x1="761.5" y1="689.8" x2="766.5" y2="689.8" stroke="#000" stroke-width="2"/>
<text x="757.5" y="696.0" font-size="17.8" fill="#000" text-anchor="end" >-4</text>
<line x1="763.5" y1="469.6" x2="766.5" y2="469.6" stroke="#000" stroke-width="1.6"/>
<line x1="763.5" y1="532.5" x2="766.5" y2="532.5" stroke="#000" stroke-width="1.6"/>
<line x1="763.5" y1="595.5" x2="766.5" y2="595.5" stroke="#000" stroke-width="1.6"/>
<line x1="763.5" y1="658.4" x2="766.5" y2="658.4" stroke="#000" stroke-width="1.6"/>
<line x1="766.4" y1="690" x2="766.4" y2="695.5" stroke="#000" stroke-width="1.8"/>
<line x1="788.8" y1="690" x2="788.8" y2="693.5" stroke="#000" stroke-width="1.8"/>
<line x1="809.8" y1="690" x2="809.8" y2="695.5" stroke="#000" stroke-width="1.8"/>
<line x1="832" y1="690" x2="832" y2="693.5" stroke="#000" stroke-width="1.8"/>
<line x1="853.8" y1="690" x2="853.8" y2="695.5" stroke="#000" stroke-width="1.8"/>
<line x1="876" y1="690" x2="876" y2="693.5" stroke="#000" stroke-width="1.8"/>
<line x1="897" y1="690" x2="897" y2="695.5" stroke="#000" stroke-width="1.8"/>
<line x1="918.8" y1="690" x2="918.8" y2="693.5" stroke="#000" stroke-width="1.8"/>
<line x1="940.4" y1="690" x2="940.4" y2="695.5" stroke="#000" stroke-width="1.8"/>
<line x1="962" y1="690" x2="962" y2="693.5" stroke="#000" stroke-width="1.8"/>
<line x1="984.4" y1="690" x2="984.4" y2="695.5" stroke="#000" stroke-width="1.8"/>
<text x="767.6" y="715.9" font-size="19.5" fill="#000" text-anchor="middle" >G</text>
<text x="811.0" y="715.9" font-size="19.5" fill="#000" text-anchor="middle" >F</text>
<text x="876.0" y="715.9" font-size="19.5" fill="#000" text-anchor="middle" >Q</text>
<text x="918.0" y="715.9" font-size="19.5" fill="#000" text-anchor="middle" >Z</text>
<text x="984.4" y="715.9" font-size="19.5" fill="#000" text-anchor="middle" >G</text>
<line x1="1004.8" y1="690" x2="1004.8" y2="693.5" stroke="#000" stroke-width="1.8"/>
<line x1="1025.3" y1="690" x2="1025.3" y2="695.5" stroke="#000" stroke-width="1.8"/>
<line x1="1045.8" y1="690" x2="1045.8" y2="693.5" stroke="#000" stroke-width="1.8"/>
<line x1="1066.3" y1="690" x2="1066.3" y2="695.5" stroke="#000" stroke-width="1.8"/>
<line x1="1086.9" y1="690" x2="1086.9" y2="693.5" stroke="#000" stroke-width="1.8"/>
<line x1="1107.4" y1="690" x2="1107.4" y2="695.5" stroke="#000" stroke-width="1.8"/>
<line x1="1127.9" y1="690" x2="1127.9" y2="693.5" stroke="#000" stroke-width="1.8"/>
<line x1="1148.5" y1="690" x2="1148.5" y2="695.5" stroke="#000" stroke-width="1.8"/>
<line x1="1169.0" y1="690" x2="1169.0" y2="693.5" stroke="#000" stroke-width="1.8"/>
<line x1="1189.5" y1="690" x2="1189.5" y2="695.5" stroke="#000" stroke-width="1.8"/>
<text x="1025.3" y="715.9" font-size="19.5" fill="#000" text-anchor="middle" >0</text>
<text x="1066.3" y="715.9" font-size="19.5" fill="#000" text-anchor="middle" >5</text>
<text x="1107.4" y="715.9" font-size="19.5" fill="#000" text-anchor="middle" >10</text>
<text x="1148.5" y="715.9" font-size="19.5" fill="#000" text-anchor="middle" >15</text>
<text x="1189.5" y="715.9" font-size="19.5" fill="#000" text-anchor="middle" >20</text>
<text x="1096.5" y="740.5" font-size="20.7" fill="#000" text-anchor="middle" >DOS</text>
<text transform="translate(740.3,678.3) rotate(-90)" font-size="22.8">Femi aligned energy (eV)</text>
</svg></body></html>
